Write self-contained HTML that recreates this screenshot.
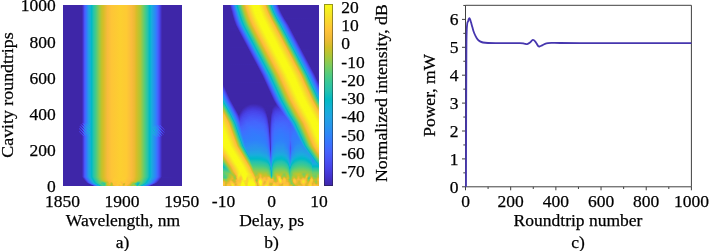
<!DOCTYPE html><html><head><meta charset="utf-8"><style>html,body{margin:0;padding:0;background:#fff}#f{position:relative;width:709px;height:251px;overflow:hidden;background:#fff}svg{position:absolute;left:0;top:0;will-change:transform}text{font-family:'Liberation Serif', serif;font-size:17.5px;fill:#000;stroke:#000;stroke-width:0.25px}</style></head><body><div id="f">
<div style="position:absolute;left:63px;top:5px;width:119px;height:118px;background:linear-gradient(90deg,#3e26a8 0.0px,#3e26a8 18.5px,#412dbc 19.5px,#463cde 20.5px,#4758f8 21.5px,#4368fe 22.5px,#347afd 23.5px,#259ce7 25.5px,#11b1d6 27.5px,#01b8c8 28.5px,#10beba 29.5px,#27c2ac 30.5px,#41ca8c 32.5px,#99c946 36.5px,#c0c32d 38.5px,#d7be28 40.5px,#f8ba3d 44.5px,#fec537 48.5px,#fccf30 57.5px,#feca33 63.5px,#fabb3d 68.5px,#ecba32 71.5px,#d6be28 73.5px,#b6c532 76.5px,#abc739 77.5px,#58cc79 81.5px,#36c899 83.5px,#2ac3a9 84.5px,#02bac5 86.5px,#08b4d1 87.5px,#18aedb 88.5px,#2e85f8 92.5px,#3777fe 93.5px,#4368fd 94.5px,#4758f8 95.5px,#4848ec 96.5px,#4538d7 97.5px,#412cb9 98.5px,#3e26a8 99.5px,#3e26a8 119.0px)"></div>
<div style="position:absolute;left:63px;top:123px;width:119px;height:1px;background:linear-gradient(90deg,#3e26a8 0.0px,#3e26a8 18.5px,#463bdc 19.5px,#484bef 20.5px,#4755f6 21.5px,#317dfc 22.5px,#307ffb 23.5px,#1ea8e1 26.5px,#01b8c8 28.5px,#10beba 29.5px,#27c2ac 30.5px,#41ca8c 32.5px,#99c946 36.5px,#c0c32d 38.5px,#d7be28 40.5px,#f8ba3d 44.5px,#fec537 48.5px,#fccf30 57.5px,#feca33 63.5px,#fabb3d 68.5px,#ecba32 71.5px,#d6be28 73.5px,#b6c532 76.5px,#abc739 77.5px,#58cc79 81.5px,#36c899 83.5px,#2ac3a9 84.5px,#02bac5 86.5px,#08b4d1 87.5px,#18aedb 88.5px,#2e85f8 92.5px,#3777fe 93.5px,#4368fd 94.5px,#4758f8 95.5px,#4848ec 96.5px,#4538d7 97.5px,#412cb9 98.5px,#3e26a8 99.5px,#3e26a8 119.0px)"></div>
<div style="position:absolute;left:63px;top:124px;width:119px;height:1px;background:linear-gradient(90deg,#3e26a8 0.0px,#3e26a8 16.5px,#4434cf 18.5px,#3f29b2 19.5px,#475af9 20.5px,#3e6fff 21.5px,#4564fd 22.5px,#2b92ef 23.5px,#2b92ee 24.5px,#1ea8e1 26.5px,#01b8c8 28.5px,#10beba 29.5px,#27c2ac 30.5px,#41ca8c 32.5px,#99c946 36.5px,#c0c32d 38.5px,#d7be28 40.5px,#f8ba3d 44.5px,#fec537 48.5px,#fccf30 57.5px,#feca33 63.5px,#fabb3d 68.5px,#ecba32 71.5px,#d6be28 73.5px,#b6c532 76.5px,#abc739 77.5px,#58cc79 81.5px,#36c899 83.5px,#2ac3a9 84.5px,#02bac5 86.5px,#08b4d1 87.5px,#18aedb 88.5px,#2e85f8 92.5px,#3777fe 93.5px,#4368fd 94.5px,#4758f8 95.5px,#4848ec 96.5px,#4538d7 97.5px,#412cb9 98.5px,#3e26a8 99.5px,#3e26a8 119.0px)"></div>
<div style="position:absolute;left:63px;top:125px;width:119px;height:1px;background:linear-gradient(90deg,#3e26a8 0.0px,#3e26a8 15.5px,#3e27ac 16.5px,#3e26a8 17.5px,#463adb 18.5px,#4747eb 19.5px,#4536d4 20.5px,#307ffb 21.5px,#2e83f9 22.5px,#3975fe 23.5px,#22a1e4 24.5px,#249de6 25.5px,#11b1d6 27.5px,#01b8c8 28.5px,#10beba 29.5px,#27c2ac 30.5px,#41ca8c 32.5px,#99c946 36.5px,#c0c32d 38.5px,#d7be28 40.5px,#f8ba3d 44.5px,#fec537 48.5px,#fccf30 57.5px,#feca33 63.5px,#fabb3d 68.5px,#ecba32 71.5px,#d6be28 73.5px,#b6c532 76.5px,#abc739 77.5px,#58cc79 81.5px,#36c899 83.5px,#2ac3a9 84.5px,#02bac5 86.5px,#08b4d1 87.5px,#18aedb 88.5px,#2b91ef 91.5px,#327cfc 93.5px,#2e83f9 94.5px,#4759f8 95.5px,#484cef 97.5px,#402bb7 98.5px,#3e26a8 99.5px,#3e26a8 119.0px)"></div>
<div style="position:absolute;left:63px;top:126px;width:119px;height:1px;background:linear-gradient(90deg,#3e26a8 0.0px,#3e26a8 15.5px,#422ebf 16.5px,#463bdd 17.5px,#3e26a8 18.5px,#484bef 19.5px,#4660fb 20.5px,#4851f3 21.5px,#2b90f0 22.5px,#2a92ee 23.5px,#2d88f6 24.5px,#1caadf 25.5px,#1ea8e1 26.5px,#01b8c8 28.5px,#10beba 29.5px,#27c2ac 30.5px,#41ca8c 32.5px,#99c946 36.5px,#c0c32d 38.5px,#d7be28 40.5px,#f8ba3d 44.5px,#fec537 48.5px,#fccf30 57.5px,#feca33 63.5px,#fabb3d 68.5px,#ecba32 71.5px,#d6be28 73.5px,#b6c532 76.5px,#abc739 77.5px,#58cc79 81.5px,#36c899 83.5px,#2ac3a9 84.5px,#02bac5 86.5px,#08b4d1 87.5px,#18aedb 88.5px,#2a92ee 91.5px,#249fe5 92.5px,#327bfc 93.5px,#3d71ff 94.5px,#2f82fa 95.5px,#4848ec 96.5px,#4743e7 98.5px,#3e26a8 99.5px,#3e26a8 119.0px)"></div>
<div style="position:absolute;left:63px;top:127px;width:119px;height:1px;background:linear-gradient(90deg,#3e26a8 0.0px,#3e26a8 16.5px,#4537d6 17.5px,#4746ea 18.5px,#3e28ad 19.5px,#4563fc 20.5px,#2f81fa 21.5px,#4660fc 22.5px,#249ee6 23.5px,#23a0e5 24.5px,#269ae8 25.5px,#11b1d6 27.5px,#01b8c8 28.5px,#10beba 29.5px,#27c2ac 30.5px,#41ca8c 32.5px,#99c946 36.5px,#c0c32d 38.5px,#d7be28 40.5px,#f8ba3d 44.5px,#fec537 48.5px,#fccf30 57.5px,#feca33 63.5px,#fabb3d 68.5px,#ecba32 71.5px,#d6be28 73.5px,#b6c532 76.5px,#abc739 77.5px,#58cc79 81.5px,#36c899 83.5px,#2ac3a9 84.5px,#02bac5 86.5px,#08b4d1 87.5px,#18aedb 88.5px,#1fa6e2 89.5px,#1da9e0 90.5px,#2d89f5 92.5px,#23a0e5 93.5px,#406dfe 94.5px,#4563fd 95.5px,#3678fe 96.5px,#4538d8 97.5px,#4535d2 98.5px,#463cdf 99.5px,#3e26a8 100.5px,#3e26a8 119.0px)"></div>
<div style="position:absolute;left:63px;top:128px;width:119px;height:1px;background:linear-gradient(90deg,#3e26a8 0.0px,#3e26a8 15.5px,#463adb 16.5px,#3e26a8 17.5px,#463de0 18.5px,#4755f6 19.5px,#4435d1 20.5px,#2f82f9 21.5px,#2c90f0 22.5px,#3c72ff 23.5px,#1ca9df 24.5px,#1ea8e1 26.5px,#01b8c8 28.5px,#10beba 29.5px,#27c2ac 30.5px,#41ca8c 32.5px,#99c946 36.5px,#c0c32d 38.5px,#d7be28 40.5px,#f8ba3d 44.5px,#fec537 48.5px,#fccf30 57.5px,#feca33 63.5px,#fabb3d 68.5px,#ecba32 71.5px,#d6be28 73.5px,#b6c532 76.5px,#abc739 77.5px,#58cc79 81.5px,#36c899 83.5px,#2ac3a9 84.5px,#02bac5 86.5px,#08b4d1 87.5px,#18aedb 88.5px,#259ce7 90.5px,#15afd9 91.5px,#2c8ef1 92.5px,#317dfc 93.5px,#259ce7 94.5px,#465efb 95.5px,#4853f5 96.5px,#4369fe 97.5px,#412cba 98.5px,#422fc2 99.5px,#4639d9 100.5px,#3e26a8 101.5px,#3e26a8 119.0px)"></div>
<div style="position:absolute;left:63px;top:129px;width:119px;height:1px;background:linear-gradient(90deg,#3e26a8 0.0px,#3e26a8 15.5px,#4330c5 16.5px,#4746ea 17.5px,#3e26a8 18.5px,#484aee 19.5px,#416bfe 20.5px,#4850f2 21.5px,#2b90f0 22.5px,#259be7 23.5px,#2e86f7 24.5px,#15afd8 25.5px,#1ea8e1 26.5px,#01b8c8 28.5px,#10beba 29.5px,#27c2ac 30.5px,#41ca8c 32.5px,#99c946 36.5px,#c0c32d 38.5px,#d7be28 40.5px,#f8ba3d 44.5px,#fec537 48.5px,#fccf30 57.5px,#feca33 63.5px,#fabb3d 68.5px,#ecba32 71.5px,#d6be28 73.5px,#b6c532 76.5px,#abc739 77.5px,#58cc79 81.5px,#36c899 83.5px,#2ac3a9 84.5px,#02bac5 86.5px,#08b4d1 87.5px,#18aedb 88.5px,#14b0d8 89.5px,#20a4e3 90.5px,#2b91ef 91.5px,#17aeda 92.5px,#2e83f9 93.5px,#3f6eff 94.5px,#2a93ee 95.5px,#484ef1 96.5px,#4743e7 97.5px,#4758f8 98.5px,#3e27aa 99.5px,#422ebe 100.5px,#4230c4 101.5px,#3e26a8 102.5px,#3e26a8 119.0px)"></div>
<div style="position:absolute;left:63px;top:130px;width:119px;height:1px;background:linear-gradient(90deg,#3e26a8 0.0px,#3e26a8 16.5px,#4434d0 17.5px,#484cf0 18.5px,#3f28af 19.5px,#465efb 20.5px,#2d88f6 21.5px,#4660fb 22.5px,#259be8 23.5px,#1fa6e2 24.5px,#2699e9 25.5px,#11b1d6 27.5px,#01b8c8 28.5px,#10beba 29.5px,#27c2ac 30.5px,#41ca8c 32.5px,#99c946 36.5px,#c0c32d 38.5px,#d7be28 40.5px,#f8ba3d 44.5px,#fec537 48.5px,#fccf30 57.5px,#feca33 63.5px,#fabb3d 68.5px,#ecba32 71.5px,#d6be28 73.5px,#b6c532 76.5px,#abc739 77.5px,#58cc79 81.5px,#36c899 83.5px,#2ac3a9 84.5px,#02bac5 86.5px,#08b4d1 87.5px,#18aedb 88.5px,#20a5e3 89.5px,#0ab4d1 90.5px,#249ee6 91.5px,#2e86f8 92.5px,#1ca9e0 93.5px,#3875fe 94.5px,#465ffb 95.5px,#2e84f9 96.5px,#463de0 97.5px,#4434ce 98.5px,#484bef 99.5px,#3e27a9 100.5px,#402ab5 101.5px,#3e26a8 102.5px,#3e26a8 119.0px)"></div>
<div style="position:absolute;left:63px;top:131px;width:119px;height:1px;background:linear-gradient(90deg,#3e26a8 0.0px,#3e26a8 15.5px,#4538d8 16.5px,#3e26a8 17.5px,#4536d5 18.5px,#4758f8 19.5px,#4536d4 20.5px,#337afd 21.5px,#2a93ed 22.5px,#3b72ff 23.5px,#20a4e3 24.5px,#1babde 25.5px,#1ea8e1 26.5px,#01b8c8 28.5px,#10beba 29.5px,#27c2ac 30.5px,#41ca8c 32.5px,#99c946 36.5px,#c0c32d 38.5px,#d7be28 40.5px,#f8ba3d 44.5px,#fec537 48.5px,#fccf30 57.5px,#feca33 63.5px,#fabb3d 68.5px,#ecba32 71.5px,#d6be28 73.5px,#b6c532 76.5px,#abc739 77.5px,#58cc79 81.5px,#36c899 83.5px,#2ac3a9 84.5px,#02bac5 86.5px,#08b4d1 87.5px,#18aedb 88.5px,#1aacdd 89.5px,#269ae9 90.5px,#0fb2d4 91.5px,#2895ec 92.5px,#3678fe 93.5px,#23a0e5 94.5px,#4465fd 95.5px,#484ef1 96.5px,#3e6fff 97.5px,#4230c4 98.5px,#412dbc 99.5px,#4741e5 100.5px,#3e27a9 101.5px,#3e26a8 119.0px)"></div>
<div style="position:absolute;left:63px;top:132px;width:119px;height:1px;background:linear-gradient(90deg,#3e26a8 0.0px,#3e26a8 15.5px,#402bb6 16.5px,#4740e4 17.5px,#3e26a8 18.5px,#4740e3 19.5px,#426afe 20.5px,#4852f4 21.5px,#2e86f7 22.5px,#259be8 23.5px,#2d88f6 24.5px,#1ea7e1 25.5px,#1ea8e1 26.5px,#01b8c8 28.5px,#10beba 29.5px,#27c2ac 30.5px,#41ca8c 32.5px,#99c946 36.5px,#c0c32d 38.5px,#d7be28 40.5px,#f8ba3d 44.5px,#fec537 48.5px,#fccf30 57.5px,#feca33 63.5px,#fabb3d 68.5px,#ecba32 71.5px,#d6be28 73.5px,#b6c532 76.5px,#abc739 77.5px,#58cc79 81.5px,#36c899 83.5px,#2ac3a9 84.5px,#02bac5 86.5px,#08b4d1 87.5px,#18aedb 88.5px,#15afd9 89.5px,#1ea8e1 90.5px,#2c8ef1 91.5px,#19addc 92.5px,#2d89f5 93.5px,#4368fe 94.5px,#2b92ee 95.5px,#4854f5 96.5px,#463de0 97.5px,#4759f8 98.5px,#3f29b2 99.5px,#402bb7 100.5px,#4330c5 101.5px,#3e26a8 102.5px,#3e26a8 119.0px)"></div>
<div style="position:absolute;left:63px;top:133px;width:119px;height:1px;background:linear-gradient(90deg,#3e26a8 0.0px,#3e26a8 16.5px,#412dbb 17.5px,#4743e7 18.5px,#402bb7 19.5px,#4851f3 20.5px,#2e83f9 21.5px,#4563fc 22.5px,#2c8ff1 23.5px,#249fe5 24.5px,#259ce7 25.5px,#11b1d6 27.5px,#01b8c8 28.5px,#10beba 29.5px,#27c2ac 30.5px,#41ca8c 32.5px,#99c946 36.5px,#c0c32d 38.5px,#d7be28 40.5px,#f8ba3d 44.5px,#fec537 48.5px,#fccf30 57.5px,#feca33 63.5px,#fabb3d 68.5px,#ecba32 71.5px,#d6be28 73.5px,#b6c532 76.5px,#abc739 77.5px,#58cc79 81.5px,#36c899 83.5px,#2ac3a9 84.5px,#02bac5 86.5px,#08b4d1 87.5px,#18aedb 88.5px,#1fa6e2 89.5px,#17aeda 90.5px,#23a0e5 91.5px,#2f82f9 92.5px,#21a3e3 93.5px,#337bfc 94.5px,#4759f8 95.5px,#317efb 96.5px,#4742e6 97.5px,#422fc2 98.5px,#4745e9 99.5px,#3f28ae 100.5px,#3e26a8 101.5px,#3e26a8 119.0px)"></div>
<div style="position:absolute;left:63px;top:134px;width:119px;height:1px;background:linear-gradient(90deg,#3e26a8 0.0px,#3e26a9 17.5px,#412dbc 18.5px,#484aee 19.5px,#463ada 20.5px,#426afe 21.5px,#2d88f6 22.5px,#3876fe 23.5px,#2a93ed 24.5px,#1ea8e1 26.5px,#01b8c8 28.5px,#10beba 29.5px,#27c2ac 30.5px,#41ca8c 32.5px,#99c946 36.5px,#c0c32d 38.5px,#d7be28 40.5px,#f8ba3d 44.5px,#fec537 48.5px,#fccf30 57.5px,#feca33 63.5px,#fabb3d 68.5px,#ecba32 71.5px,#d6be28 73.5px,#b6c532 76.5px,#abc739 77.5px,#58cc79 81.5px,#36c899 83.5px,#2ac3a9 84.5px,#02bac5 86.5px,#08b4d1 87.5px,#18aedb 88.5px,#269ae9 90.5px,#1ea8e1 91.5px,#2896ec 92.5px,#3a74fe 93.5px,#2895ec 94.5px,#4269fe 95.5px,#4848ec 96.5px,#4563fc 97.5px,#4332ca 98.5px,#3f29af 99.5px,#4332ca 100.5px,#3e26a8 101.5px,#3e26a8 119.0px)"></div>
<div style="position:absolute;left:63px;top:135px;width:119px;height:1px;background:linear-gradient(90deg,#3e26a8 0.0px,#3e26a9 18.5px,#4332ca 19.5px,#4855f6 20.5px,#4756f7 21.5px,#3b73fe 22.5px,#2e83f9 23.5px,#2d8cf3 24.5px,#1ea8e1 26.5px,#01b8c8 28.5px,#10beba 29.5px,#27c2ac 30.5px,#41ca8c 32.5px,#99c946 36.5px,#c0c32d 38.5px,#d7be28 40.5px,#f8ba3d 44.5px,#fec537 48.5px,#fccf30 57.5px,#feca33 63.5px,#fabb3d 68.5px,#ecba32 71.5px,#d6be28 73.5px,#b6c532 76.5px,#abc739 77.5px,#58cc79 81.5px,#36c899 83.5px,#2ac3a9 84.5px,#02bac5 86.5px,#08b4d1 87.5px,#18aedb 88.5px,#2c8ff1 91.5px,#259ce7 92.5px,#2d88f6 93.5px,#4465fd 94.5px,#2f80fa 95.5px,#4755f6 96.5px,#4538d8 97.5px,#4744e8 98.5px,#3f29b1 99.5px,#3e26a8 100.5px,#3e26a8 119.0px)"></div>
<div style="position:absolute;left:63px;top:136px;width:119px;height:1px;background:linear-gradient(90deg,#3e26a8 0.0px,#3e26a8 18.5px,#412dbc 19.5px,#463cde 20.5px,#4758f8 21.5px,#4368fe 22.5px,#347afd 23.5px,#259ce7 25.5px,#11b1d6 27.5px,#01b8c8 28.5px,#10beba 29.5px,#27c2ac 30.5px,#41ca8c 32.5px,#99c946 36.5px,#c0c32d 38.5px,#d7be28 40.5px,#f8ba3d 44.5px,#fec537 48.5px,#fccf30 57.5px,#feca33 63.5px,#fabb3d 68.5px,#ecba32 71.5px,#d6be28 73.5px,#b6c532 76.5px,#abc739 77.5px,#58cc79 81.5px,#36c899 83.5px,#2ac3a9 84.5px,#02bac5 86.5px,#08b4d1 87.5px,#18aedb 88.5px,#2e84f9 92.5px,#2d8af4 93.5px,#3975fe 94.5px,#4757f7 95.5px,#4661fc 96.5px,#473ee1 97.5px,#412cb9 98.5px,#3e26a8 99.5px,#3e26a8 119.0px)"></div>
<div style="position:absolute;left:63px;top:137px;width:119px;height:40px;background:linear-gradient(90deg,#3e26a8 0.0px,#3e26a8 18.5px,#412dbc 19.5px,#463cde 20.5px,#4758f8 21.5px,#4368fe 22.5px,#347afd 23.5px,#259ce7 25.5px,#11b1d6 27.5px,#01b8c8 28.5px,#10beba 29.5px,#27c2ac 30.5px,#41ca8c 32.5px,#99c946 36.5px,#c0c32d 38.5px,#d7be28 40.5px,#f8ba3d 44.5px,#fec537 48.5px,#fccf30 57.5px,#feca33 63.5px,#fabb3d 68.5px,#ecba32 71.5px,#d6be28 73.5px,#b6c532 76.5px,#abc739 77.5px,#58cc79 81.5px,#36c899 83.5px,#2ac3a9 84.5px,#02bac5 86.5px,#08b4d1 87.5px,#18aedb 88.5px,#2e85f8 92.5px,#3777fe 93.5px,#4368fd 94.5px,#4758f8 95.5px,#4848ec 96.5px,#4538d7 97.5px,#412cb9 98.5px,#3e26a8 99.5px,#3e26a8 119.0px)"></div>
<div style="position:absolute;left:63px;top:177px;width:119px;height:1px;background:linear-gradient(90deg,#3e26a8 0.0px,#3e26a8 18.5px,#3f28ad 19.5px,#4536d3 20.5px,#484ef1 21.5px,#4562fc 22.5px,#3b73fe 23.5px,#2e86f7 24.5px,#20a4e3 26.5px,#16afda 27.5px,#03b7cc 28.5px,#09bcbe 29.5px,#22c1b0 30.5px,#3dc991 32.5px,#7ecc5b 35.5px,#a9c73a 37.5px,#cbc129 39.5px,#e8bb2f 42.5px,#f8ba3d 44.5px,#fec537 48.5px,#fccf30 56.5px,#fdcc32 62.5px,#fdbd3d 67.5px,#f2ba37 70.5px,#d4bf28 73.5px,#b4c533 76.5px,#a7c73c 77.5px,#53cc7d 81.5px,#40ca8d 82.5px,#26c2ac 84.5px,#0ebebb 85.5px,#01b8c8 86.5px,#1aabdd 88.5px,#2f81fa 92.5px,#3c71ff 93.5px,#4562fc 94.5px,#4852f4 95.5px,#4741e5 96.5px,#4433cc 97.5px,#3e27ac 98.5px,#3e26a8 115.5px,#3e26a8 119.0px)"></div>
<div style="position:absolute;left:63px;top:178px;width:119px;height:1px;background:linear-gradient(90deg,#3e26a8 0.0px,#3e26a8 19.5px,#402bb7 20.5px,#463adb 21.5px,#4756f7 22.5px,#4367fd 23.5px,#3479fd 24.5px,#249de7 26.5px,#1da8e0 27.5px,#01b9c6 29.5px,#2ac3a9 31.5px,#46cb87 33.5px,#a1c840 37.5px,#c7c12a 39.5px,#dcbd29 41.5px,#f6ba3b 44.5px,#fec03b 47.5px,#fdcb32 51.5px,#fdce31 61.5px,#fdbd3d 67.5px,#f1ba36 70.5px,#ddbd29 72.5px,#c6c22a 74.5px,#b0c636 76.5px,#8bcb51 78.5px,#49cb85 81.5px,#1bc0b4 84.5px,#03bbc2 85.5px,#06b5cf 86.5px,#16aeda 87.5px,#2b91ef 90.5px,#2e85f8 91.5px,#3776fe 92.5px,#4367fd 93.5px,#4757f7 94.5px,#4745ea 95.5px,#4536d3 96.5px,#402ab3 97.5px,#3e26a8 98.5px,#3e26a8 119.0px)"></div>
<div style="position:absolute;left:63px;top:179px;width:119px;height:1px;background:linear-gradient(90deg,#3e26a8 0.0px,#3e26a8 20.5px,#422fc2 21.5px,#4742e6 22.5px,#475cfa 23.5px,#406dfe 24.5px,#2f81fa 25.5px,#22a2e4 27.5px,#19addc 28.5px,#05b6ce 29.5px,#07bcc0 30.5px,#21c1b0 31.5px,#3dc990 33.5px,#82cc58 36.5px,#aec637 38.5px,#c1c32c 39.5px,#d9be28 41.5px,#f9bb3d 45.5px,#feca33 50.5px,#fccf30 60.5px,#fcbc3d 67.5px,#efba35 70.5px,#d9be28 72.5px,#c3c22b 74.5px,#acc738 76.5px,#55cc7c 80.5px,#41ca8c 81.5px,#26c2ad 83.5px,#0dbdbb 84.5px,#01b8c9 85.5px,#1caadf 87.5px,#327cfc 91.5px,#416cfe 92.5px,#475cfa 93.5px,#484bee 94.5px,#4639da 95.5px,#412dbb 96.5px,#3e26a8 97.5px,#3e26a8 119.0px)"></div>
<div style="position:absolute;left:63px;top:180px;width:119px;height:1px;background:linear-gradient(90deg,#3e26a8 0.0px,#3e26a8 21.5px,#4332cb 22.5px,#4849ed 23.5px,#4660fc 24.5px,#3b72ff 25.5px,#2e87f7 26.5px,#2699e9 27.5px,#13b1d7 29.5px,#01b8c8 30.5px,#11beb9 31.5px,#29c3aa 32.5px,#47cb87 34.5px,#9ac945 38.5px,#c0c32d 40.5px,#cfc028 41.5px,#dfbc2a 42.5px,#f7ba3c 45.5px,#fec13a 48.5px,#fdcb33 51.5px,#feca33 54.5px,#fdce31 58.5px,#fdcd32 60.5px,#fdcd31 61.5px,#febf3b 65.5px,#f8ba3d 68.5px,#ecba32 70.5px,#d1bf27 72.5px,#c9c129 73.5px,#9ac946 76.5px,#77cc5f 78.5px,#4acb84 80.5px,#2dc4a6 82.5px,#02bac4 84.5px,#09b4d1 85.5px,#19addc 86.5px,#2f80fa 90.5px,#3e70ff 91.5px,#4660fb 92.5px,#484ef1 93.5px,#463cdf 94.5px,#422fc0 95.5px,#3e26a8 96.5px,#3e26a8 119.0px)"></div>
<div style="position:absolute;left:63px;top:181px;width:119px;height:1px;background:linear-gradient(90deg,#3e26a8 0.0px,#3e26a8 22.5px,#4435d0 23.5px,#484ef1 24.5px,#4564fd 25.5px,#3776fe 26.5px,#249de7 28.5px,#1ca9df 29.5px,#0bb3d2 30.5px,#02bac3 31.5px,#1cc0b4 32.5px,#3bc992 34.5px,#52cc7e 35.5px,#5bcc76 36.5px,#70cd65 37.5px,#7ecc5b 38.5px,#81cc58 39.5px,#97ca48 40.5px,#b4c533 41.5px,#cbc029 42.5px,#e0bc2a 44.5px,#f1ba37 45.5px,#fcbc3d 47.5px,#fec834 50.5px,#fec438 53.5px,#fdce31 56.5px,#fec537 57.5px,#fec934 59.5px,#fec537 60.5px,#fdcb33 61.5px,#fcbc3d 66.5px,#ddbd29 70.5px,#dabd28 71.5px,#cec028 72.5px,#b9c431 73.5px,#8fcb4e 74.5px,#74cc62 75.5px,#6fcd66 76.5px,#71cd64 77.5px,#69cd6a 78.5px,#40ca8d 80.5px,#23c1af 82.5px,#08bcbf 83.5px,#04b6cc 84.5px,#15afd8 85.5px,#2c90f0 88.5px,#2e83f9 89.5px,#3a73fe 90.5px,#4563fc 91.5px,#4851f3 92.5px,#473ee1 93.5px,#3e26a8 95.5px,#3e26a8 119.0px)"></div>
<div style="position:absolute;left:63px;top:182px;width:119px;height:1px;background:linear-gradient(90deg,#3e26a8 0.0px,#3e26a8 22.5px,#3f28ae 23.5px,#4538d7 24.5px,#4755f6 25.5px,#4368fe 26.5px,#327cfc 27.5px,#23a1e4 29.5px,#19addc 30.5px,#04b6cd 31.5px,#0abdbe 32.5px,#25c2ad 33.5px,#44cb8a 35.5px,#5ccc75 36.5px,#61cd72 37.5px,#5acc77 38.5px,#4acb84 39.5px,#52cc7e 40.5px,#6bcd69 41.5px,#b1c635 43.5px,#cdc028 44.5px,#e6bb2d 45.5px,#f9ba3d 46.5px,#e3bb2c 48.5px,#f8ba3d 49.5px,#fec835 50.5px,#fec537 52.5px,#fdce31 54.5px,#fec835 55.5px,#fec537 57.5px,#fcbd3d 58.5px,#fccf30 60.5px,#fec338 61.5px,#fec13a 62.5px,#fec636 63.5px,#fcbd3d 66.5px,#dbbd29 68.5px,#c5c22a 69.5px,#b3c534 70.5px,#b3c534 71.5px,#a4c83e 72.5px,#6fcd66 73.5px,#39c895 74.5px,#2ec5a4 75.5px,#38c895 76.5px,#52cc7e 77.5px,#60cd72 78.5px,#38c896 80.5px,#2bc3a8 81.5px,#01b9c7 83.5px,#1caadf 85.5px,#2e87f7 88.5px,#3777fe 89.5px,#4466fd 90.5px,#4854f6 91.5px,#4741e5 92.5px,#3e26a8 94.5px,#3e26a8 119.0px)"></div>
<div style="position:absolute;left:63px;top:183px;width:119px;height:1px;background:linear-gradient(90deg,#3e26a8 0.0px,#3e26a8 24.5px,#422fc1 25.5px,#4745e9 26.5px,#4660fb 27.5px,#3a73fe 28.5px,#249de7 30.5px,#1caadf 31.5px,#07b5d0 32.5px,#06bcc0 33.5px,#23c1af 34.5px,#44ca8a 36.5px,#5dcc75 37.5px,#39c895 38.5px,#3fca8e 39.5px,#37c898 40.5px,#35c79b 41.5px,#5acc77 42.5px,#abc739 43.5px,#d7be28 44.5px,#e0bc2a 45.5px,#edba33 46.5px,#e2bc2b 47.5px,#b4c533 48.5px,#d8be28 49.5px,#fec735 50.5px,#fec03a 51.5px,#fec438 53.5px,#fccf30 55.5px,#fccf30 57.5px,#fabb3d 59.5px,#e8bb2f 60.5px,#dfbc2a 61.5px,#fcbd3d 62.5px,#fec438 63.5px,#fdbd3d 65.5px,#f3ba38 66.5px,#e1bc2b 67.5px,#c6c22a 68.5px,#a2c83f 69.5px,#74cd62 71.5px,#49cb85 72.5px,#2ec5a4 73.5px,#12beb9 74.5px,#0cbdbc 75.5px,#2dc4a6 76.5px,#62cd71 77.5px,#4acb85 78.5px,#29c3a9 80.5px,#10beba 81.5px,#01b8ca 82.5px,#13b1d7 83.5px,#2c8ff0 86.5px,#2f81fa 87.5px,#3e6fff 88.5px,#465efb 89.5px,#484aee 90.5px,#4537d6 91.5px,#3f29b2 92.5px,#3e26a8 93.5px,#3e26a8 119.0px)"></div>
<div style="position:absolute;left:63px;top:184px;width:119px;height:1px;background:linear-gradient(90deg,#3e26a8 0.0px,#3e26a8 26.5px,#422ebe 27.5px,#4745e9 28.5px,#4561fc 29.5px,#3776fe 30.5px,#23a1e5 32.5px,#17aeda 33.5px,#01b8ca 34.5px,#14beb8 35.5px,#2dc4a6 36.5px,#3bc992 37.5px,#55cc7b 38.5px,#44cb89 39.5px,#35c79a 41.5px,#5ecd74 42.5px,#adc638 43.5px,#d3bf27 44.5px,#d9be28 45.5px,#eabb30 46.5px,#d8be28 47.5px,#afc637 48.5px,#cfc028 49.5px,#febe3c 50.5px,#fec636 51.5px,#fec03b 53.5px,#fec934 54.5px,#fec03a 56.5px,#fccf31 57.5px,#fccf30 58.5px,#f6ba3b 59.5px,#cdc028 60.5px,#d5be28 61.5px,#fec03b 62.5px,#febe3c 64.5px,#f1ba37 65.5px,#e1bc2b 66.5px,#c8c129 67.5px,#8ecb4f 69.5px,#8ecb4e 70.5px,#7dcc5c 71.5px,#49cb85 72.5px,#2dc4a5 73.5px,#0fbeba 74.5px,#10beba 75.5px,#5ccc76 76.5px,#43ca8b 77.5px,#20c1b1 79.5px,#03bbc3 80.5px,#0ab4d2 81.5px,#1babde 82.5px,#2e83f9 85.5px,#3d71ff 86.5px,#465efb 87.5px,#4849ed 88.5px,#4435d1 89.5px,#3e27aa 90.5px,#3e26a8 119.0px)"></div>
<div style="position:absolute;left:63px;top:185px;width:119px;height:1px;background:linear-gradient(90deg,#3e26a8 0.0px,#3e26a8 28.5px,#3f29b2 29.5px,#473ee2 30.5px,#465ffb 31.5px,#3876fe 32.5px,#2c8ff0 33.5px,#13b0d7 35.5px,#02bac5 36.5px,#20c1b1 37.5px,#48cb86 39.5px,#3cc992 40.5px,#42ca8b 41.5px,#67cd6d 42.5px,#9cc944 43.5px,#bec32e 44.5px,#d8be28 45.5px,#d5be28 46.5px,#bac430 47.5px,#b1c635 48.5px,#ccc028 49.5px,#e8bb2f 50.5px,#f7ba3c 51.5px,#febf3c 52.5px,#fdcd32 54.5px,#fabb3d 56.5px,#fec537 58.5px,#f5ba3b 59.5px,#e3bc2c 60.5px,#efba35 61.5px,#fec03b 62.5px,#fdbd3d 63.5px,#edba33 64.5px,#d9be28 66.5px,#bdc32f 67.5px,#9cc943 68.5px,#9cc944 69.5px,#c1c32c 70.5px,#9dc943 71.5px,#9ec942 72.5px,#41ca8d 73.5px,#1ac0b4 74.5px,#52cc7e 75.5px,#3ac994 76.5px,#2ac3a9 77.5px,#0cbdbc 78.5px,#05b6cd 79.5px,#19addc 80.5px,#2e83f9 83.5px,#3f6fff 84.5px,#475af9 85.5px,#4743e7 86.5px,#4330c5 87.5px,#3e26a8 88.5px,#3e26a8 119.0px)"></div>
<div style="position:absolute;left:223px;top:5px;width:96px;height:1px;background:linear-gradient(90deg,#3e26a8 0.0px,#3e26a8 6.5px,#422fc2 7.5px,#4744e8 8.5px,#4758f8 9.5px,#406cfe 10.5px,#2d89f5 11.5px,#22a2e4 12.5px,#0db3d4 13.5px,#08bcbf 14.5px,#2bc3a8 15.5px,#3eca8f 16.5px,#61cd71 17.5px,#b1c636 19.5px,#cbc129 20.5px,#e1bc2b 21.5px,#f4ba3a 22.5px,#fec03b 23.5px,#f5e924 27.5px,#f8f817 29.5px,#f9f916 35.5px,#f5e128 38.5px,#fec338 41.5px,#f3ba39 42.5px,#d0c028 43.5px,#a2c840 44.5px,#6ecd67 45.5px,#3eca8f 46.5px,#1cc0b4 47.5px,#0bb3d2 48.5px,#23a0e5 49.5px,#3876fe 51.5px,#465ffb 52.5px,#484aee 53.5px,#4435d1 54.5px,#3e26a8 55.5px,#3e26a8 96.0px)"></div>
<div style="position:absolute;left:223px;top:6px;width:96px;height:1px;background:linear-gradient(90deg,#3e26a8 0.0px,#3e26a8 6.5px,#402bb6 7.5px,#463ee1 8.5px,#4853f5 9.5px,#4367fd 10.5px,#2f82f9 11.5px,#259ce7 12.5px,#15afd9 13.5px,#02bac5 14.5px,#24c1ae 15.5px,#38c896 16.5px,#57cc7a 17.5px,#a8c73b 19.5px,#c3c22b 20.5px,#dbbd29 21.5px,#efba35 22.5px,#fdbd3d 23.5px,#f5ef21 28.5px,#f9fb15 30.5px,#f9fb15 35.5px,#f5e526 38.5px,#fec736 41.5px,#fcbc3d 42.5px,#ddbd29 43.5px,#b3c534 44.5px,#81cc59 45.5px,#50cc80 46.5px,#2bc3a8 47.5px,#01b9c8 48.5px,#1ea8e1 49.5px,#2a92ee 50.5px,#317efb 51.5px,#4368fd 52.5px,#4852f4 53.5px,#463cde 54.5px,#402bb6 55.5px,#3e26a8 56.5px,#3e26a8 96.0px)"></div>
<div style="position:absolute;left:223px;top:7px;width:96px;height:1px;background:linear-gradient(90deg,#3e26a8 0.0px,#3e27aa 7.5px,#4538d8 8.5px,#484ef1 9.5px,#4562fc 10.5px,#337afd 11.5px,#2896eb 12.5px,#1baade 13.5px,#01b7ca 14.5px,#4dcb82 17.5px,#9cc944 19.5px,#bcc42f 20.5px,#d5be28 21.5px,#fabb3d 23.5px,#fdce31 25.5px,#f5ec22 28.5px,#f9fb15 30.5px,#f9fb15 35.5px,#f5e825 38.5px,#fec03b 42.5px,#eabb30 43.5px,#c3c22b 44.5px,#93ca4b 45.5px,#60cd72 46.5px,#0bbdbd 48.5px,#16afd9 49.5px,#269ae8 50.5px,#2e86f7 51.5px,#3e70ff 52.5px,#475af9 53.5px,#4744e8 54.5px,#4331c7 55.5px,#3e26a8 56.5px,#3e26a8 96.0px)"></div>
<div style="position:absolute;left:223px;top:8px;width:96px;height:1px;background:linear-gradient(90deg,#3e26a8 0.0px,#3e26a8 7.5px,#4434ce 8.5px,#4849ed 9.5px,#475dfa 10.5px,#3b72ff 11.5px,#2c8ff0 12.5px,#1fa6e2 13.5px,#07b5d0 14.5px,#0fbebb 15.5px,#2ec5a3 16.5px,#43ca8a 17.5px,#91ca4c 19.5px,#b5c533 20.5px,#cec028 21.5px,#e4bb2c 22.5px,#f6ba3c 23.5px,#fec13a 24.5px,#f5ea24 28.5px,#f8f917 30.5px,#f9f916 36.5px,#f5e128 39.5px,#fec338 42.5px,#f5ba3a 43.5px,#d2bf27 44.5px,#a5c83e 45.5px,#71cd64 46.5px,#42ca8b 47.5px,#20c1b1 48.5px,#07b5d0 49.5px,#22a2e4 50.5px,#3579fd 52.5px,#4562fc 53.5px,#484df0 54.5px,#4537d6 55.5px,#3e27ab 56.5px,#3e26a8 96.0px)"></div>
<div style="position:absolute;left:223px;top:9px;width:96px;height:1px;background:linear-gradient(90deg,#3e26a8 0.0px,#3e26a8 7.5px,#422fc2 8.5px,#4744e8 9.5px,#4758f8 10.5px,#416cfe 11.5px,#2d88f6 12.5px,#23a0e5 13.5px,#10b2d5 14.5px,#05bbc1 15.5px,#29c3aa 16.5px,#3cc992 17.5px,#5dcc75 18.5px,#adc638 20.5px,#c7c12a 21.5px,#debd29 22.5px,#f1ba37 23.5px,#febe3c 24.5px,#f6ef20 29.5px,#f9fb15 31.5px,#f9fb15 36.5px,#f7db2b 40.5px,#fdbd3d 43.5px,#dfbc2a 44.5px,#b5c533 45.5px,#84cc56 46.5px,#53cc7d 47.5px,#2dc4a5 48.5px,#01bac5 49.5px,#1caadf 50.5px,#2994ed 51.5px,#2f81fa 52.5px,#426afe 53.5px,#4755f6 54.5px,#473fe2 55.5px,#412dbc 56.5px,#3e26a8 57.5px,#3e26a8 96.0px)"></div>
<div style="position:absolute;left:223px;top:10px;width:96px;height:1px;background:linear-gradient(90deg,#3e26a8 0.0px,#3e26a8 7.5px,#402ab5 8.5px,#463de0 9.5px,#4852f4 10.5px,#4466fd 11.5px,#3080fa 12.5px,#269ae8 13.5px,#18addb 14.5px,#01b9c7 15.5px,#20c1b1 16.5px,#36c799 17.5px,#52cc7e 18.5px,#a1c840 20.5px,#bfc32d 21.5px,#d7be28 22.5px,#fbbc3d 24.5px,#fdce31 26.5px,#f5ed22 29.5px,#f9fb15 31.5px,#f9fb15 36.5px,#f5e825 39.5px,#fec13a 43.5px,#ecba32 44.5px,#c6c22a 45.5px,#97ca47 46.5px,#64cd6e 47.5px,#38c896 48.5px,#12beb9 49.5px,#12b1d6 50.5px,#259de7 51.5px,#3a73fe 53.5px,#465dfb 54.5px,#4848ec 55.5px,#4434ce 56.5px,#3e26a8 57.5px,#3e26a8 96.0px)"></div>
<div style="position:absolute;left:223px;top:11px;width:96px;height:1px;background:linear-gradient(90deg,#3e26a8 0.0px,#3e26a8 8.5px,#4536d4 9.5px,#484cf0 10.5px,#465ffb 11.5px,#3876fe 12.5px,#2a92ee 13.5px,#1ea8e1 14.5px,#05b6ce 15.5px,#13beb9 16.5px,#30c5a1 17.5px,#46cb88 18.5px,#93ca4a 20.5px,#b6c532 21.5px,#cfc028 22.5px,#e5bb2d 23.5px,#f7ba3c 24.5px,#fec13a 25.5px,#f5ea24 29.5px,#f8f917 31.5px,#f9fa16 37.5px,#f5e227 40.5px,#fec537 43.5px,#f8ba3d 44.5px,#d7be28 45.5px,#acc739 46.5px,#79cc5e 47.5px,#4acb84 48.5px,#27c2ab 49.5px,#02b7cb 50.5px,#1fa6e2 51.5px,#2b91ef 52.5px,#317dfc 53.5px,#4367fd 54.5px,#4852f4 55.5px,#463cde 56.5px,#402bb6 57.5px,#3e26a8 58.5px,#3e26a8 96.0px)"></div>
<div style="position:absolute;left:223px;top:12px;width:96px;height:1px;background:linear-gradient(90deg,#3e26a8 0.0px,#3e26a8 8.5px,#4332c8 9.5px,#4747eb 10.5px,#475af9 11.5px,#3f6efe 12.5px,#2d8bf4 13.5px,#22a2e4 14.5px,#0db3d3 15.5px,#07bcbf 16.5px,#2ac3a9 17.5px,#3dc990 18.5px,#5ecd74 19.5px,#adc638 21.5px,#c7c12a 22.5px,#debd29 23.5px,#f1ba37 24.5px,#febe3c 25.5px,#f5ef21 30.5px,#f9fb15 32.5px,#f9fb15 37.5px,#f7dd2a 41.5px,#febf3b 44.5px,#e7bb2d 45.5px,#bfc32d 46.5px,#90ca4d 47.5px,#5ecc74 48.5px,#0abdbd 50.5px,#16afd9 51.5px,#269ae8 52.5px,#2e87f7 53.5px,#3d71ff 54.5px,#475bfa 55.5px,#4746ea 56.5px,#4332ca 57.5px,#3e26a8 58.5px,#3e26a8 96.0px)"></div>
<div style="position:absolute;left:223px;top:13px;width:96px;height:1px;background:linear-gradient(90deg,#3e26a8 0.0px,#3e26a8 8.5px,#412ebd 9.5px,#4741e5 10.5px,#4755f6 11.5px,#4369fe 12.5px,#2e84f9 13.5px,#249de7 14.5px,#15afd9 15.5px,#02bac5 16.5px,#23c1af 17.5px,#37c897 18.5px,#54cc7d 19.5px,#a2c83f 21.5px,#c0c32d 22.5px,#d7be28 23.5px,#fbbc3d 25.5px,#fdce31 27.5px,#f5ec22 30.5px,#f9fb15 32.5px,#f8f817 38.5px,#f6e128 41.5px,#fec338 44.5px,#f4ba3a 45.5px,#d2bf27 46.5px,#a6c83d 47.5px,#74cd62 48.5px,#45cb89 49.5px,#24c1ae 50.5px,#04b6cd 51.5px,#20a5e3 52.5px,#327cfc 54.5px,#4466fd 55.5px,#4851f3 56.5px,#463bdd 57.5px,#402ab5 58.5px,#3e26a8 59.5px,#3e26a8 96.0px)"></div>
<div style="position:absolute;left:223px;top:14px;width:96px;height:1px;background:linear-gradient(90deg,#3e26a8 0.0px,#3e26a8 8.5px,#402ab3 9.5px,#463cde 10.5px,#4851f3 11.5px,#4564fd 12.5px,#327dfc 13.5px,#2797eb 14.5px,#1babde 15.5px,#02b7cb 16.5px,#49cb85 19.5px,#97ca48 21.5px,#b8c431 22.5px,#d0bf27 23.5px,#e5bb2d 24.5px,#f7ba3c 25.5px,#fec13a 26.5px,#f5e924 30.5px,#f8f818 32.5px,#f9fb15 38.5px,#f7db2a 42.5px,#febe3c 45.5px,#e3bc2c 46.5px,#bbc430 47.5px,#5acc77 49.5px,#32c69e 50.5px,#08bcbf 51.5px,#17aedb 52.5px,#2699e9 53.5px,#2e86f7 54.5px,#3d71ff 55.5px,#475bf9 56.5px,#4746ea 57.5px,#4433cb 58.5px,#3e26a8 59.5px,#3e26a8 96.0px)"></div>
<div style="position:absolute;left:223px;top:15px;width:96px;height:1px;background:linear-gradient(90deg,#3e26a8 0.0px,#3e26a8 9.5px,#4536d4 10.5px,#484cef 11.5px,#465efb 12.5px,#3a74fe 13.5px,#2c90f0 14.5px,#1fa6e2 15.5px,#08b4d0 16.5px,#0cbdbc 17.5px,#2dc4a6 18.5px,#40ca8d 19.5px,#62cd71 20.5px,#afc637 22.5px,#c8c129 23.5px,#debc2a 24.5px,#f1ba37 25.5px,#febe3c 26.5px,#f5ee21 31.5px,#f9fb15 33.5px,#f9fb15 38.5px,#f6df29 42.5px,#fec239 45.5px,#f2ba37 46.5px,#cfc028 47.5px,#a3c83f 48.5px,#71cd64 49.5px,#43ca8b 50.5px,#22c1af 51.5px,#05b6ce 52.5px,#20a4e3 53.5px,#327cfc 55.5px,#4466fd 56.5px,#4852f4 57.5px,#463cdf 58.5px,#402bb8 59.5px,#3e26a8 60.5px,#3e26a8 96.0px)"></div>
<div style="position:absolute;left:223px;top:16px;width:96px;height:1px;background:linear-gradient(90deg,#3e26a8 0.0px,#3e26a8 9.5px,#4331c7 10.5px,#4746ea 11.5px,#4759f8 12.5px,#406cfe 13.5px,#2d88f6 14.5px,#239fe5 15.5px,#12b1d6 16.5px,#02bbc3 17.5px,#25c2ad 18.5px,#38c896 19.5px,#55cc7b 20.5px,#a3c83f 22.5px,#bfc32d 23.5px,#d7be28 24.5px,#fbbc3d 26.5px,#fdcd32 28.5px,#f5eb23 31.5px,#f9f916 33.5px,#f9fa15 39.5px,#f5e427 42.5px,#febd3c 46.5px,#e2bc2b 47.5px,#bac430 48.5px,#5acc77 50.5px,#33c69e 51.5px,#09bcbe 52.5px,#16afda 53.5px,#269be8 54.5px,#2d87f7 55.5px,#3b72ff 56.5px,#465dfa 57.5px,#4848ec 58.5px,#4434d0 59.5px,#3e26a8 60.5px,#3e26a8 96.0px)"></div>
<div style="position:absolute;left:223px;top:17px;width:96px;height:1px;background:linear-gradient(90deg,#3e26a8 0.0px,#3e26a8 9.5px,#412cba 10.5px,#473fe2 11.5px,#4853f5 12.5px,#4466fd 13.5px,#307ffb 14.5px,#2699e9 15.5px,#1aacdd 16.5px,#01b8ca 17.5px,#49cb85 20.5px,#95ca49 22.5px,#b6c532 23.5px,#cec028 24.5px,#e4bb2c 25.5px,#f5ba3b 26.5px,#fec03b 27.5px,#f6ef20 32.5px,#f9fb15 34.5px,#f9fb15 39.5px,#f6df29 43.5px,#fec239 46.5px,#f2ba37 47.5px,#cfc028 48.5px,#a4c83e 49.5px,#72cd63 50.5px,#45cb89 51.5px,#25c2ae 52.5px,#03b7cc 53.5px,#1fa6e2 54.5px,#2b92ee 55.5px,#317efb 56.5px,#4369fe 57.5px,#4854f5 58.5px,#473fe2 59.5px,#412ebe 60.5px,#3e26a8 61.5px,#3e26a8 96.0px)"></div>
<div style="position:absolute;left:223px;top:18px;width:96px;height:1px;background:linear-gradient(90deg,#3e26a8 0.0px,#3e26a8 9.5px,#3e28ac 10.5px,#4539d8 11.5px,#484df1 12.5px,#4660fb 13.5px,#3876fe 14.5px,#2b91ef 15.5px,#1fa6e2 16.5px,#08b5d0 17.5px,#0cbdbc 18.5px,#2dc4a6 19.5px,#3fca8e 20.5px,#87cb54 22.5px,#adc638 23.5px,#c6c22a 24.5px,#dcbd29 25.5px,#fdbd3d 27.5px,#f8da2b 30.5px,#f7f31c 33.5px,#f9fb15 34.5px,#f9fa16 40.5px,#f5e327 43.5px,#fdbd3d 47.5px,#e2bc2b 48.5px,#bbc430 49.5px,#5ccc76 51.5px,#0bbdbc 53.5px,#14b0d8 54.5px,#259ce7 55.5px,#3975fe 57.5px,#465ffb 58.5px,#484bef 59.5px,#4537d5 60.5px,#3e27ab 61.5px,#3e26a8 96.0px)"></div>
<div style="position:absolute;left:223px;top:19px;width:96px;height:1px;background:linear-gradient(90deg,#3e26a8 0.0px,#3e26a8 10.5px,#4433cd 11.5px,#4848ec 12.5px,#475af9 13.5px,#3f6dfe 14.5px,#2d89f5 15.5px,#23a0e5 16.5px,#12b1d6 17.5px,#02bbc3 18.5px,#25c2ae 19.5px,#37c897 20.5px,#54cc7d 21.5px,#a0c841 23.5px,#bdc32e 24.5px,#d4bf28 25.5px,#e8bb2f 26.5px,#f9bb3d 27.5px,#fec239 28.5px,#f5e924 32.5px,#f9fb15 35.5px,#f9fb15 40.5px,#f6df29 44.5px,#fec239 47.5px,#f1ba37 48.5px,#d0c028 49.5px,#a4c83e 50.5px,#74cc62 51.5px,#47cb87 52.5px,#27c2ac 53.5px,#01b8ca 54.5px,#1ea7e1 55.5px,#2a93ed 56.5px,#2f80fa 57.5px,#416bfe 58.5px,#4757f7 59.5px,#4742e6 60.5px,#4230c4 61.5px,#3e26a8 62.5px,#3e26a8 96.0px)"></div>
<div style="position:absolute;left:223px;top:20px;width:96px;height:1px;background:linear-gradient(90deg,#3e26a8 0.0px,#3e26a8 10.5px,#412ebe 11.5px,#4740e4 12.5px,#4854f5 13.5px,#4367fd 14.5px,#3080fb 15.5px,#2699e9 16.5px,#1aacdd 17.5px,#01b7ca 18.5px,#47cb87 21.5px,#91ca4d 23.5px,#b3c534 24.5px,#cbc129 25.5px,#e0bc2b 26.5px,#f2ba38 27.5px,#febe3c 28.5px,#f5ed21 33.5px,#f9fb15 35.5px,#f9f916 41.5px,#f5e327 44.5px,#febe3c 48.5px,#e3bc2c 49.5px,#bdc32f 50.5px,#5fcd73 52.5px,#11beba 54.5px,#11b1d6 55.5px,#249fe6 56.5px,#3678fe 58.5px,#4562fc 59.5px,#484ef1 60.5px,#463adb 61.5px,#402ab3 62.5px,#3e26a8 63.5px,#3e26a8 96.0px)"></div>
<div style="position:absolute;left:223px;top:21px;width:96px;height:1px;background:linear-gradient(90deg,#3e26a8 0.0px,#3e26a8 10.5px,#3f28ae 11.5px,#4539d9 12.5px,#484df1 13.5px,#4660fb 14.5px,#3975fe 15.5px,#2c90f0 16.5px,#20a5e2 17.5px,#0ab4d2 18.5px,#09bcbe 19.5px,#2ac3a9 20.5px,#3cc992 21.5px,#5acc77 22.5px,#a6c83c 24.5px,#c1c32c 25.5px,#d7be28 26.5px,#fabb3d 28.5px,#fdcc32 30.5px,#f5ea24 33.5px,#f9fb15 36.5px,#f9fb15 41.5px,#f6df29 45.5px,#fec338 48.5px,#f4ba3a 49.5px,#d4bf28 50.5px,#aac73a 51.5px,#4ecc82 53.5px,#2cc4a7 54.5px,#01bac5 55.5px,#1babde 56.5px,#2e84f8 58.5px,#3e6fff 59.5px,#475bf9 60.5px,#4747eb 61.5px,#4434ce 62.5px,#3e26a8 63.5px,#3e26a8 96.0px)"></div>
<div style="position:absolute;left:223px;top:22px;width:96px;height:1px;background:linear-gradient(90deg,#3e26a8 0.0px,#3e26a8 11.5px,#4332ca 12.5px,#4746ea 13.5px,#4759f8 14.5px,#416bfe 15.5px,#2e86f7 16.5px,#249ee6 17.5px,#16afd9 18.5px,#01b9c6 19.5px,#1fc0b2 20.5px,#4ccb83 22.5px,#96ca48 24.5px,#b6c532 25.5px,#cec028 26.5px,#e2bc2c 27.5px,#f4ba39 28.5px,#febf3b 29.5px,#f5ed21 34.5px,#f9fb15 36.5px,#f9fa16 42.5px,#f7db2b 46.5px,#febf3c 49.5px,#e8bb2e 50.5px,#c3c22b 51.5px,#97ca48 52.5px,#67cd6c 53.5px,#3cc992 54.5px,#1cc0b4 55.5px,#08b5d0 56.5px,#21a3e3 57.5px,#317dfc 59.5px,#4368fd 60.5px,#4854f5 61.5px,#473fe3 62.5px,#422ebf 63.5px,#3e26a8 64.5px,#3e26a8 96.0px)"></div>
<div style="position:absolute;left:223px;top:23px;width:96px;height:1px;background:linear-gradient(90deg,#3e26a8 0.0px,#3e26a8 11.5px,#412cba 12.5px,#473ee1 13.5px,#4852f4 14.5px,#4464fd 15.5px,#327cfc 16.5px,#2895ec 17.5px,#1da9e0 18.5px,#05b6ce 19.5px,#0fbeba 20.5px,#2dc4a5 21.5px,#3fca8e 22.5px,#86cb55 24.5px,#abc739 25.5px,#c4c22b 26.5px,#dabd28 27.5px,#fbbc3d 29.5px,#fdcd32 31.5px,#f5ea24 34.5px,#f9fb15 37.5px,#f9fb15 42.5px,#f6e028 46.5px,#fec438 49.5px,#f8ba3d 50.5px,#d9bd28 51.5px,#b1c635 52.5px,#55cc7b 54.5px,#31c5a1 55.5px,#07bcc0 56.5px,#16aeda 57.5px,#259be8 58.5px,#3975fe 60.5px,#4660fb 61.5px,#484cf0 62.5px,#4538d8 63.5px,#3f29b0 64.5px,#3e26a8 65.5px,#3e26a8 96.0px)"></div>
<div style="position:absolute;left:223px;top:24px;width:96px;height:1px;background:linear-gradient(90deg,#3e26a8 0.0px,#3e27aa 12.5px,#4537d5 13.5px,#484bef 14.5px,#465dfa 15.5px,#3d70ff 16.5px,#22a2e4 18.5px,#10b2d5 19.5px,#03bbc3 20.5px,#25c2ae 21.5px,#37c898 22.5px,#51cc7e 23.5px,#9bc944 25.5px,#b9c430 26.5px,#d1bf27 27.5px,#e5bb2c 28.5px,#f6ba3b 29.5px,#fec03b 30.5px,#f5ee21 35.5px,#f9fb15 37.5px,#f9fa15 43.5px,#f7dc2a 47.5px,#fec03b 50.5px,#ecba32 51.5px,#c9c129 52.5px,#9ec942 53.5px,#6fcd66 54.5px,#43ca8a 55.5px,#25c2ae 56.5px,#02b7cb 57.5px,#1ea7e1 58.5px,#2994ed 59.5px,#2f82fa 60.5px,#406dfe 61.5px,#4759f8 62.5px,#4745e9 63.5px,#4332cb 64.5px,#3e26a8 65.5px,#3e26a8 96.0px)"></div>
<div style="position:absolute;left:223px;top:25px;width:96px;height:1px;background:linear-gradient(90deg,#3e26a8 0.0px,#3e26a8 12.5px,#4230c3 13.5px,#4742e6 14.5px,#4755f6 15.5px,#4367fd 16.5px,#2f80fa 17.5px,#2699e9 18.5px,#1babde 19.5px,#02b7cb 20.5px,#15bfb7 21.5px,#30c5a2 22.5px,#43ca8b 23.5px,#8acb52 25.5px,#aec637 26.5px,#c6c22a 27.5px,#dbbd29 28.5px,#fcbc3d 30.5px,#fdcd31 32.5px,#f5ea24 35.5px,#f9fb15 38.5px,#f9fb15 43.5px,#f6e128 47.5px,#fec537 50.5px,#fabb3d 51.5px,#ddbd29 52.5px,#b7c532 53.5px,#5bcc77 55.5px,#0ebdbb 57.5px,#12b1d6 58.5px,#249fe6 59.5px,#3579fd 61.5px,#4564fd 62.5px,#4850f3 63.5px,#463cdf 64.5px,#412cba 65.5px,#3e26a8 66.5px,#3e26a8 96.0px)"></div>
<div style="position:absolute;left:223px;top:26px;width:96px;height:1px;background:linear-gradient(90deg,#3e26a8 0.0px,#3e26a8 12.5px,#3e28ac 13.5px,#4538d7 14.5px,#484cf0 15.5px,#465efb 16.5px,#3c72ff 17.5px,#22a2e4 19.5px,#0fb2d5 20.5px,#04bbc2 21.5px,#25c2ad 22.5px,#37c897 23.5px,#52cc7e 24.5px,#9cc944 26.5px,#bac430 27.5px,#d1bf27 28.5px,#e5bb2d 29.5px,#f6ba3b 30.5px,#fec03b 31.5px,#f5ee21 36.5px,#f9fb15 38.5px,#f9fa15 44.5px,#f7dc2a 48.5px,#fec03a 51.5px,#edba34 52.5px,#cbc029 53.5px,#a1c840 54.5px,#71cd64 55.5px,#46cb88 56.5px,#27c2ac 57.5px,#01b8c9 58.5px,#1da9e0 59.5px,#2e83f9 61.5px,#3f6eff 62.5px,#475af9 63.5px,#4746eb 64.5px,#4434ce 65.5px,#3e26a8 66.5px,#3e26a8 96.0px)"></div>
<div style="position:absolute;left:223px;top:27px;width:96px;height:1px;background:linear-gradient(90deg,#3e26a8 0.0px,#3e26a8 13.5px,#422fc2 14.5px,#4742e6 15.5px,#4755f6 16.5px,#4367fd 17.5px,#3080fb 18.5px,#2698ea 19.5px,#1babde 20.5px,#03b7cc 21.5px,#14beb8 22.5px,#2fc5a2 23.5px,#42ca8b 24.5px,#89cb52 26.5px,#adc638 27.5px,#c6c22a 28.5px,#dbbd29 29.5px,#fcbc3d 31.5px,#fdcd31 33.5px,#f5ea24 36.5px,#f9fb15 39.5px,#f9fb15 44.5px,#f6e128 48.5px,#fec537 51.5px,#fbbc3d 52.5px,#debd29 53.5px,#b7c531 54.5px,#5ccc76 56.5px,#0fbeba 58.5px,#11b1d6 59.5px,#249fe5 60.5px,#3579fd 62.5px,#4464fd 63.5px,#4851f3 64.5px,#463cdf 65.5px,#412cba 66.5px,#3e26a8 67.5px,#3e26a8 96.0px)"></div>
<div style="position:absolute;left:223px;top:28px;width:96px;height:1px;background:linear-gradient(90deg,#3e26a8 0.0px,#3e27ab 14.5px,#4537d7 15.5px,#484cef 16.5px,#465efb 17.5px,#3c71ff 18.5px,#22a2e4 20.5px,#10b2d5 21.5px,#03bbc2 22.5px,#25c2ae 23.5px,#37c897 24.5px,#52cc7e 25.5px,#9bc944 27.5px,#b9c430 28.5px,#d0bf27 29.5px,#e4bb2c 30.5px,#f5ba3b 31.5px,#fec03b 32.5px,#f5ed21 37.5px,#f9fb15 39.5px,#f9fa15 45.5px,#f7dc2a 49.5px,#fec13a 52.5px,#eeba34 53.5px,#ccc028 54.5px,#a2c840 55.5px,#72cd63 56.5px,#47cb87 57.5px,#28c2ab 58.5px,#01b8c8 59.5px,#1ca9e0 60.5px,#2e83f9 62.5px,#3f6fff 63.5px,#475bf9 64.5px,#4747eb 65.5px,#4434cf 66.5px,#3e26a8 67.5px,#3e26a8 96.0px)"></div>
<div style="position:absolute;left:223px;top:29px;width:96px;height:1px;background:linear-gradient(90deg,#3e26a8 0.0px,#3e26a8 14.5px,#422fc1 15.5px,#4742e6 16.5px,#4855f6 17.5px,#4367fd 18.5px,#307ffb 19.5px,#2798ea 20.5px,#1baade 21.5px,#03b7cc 22.5px,#13beb8 23.5px,#2fc5a3 24.5px,#42ca8c 25.5px,#88cb53 27.5px,#adc638 28.5px,#c5c22a 29.5px,#dbbd28 30.5px,#fbbc3d 32.5px,#fdcd32 34.5px,#f5ea24 37.5px,#f9fb15 40.5px,#f9fb15 45.5px,#f6e128 49.5px,#fec537 52.5px,#fbbc3d 53.5px,#dfbc2a 54.5px,#b8c431 55.5px,#5dcc75 57.5px,#10beba 59.5px,#10b2d5 60.5px,#23a0e5 61.5px,#347afd 63.5px,#4465fd 64.5px,#4851f3 65.5px,#463de0 66.5px,#412dbb 67.5px,#3e26a8 68.5px,#3e26a8 96.0px)"></div>
<div style="position:absolute;left:223px;top:30px;width:96px;height:1px;background:linear-gradient(90deg,#3e26a8 0.0px,#3e27aa 15.5px,#4537d6 16.5px,#484bef 17.5px,#465dfa 18.5px,#3d70ff 19.5px,#22a1e4 21.5px,#11b2d5 22.5px,#02bbc3 23.5px,#24c1ae 24.5px,#36c898 25.5px,#51cc7f 26.5px,#9ac945 28.5px,#b9c431 29.5px,#d0c027 30.5px,#e4bb2c 31.5px,#f5ba3a 32.5px,#febf3b 33.5px,#f5ed21 38.5px,#f9fb15 40.5px,#f9fb15 46.5px,#f7dd2a 50.5px,#fec13a 53.5px,#efba35 54.5px,#cdc028 55.5px,#a3c83f 56.5px,#48cb86 58.5px,#29c3aa 59.5px,#01b9c8 60.5px,#1caadf 61.5px,#2e84f9 63.5px,#3e6fff 64.5px,#475bf9 65.5px,#4747eb 66.5px,#4434d0 67.5px,#3e26a8 68.5px,#3e26a8 96.0px)"></div>
<div style="position:absolute;left:223px;top:31px;width:96px;height:1px;background:linear-gradient(90deg,#3e26a8 0.0px,#3e26a8 15.5px,#422ebf 16.5px,#4740e4 17.5px,#4854f5 18.5px,#4466fd 19.5px,#317efb 20.5px,#2797eb 21.5px,#1caadf 22.5px,#04b6cd 23.5px,#11beb9 24.5px,#2ec5a4 25.5px,#40ca8d 26.5px,#86cb54 28.5px,#acc739 29.5px,#c4c22b 30.5px,#dabd28 31.5px,#fbbc3d 33.5px,#fdcc32 35.5px,#f5e924 38.5px,#f9fb15 41.5px,#f9fb15 46.5px,#f5e128 50.5px,#fec636 53.5px,#fcbc3d 54.5px,#e0bc2a 55.5px,#bac430 56.5px,#5fcd73 58.5px,#13beb8 60.5px,#0eb2d4 61.5px,#23a0e5 62.5px,#337bfd 64.5px,#4466fd 65.5px,#4852f4 66.5px,#463ee1 67.5px,#412dbd 68.5px,#3e26a8 69.5px,#3e26a8 96.0px)"></div>
<div style="position:absolute;left:223px;top:32px;width:96px;height:1px;background:linear-gradient(90deg,#3e26a8 0.0px,#3e26a8 16.5px,#4536d3 17.5px,#484aee 18.5px,#475cfa 19.5px,#3f6fff 20.5px,#2d8af4 21.5px,#23a0e5 22.5px,#12b1d6 23.5px,#02bac4 24.5px,#22c1af 25.5px,#4fcc81 27.5px,#98c947 29.5px,#b7c532 30.5px,#cec028 31.5px,#e3bc2c 32.5px,#f4ba39 33.5px,#febf3c 34.5px,#f5ed22 39.5px,#f9fb15 41.5px,#f9fb15 47.5px,#f7dd2a 51.5px,#fec13a 54.5px,#f1ba36 55.5px,#cfc028 56.5px,#a6c83d 57.5px,#4bcb84 59.5px,#2bc3a8 60.5px,#01b9c6 61.5px,#1babde 62.5px,#2e85f8 64.5px,#3d70ff 65.5px,#475cfa 66.5px,#4849ed 67.5px,#4535d2 68.5px,#3e27a9 69.5px,#3e26a8 96.0px)"></div>
<div style="position:absolute;left:223px;top:33px;width:96px;height:1px;background:linear-gradient(90deg,#3e26a8 0.0px,#3e26a8 16.5px,#412dbd 17.5px,#473fe3 18.5px,#4853f4 19.5px,#4465fd 20.5px,#327cfc 21.5px,#2896ec 22.5px,#1da9e0 23.5px,#05b6ce 24.5px,#0fbeba 25.5px,#2dc4a5 26.5px,#3fca8e 27.5px,#84cc56 29.5px,#a9c73a 30.5px,#c3c22b 31.5px,#d8be28 32.5px,#fabc3d 34.5px,#fdcc32 36.5px,#f5e924 39.5px,#f9fb15 42.5px,#f8f818 48.5px,#f5e228 51.5px,#fdbd3d 55.5px,#e2bc2b 56.5px,#bdc32f 57.5px,#61cd71 59.5px,#38c896 60.5px,#16bfb7 61.5px,#0cb3d3 62.5px,#22a2e4 63.5px,#327cfc 65.5px,#4367fd 66.5px,#4853f5 67.5px,#473fe2 68.5px,#422ebf 69.5px,#3e26a8 70.5px,#3e26a8 96.0px)"></div>
<div style="position:absolute;left:223px;top:34px;width:96px;height:1px;background:linear-gradient(90deg,#3e26a8 0.0px,#3e26a8 17.5px,#4435d1 18.5px,#4849ed 19.5px,#475bf9 20.5px,#3f6efe 21.5px,#2d89f6 22.5px,#249fe5 23.5px,#14b0d8 24.5px,#01bac5 25.5px,#20c1b1 26.5px,#4dcb82 28.5px,#96ca48 30.5px,#b6c532 31.5px,#cdc028 32.5px,#e2bc2b 33.5px,#f3ba39 34.5px,#febe3c 35.5px,#f5ec22 40.5px,#f9fa15 42.5px,#f9fb15 48.5px,#f6de29 52.5px,#fec239 55.5px,#f2ba38 56.5px,#d2bf27 57.5px,#a8c73b 58.5px,#4dcc82 60.5px,#2cc4a6 61.5px,#02bac4 62.5px,#1aacdd 63.5px,#2e86f7 65.5px,#3c72ff 66.5px,#465dfb 67.5px,#484aee 68.5px,#4536d4 69.5px,#3e27ac 70.5px,#3e26a8 77.5px,#3e26a8 96.0px)"></div>
<div style="position:absolute;left:223px;top:35px;width:96px;height:1px;background:linear-gradient(90deg,#3e26a8 0.0px,#3e26a8 17.5px,#412cba 18.5px,#463ee1 19.5px,#4852f4 20.5px,#4564fd 21.5px,#337bfd 22.5px,#2994ed 23.5px,#1ea8e1 24.5px,#07b5cf 25.5px,#0dbdbc 26.5px,#2cc4a6 27.5px,#3eca90 28.5px,#5dcc75 29.5px,#a7c73c 31.5px,#c1c32c 32.5px,#d7be28 33.5px,#fabb3d 35.5px,#fdcb32 37.5px,#f5e924 40.5px,#f9fb15 43.5px,#f8f818 49.5px,#f5e227 52.5px,#febe3c 56.5px,#e4bb2c 57.5px,#bfc32d 58.5px,#93ca4b 59.5px,#63cd6f 60.5px,#3ac994 61.5px,#1abfb5 62.5px,#09b4d1 63.5px,#21a3e3 64.5px,#317dfc 66.5px,#4368fe 67.5px,#4854f6 68.5px,#4740e4 69.5px,#422fc2 70.5px,#3e26a8 71.5px,#3e26a8 96.0px)"></div>
<div style="position:absolute;left:223px;top:36px;width:96px;height:1px;background:linear-gradient(90deg,#3e26a8 0.0px,#3e26a8 18.5px,#4434ce 19.5px,#4848ec 20.5px,#475af9 21.5px,#406dfe 22.5px,#2e87f7 23.5px,#249ee6 24.5px,#15afd9 25.5px,#01b9c6 26.5px,#1ec0b2 27.5px,#4bcb84 29.5px,#94ca4a 31.5px,#b4c533 32.5px,#ccc028 33.5px,#e1bc2b 34.5px,#f2ba38 35.5px,#febe3c 36.5px,#f5ec22 41.5px,#f9fa16 43.5px,#f9fb15 49.5px,#f6de29 53.5px,#fec239 56.5px,#f4ba39 57.5px,#d4bf28 58.5px,#abc739 59.5px,#50cc80 61.5px,#2ec4a5 62.5px,#03bbc3 63.5px,#19addc 64.5px,#2e87f7 66.5px,#3b73fe 67.5px,#465ffb 68.5px,#484bef 69.5px,#4537d6 70.5px,#3f28ae 71.5px,#3e26a8 73.5px,#3e26a8 96.0px)"></div>
<div style="position:absolute;left:223px;top:37px;width:96px;height:1px;background:linear-gradient(90deg,#3e26a8 0.0px,#3e26a8 18.5px,#402bb8 19.5px,#463ddf 20.5px,#4851f3 21.5px,#4563fc 22.5px,#3579fd 23.5px,#2a93ee 24.5px,#1ea7e1 25.5px,#08b5d0 26.5px,#0bbdbd 27.5px,#2bc3a8 28.5px,#3cc991 29.5px,#5bcc77 30.5px,#a5c83d 32.5px,#c0c32d 33.5px,#d6be28 34.5px,#f9bb3d 36.5px,#fdcb33 38.5px,#f5e825 41.5px,#f9fb15 44.5px,#f8f917 50.5px,#f5e327 53.5px,#febe3c 57.5px,#e6bb2d 58.5px,#c1c32c 59.5px,#95ca49 60.5px,#66cd6d 61.5px,#3cc992 62.5px,#1cc0b3 63.5px,#07b5d0 64.5px,#20a4e3 65.5px,#317efb 67.5px,#4269fe 68.5px,#4756f6 69.5px,#4741e5 70.5px,#4230c4 71.5px,#3e26a8 72.5px,#3e26a8 96.0px)"></div>
<div style="position:absolute;left:223px;top:38px;width:96px;height:1px;background:linear-gradient(90deg,#3e26a8 0.0px,#3e26a8 19.5px,#4433cc 20.5px,#4747eb 21.5px,#4759f8 22.5px,#416bfe 23.5px,#2e86f8 24.5px,#249de6 25.5px,#17aeda 26.5px,#01b9c7 27.5px,#33c69d 29.5px,#49cb85 30.5px,#92ca4c 32.5px,#b3c534 33.5px,#cbc129 34.5px,#dfbc2a 35.5px,#f1ba37 36.5px,#febd3c 37.5px,#f5ec23 42.5px,#f9fa16 44.5px,#f9fb15 50.5px,#f6df29 54.5px,#fec338 57.5px,#f5ba3b 58.5px,#d6be28 59.5px,#adc637 60.5px,#52cc7e 62.5px,#2fc5a3 63.5px,#05bbc1 64.5px,#18aedb 65.5px,#269be8 66.5px,#3974fe 68.5px,#4660fb 69.5px,#484cf0 70.5px,#4538d8 71.5px,#3f29b1 72.5px,#3e26a8 73.5px,#3e26a8 96.0px)"></div>
<div style="position:absolute;left:223px;top:39px;width:96px;height:1px;background:linear-gradient(90deg,#3e26a8 0.0px,#3e26a8 19.5px,#402ab5 20.5px,#463cde 21.5px,#4850f2 22.5px,#4561fc 23.5px,#3677fe 24.5px,#1fa6e2 26.5px,#09b4d1 27.5px,#09bcbe 28.5px,#2ac3a9 29.5px,#3bc992 30.5px,#59cc78 31.5px,#a3c83f 33.5px,#bec32e 34.5px,#d5be28 35.5px,#e8bb2f 36.5px,#f9ba3d 37.5px,#fec13a 38.5px,#f6ef20 43.5px,#f9fb15 45.5px,#f8f917 51.5px,#f5e327 54.5px,#febf3c 58.5px,#e8bb2e 59.5px,#c4c22b 60.5px,#98c947 61.5px,#69cd6b 62.5px,#3eca90 63.5px,#05b6ce 65.5px,#20a5e2 66.5px,#2b92ee 67.5px,#307ffb 68.5px,#426afe 69.5px,#4757f7 70.5px,#4742e6 71.5px,#4331c6 72.5px,#3e26a8 73.5px,#3e26a8 96.0px)"></div>
<div style="position:absolute;left:223px;top:40px;width:96px;height:1px;background:linear-gradient(90deg,#3e26a8 0.0px,#3e26a8 20.5px,#4332ca 21.5px,#4746ea 22.5px,#4758f8 23.5px,#426afe 24.5px,#2e84f8 25.5px,#259ce7 26.5px,#18addb 27.5px,#01b8c8 28.5px,#47cb87 31.5px,#8fca4d 33.5px,#b2c635 34.5px,#c9c129 35.5px,#debc2a 36.5px,#f0ba36 37.5px,#fdbd3d 38.5px,#f8d92b 41.5px,#f6f21e 44.5px,#f9fb15 46.5px,#f9fb15 51.5px,#f6df29 55.5px,#fec338 58.5px,#f7ba3c 59.5px,#d8be28 60.5px,#b0c636 61.5px,#55cc7c 63.5px,#30c5a1 64.5px,#07bcbf 65.5px,#16afda 66.5px,#259ce7 67.5px,#3875fe 69.5px,#4561fc 70.5px,#484df1 71.5px,#4639da 72.5px,#402ab3 73.5px,#3e26a8 74.5px,#3e26a8 96.0px)"></div>
<div style="position:absolute;left:223px;top:41px;width:96px;height:1px;background:linear-gradient(90deg,#3e26a8 0.0px,#3e26a8 20.5px,#402ab3 21.5px,#463adc 22.5px,#484ff1 23.5px,#4660fc 24.5px,#3876fe 25.5px,#20a5e3 27.5px,#0bb3d2 28.5px,#07bcbf 29.5px,#28c3aa 30.5px,#3ac994 31.5px,#57cc7a 32.5px,#a1c840 34.5px,#bdc32e 35.5px,#d4bf27 36.5px,#e7bb2e 37.5px,#f8ba3d 38.5px,#fec13a 39.5px,#f5ef21 44.5px,#f9fb15 46.5px,#f9f916 52.5px,#f7db2b 56.5px,#febf3b 59.5px,#e9bb30 60.5px,#c6c22a 61.5px,#9bc945 62.5px,#6bcd69 63.5px,#40ca8d 64.5px,#04b6cd 66.5px,#1fa6e2 67.5px,#2a93ee 68.5px,#2f80fa 69.5px,#416cfe 70.5px,#4758f8 71.5px,#4744e8 72.5px,#4332c9 73.5px,#3e26a8 74.5px,#3e26a8 96.0px)"></div>
<div style="position:absolute;left:223px;top:42px;width:96px;height:1px;background:linear-gradient(90deg,#3e26a8 0.0px,#3e26a8 21.5px,#4331c7 22.5px,#4744e9 23.5px,#4757f7 24.5px,#4269fe 25.5px,#2e83f9 26.5px,#259be8 27.5px,#19addc 28.5px,#01b8ca 29.5px,#46cb88 32.5px,#8dcb4f 34.5px,#b0c636 35.5px,#c8c129 36.5px,#ddbd29 37.5px,#fdbd3d 39.5px,#f8d82c 42.5px,#f6f21e 45.5px,#f9fb15 47.5px,#f9fb15 52.5px,#f6e028 56.5px,#fec438 59.5px,#f8ba3d 60.5px,#dabd28 61.5px,#b2c534 62.5px,#57cc7a 64.5px,#09bdbe 66.5px,#14b0d8 67.5px,#259de7 68.5px,#3777fe 70.5px,#4562fc 71.5px,#484ef1 72.5px,#463adc 73.5px,#402bb6 74.5px,#3e26a8 75.5px,#3e26a8 96.0px)"></div>
<div style="position:absolute;left:223px;top:43px;width:96px;height:1px;background:linear-gradient(90deg,#3e26a8 0.0px,#3e26a8 21.5px,#3f29b0 22.5px,#4639da 23.5px,#484df1 24.5px,#465ffb 25.5px,#3a74fe 26.5px,#21a4e3 28.5px,#0db3d3 29.5px,#06bcc0 30.5px,#27c2ac 31.5px,#39c895 32.5px,#55cc7c 33.5px,#9fc942 35.5px,#bcc42f 36.5px,#d2bf27 37.5px,#e6bb2d 38.5px,#f7ba3c 39.5px,#fec03a 40.5px,#f5ee21 45.5px,#f9fb15 47.5px,#f9fa16 53.5px,#f7db2a 57.5px,#fec03b 60.5px,#ebba32 61.5px,#c8c129 62.5px,#9dc943 63.5px,#6ecd67 64.5px,#43ca8b 65.5px,#24c2ae 66.5px,#02b7cb 67.5px,#1ea7e1 68.5px,#2994ed 69.5px,#2f82fa 70.5px,#406dfe 71.5px,#4759f8 72.5px,#4745e9 73.5px,#4433cb 74.5px,#3e26a8 75.5px,#3e26a8 96.0px)"></div>
<div style="position:absolute;left:223px;top:44px;width:96px;height:1px;background:linear-gradient(90deg,#3e26a8 0.0px,#3e26a8 22.5px,#4330c5 23.5px,#4743e7 24.5px,#4756f7 25.5px,#4368fe 26.5px,#2f81fa 27.5px,#269ae9 28.5px,#1aacdd 29.5px,#02b7cb 30.5px,#44cb8a 33.5px,#8bcb51 35.5px,#afc637 36.5px,#c7c12a 37.5px,#dcbd29 38.5px,#fcbd3d 40.5px,#fdce31 42.5px,#f5ea23 45.5px,#f9fb15 48.5px,#f9fb15 53.5px,#f6e028 57.5px,#fec537 60.5px,#f9bb3d 61.5px,#dcbd29 62.5px,#b5c533 63.5px,#59cc78 65.5px,#0cbdbc 67.5px,#13b0d7 68.5px,#249ee6 69.5px,#3678fd 71.5px,#4563fd 72.5px,#4850f2 73.5px,#463bdd 74.5px,#402bb8 75.5px,#3e26a8 76.5px,#3e26a8 96.0px)"></div>
<div style="position:absolute;left:223px;top:45px;width:96px;height:1px;background:linear-gradient(90deg,#3e26a8 0.0px,#3e26a8 22.5px,#3f28ad 23.5px,#4538d8 24.5px,#484cf0 25.5px,#465efb 26.5px,#3b72ff 27.5px,#21a3e4 29.5px,#0fb2d4 30.5px,#04bbc2 31.5px,#26c2ad 32.5px,#38c897 33.5px,#53cc7d 34.5px,#9dc943 36.5px,#bac430 37.5px,#d1bf27 38.5px,#e5bb2d 39.5px,#f6ba3b 40.5px,#fec03b 41.5px,#f5ee21 46.5px,#f9fb15 48.5px,#f9fa15 54.5px,#f7dc2a 58.5px,#fec03a 61.5px,#edba33 62.5px,#cbc129 63.5px,#a0c841 64.5px,#71cd65 65.5px,#45cb88 66.5px,#26c2ac 67.5px,#01b8c9 68.5px,#1da8e0 69.5px,#2e83f9 71.5px,#3f6eff 72.5px,#475af9 73.5px,#4746ea 74.5px,#4433cd 75.5px,#3e26a8 76.5px,#3e26a8 96.0px)"></div>
<div style="position:absolute;left:223px;top:46px;width:96px;height:1px;background:linear-gradient(90deg,#3e26a8 0.0px,#3e26a8 23.5px,#422fc2 24.5px,#4742e6 25.5px,#4755f6 26.5px,#4367fd 27.5px,#3080fb 28.5px,#2698ea 29.5px,#1babde 30.5px,#03b7cc 31.5px,#14beb8 32.5px,#2fc5a2 33.5px,#42ca8b 34.5px,#89cb53 36.5px,#adc638 37.5px,#c5c22a 38.5px,#dbbd29 39.5px,#fcbc3d 41.5px,#fdcd31 43.5px,#f5ea24 46.5px,#f9fb15 49.5px,#f9fb15 54.5px,#f6e128 58.5px,#fec537 61.5px,#fbbc3d 62.5px,#debd29 63.5px,#b8c531 64.5px,#5ccc76 66.5px,#0fbeba 68.5px,#11b1d6 69.5px,#249fe5 70.5px,#3479fd 72.5px,#4464fd 73.5px,#4851f3 74.5px,#463cdf 75.5px,#412cba 76.5px,#3e26a8 77.5px,#3e26a8 96.0px)"></div>
<div style="position:absolute;left:223px;top:47px;width:96px;height:1px;background:linear-gradient(90deg,#3e26a8 0.0px,#3e27aa 24.5px,#4537d6 25.5px,#484bef 26.5px,#465dfb 27.5px,#3d70ff 28.5px,#22a2e4 30.5px,#10b2d5 31.5px,#03bbc3 32.5px,#24c2ae 33.5px,#37c898 34.5px,#51cc7f 35.5px,#9bc945 37.5px,#b9c431 38.5px,#d0bf27 39.5px,#e4bb2c 40.5px,#f5ba3a 41.5px,#febf3b 42.5px,#f5ed21 47.5px,#f9fb15 49.5px,#f9fb15 55.5px,#f7dd2a 59.5px,#fec13a 62.5px,#efba35 63.5px,#cdc028 64.5px,#a3c83f 65.5px,#48cb86 67.5px,#28c3aa 68.5px,#01b9c8 69.5px,#1ca9df 70.5px,#2e84f9 72.5px,#3e6fff 73.5px,#475bf9 74.5px,#4747eb 75.5px,#4434cf 76.5px,#3e26a8 77.5px,#3e26a8 96.0px)"></div>
<div style="position:absolute;left:223px;top:48px;width:96px;height:1px;background:linear-gradient(90deg,#3e26a8 0.0px,#3e26a8 24.5px,#422ec0 25.5px,#4741e5 26.5px,#4854f5 27.5px,#4466fd 28.5px,#317efb 29.5px,#2797eb 30.5px,#1caadf 31.5px,#04b6cd 32.5px,#12beb9 33.5px,#2ec5a4 34.5px,#41ca8d 35.5px,#87cb54 37.5px,#acc739 38.5px,#c4c22b 39.5px,#dabd28 40.5px,#fbbc3d 42.5px,#fdcd32 44.5px,#f5ea24 47.5px,#f9fb15 50.5px,#f9fb15 55.5px,#f5e128 59.5px,#fec636 62.5px,#fcbc3d 63.5px,#e0bc2a 64.5px,#bac430 65.5px,#5ecd74 67.5px,#13beb9 69.5px,#0eb2d4 70.5px,#23a0e5 71.5px,#337afd 73.5px,#4465fd 74.5px,#4852f4 75.5px,#463ee1 76.5px,#412dbd 77.5px,#3e26a8 78.5px,#3e26a8 96.0px)"></div>
<div style="position:absolute;left:223px;top:49px;width:96px;height:1px;background:linear-gradient(90deg,#3e26a8 0.0px,#3e26a8 25.5px,#4536d4 26.5px,#484aee 27.5px,#475cfa 28.5px,#3e6fff 29.5px,#2d8af4 30.5px,#23a1e5 31.5px,#12b1d6 32.5px,#02bac4 33.5px,#23c1af 34.5px,#36c799 35.5px,#4fcc80 36.5px,#98c946 38.5px,#b8c531 39.5px,#cfc028 40.5px,#e3bc2c 41.5px,#f4ba3a 42.5px,#febf3b 43.5px,#f5ed22 48.5px,#f9fb15 50.5px,#f9fb15 56.5px,#f7dd2a 60.5px,#fec13a 63.5px,#f0ba36 64.5px,#cfc028 65.5px,#a5c83d 66.5px,#4bcb84 68.5px,#2ac3a9 69.5px,#01b9c6 70.5px,#1baade 71.5px,#2e85f8 73.5px,#3d70ff 74.5px,#475cfa 75.5px,#4848ec 76.5px,#4435d2 77.5px,#3e27a9 78.5px,#3e26a8 96.0px)"></div>
<div style="position:absolute;left:223px;top:50px;width:96px;height:1px;background:linear-gradient(90deg,#3e26a8 0.0px,#3e26a8 25.5px,#412dbd 26.5px,#473fe3 27.5px,#4853f5 28.5px,#4465fd 29.5px,#327cfc 30.5px,#2896ec 31.5px,#1da9e0 32.5px,#05b6ce 33.5px,#0fbeba 34.5px,#2dc4a5 35.5px,#3fca8e 36.5px,#84cb56 38.5px,#aac73a 39.5px,#c3c22b 40.5px,#d9be28 41.5px,#fbbc3d 43.5px,#fdcc32 45.5px,#f5e924 48.5px,#f9fb15 51.5px,#f8f818 57.5px,#f5e228 60.5px,#fec636 63.5px,#fdbd3d 64.5px,#e2bc2b 65.5px,#bcc42f 66.5px,#61cd72 68.5px,#38c897 69.5px,#16bfb7 70.5px,#0cb3d3 71.5px,#22a1e4 72.5px,#327cfc 74.5px,#4367fd 75.5px,#4853f5 76.5px,#473fe2 77.5px,#422ebf 78.5px,#3e26a8 79.5px,#3e26a8 96.0px)"></div>
<div style="position:absolute;left:223px;top:51px;width:96px;height:1px;background:linear-gradient(90deg,#3e26a8 0.0px,#3e26a8 26.5px,#4435d1 27.5px,#4849ed 28.5px,#475bf9 29.5px,#3f6efe 30.5px,#2d89f5 31.5px,#239fe5 32.5px,#13b0d7 33.5px,#02bac5 34.5px,#21c1b0 35.5px,#4dcc82 37.5px,#96ca48 39.5px,#b6c532 40.5px,#cdc028 41.5px,#e2bc2b 42.5px,#f3ba39 43.5px,#febe3c 44.5px,#f5ec22 49.5px,#f9fa15 51.5px,#f9fb15 57.5px,#f6de29 61.5px,#fec239 64.5px,#f2ba38 65.5px,#d1bf27 66.5px,#a8c73b 67.5px,#4dcc82 69.5px,#2cc4a7 70.5px,#02bac5 71.5px,#1aabdd 72.5px,#2e86f7 74.5px,#3c72ff 75.5px,#465dfb 76.5px,#484aed 77.5px,#4536d4 78.5px,#3e27ab 79.5px,#3e26a8 96.0px)"></div>
<div style="position:absolute;left:223px;top:52px;width:96px;height:1px;background:linear-gradient(90deg,#3e26a8 0.0px,#3e26a8 26.5px,#412cbb 27.5px,#473ee1 28.5px,#4852f4 29.5px,#4564fd 30.5px,#337bfc 31.5px,#2994ed 32.5px,#1da8e0 33.5px,#06b5cf 34.5px,#0dbdbc 35.5px,#2cc4a6 36.5px,#3eca8f 37.5px,#5dcc75 38.5px,#a8c73b 40.5px,#c1c32c 41.5px,#d7be28 42.5px,#fabb3d 44.5px,#fdcb32 46.5px,#f5e924 49.5px,#f9fb15 52.5px,#f8f818 58.5px,#f5e227 61.5px,#febe3c 65.5px,#e4bb2c 66.5px,#bfc32d 67.5px,#92ca4b 68.5px,#63cd70 69.5px,#39c994 70.5px,#19bfb5 71.5px,#0ab4d1 72.5px,#21a3e4 73.5px,#317dfc 75.5px,#4368fe 76.5px,#4854f5 77.5px,#4740e4 78.5px,#422fc1 79.5px,#3e26a8 80.5px,#3e26a8 96.0px)"></div>
<div style="position:absolute;left:223px;top:53px;width:96px;height:1px;background:linear-gradient(90deg,#3e26a8 0.0px,#3e26a8 27.5px,#4434cf 28.5px,#4848ec 29.5px,#475af9 30.5px,#406dfe 31.5px,#2d87f6 32.5px,#249ee6 33.5px,#15afd9 34.5px,#01b9c6 35.5px,#1fc0b2 36.5px,#4bcb83 38.5px,#94ca4a 40.5px,#b5c533 41.5px,#ccc028 42.5px,#e1bc2b 43.5px,#f2ba38 44.5px,#febe3c 45.5px,#f5ec22 50.5px,#f9fa16 52.5px,#f9fb15 58.5px,#f6de29 62.5px,#fec239 65.5px,#f3ba39 66.5px,#d3bf27 67.5px,#abc739 68.5px,#4fcc80 70.5px,#2dc4a5 71.5px,#02bbc3 72.5px,#19addc 73.5px,#2e87f7 75.5px,#3b73fe 76.5px,#465efb 77.5px,#484bee 78.5px,#4537d6 79.5px,#3f28ae 80.5px,#3e26a8 82.5px,#3e26a8 96.0px)"></div>
<div style="position:absolute;left:223px;top:54px;width:96px;height:1px;background:linear-gradient(90deg,#3e26a8 0.0px,#3e26a8 27.5px,#402bb8 28.5px,#463de0 29.5px,#4851f3 30.5px,#4563fc 31.5px,#3479fd 32.5px,#2a93ee 33.5px,#1ea7e1 34.5px,#07b5d0 35.5px,#0bbdbd 36.5px,#2bc3a8 37.5px,#3dc991 38.5px,#5bcc77 39.5px,#a6c83d 41.5px,#c0c32d 42.5px,#d6be28 43.5px,#f9bb3d 45.5px,#fdcb33 47.5px,#f5e825 50.5px,#f9fb15 53.5px,#f8f917 59.5px,#f5e327 62.5px,#febe3c 66.5px,#e6bb2d 67.5px,#c1c32c 68.5px,#95ca49 69.5px,#66cd6d 70.5px,#3bc992 71.5px,#1cc0b3 72.5px,#07b5d0 73.5px,#21a4e3 74.5px,#317efb 76.5px,#4269fe 77.5px,#4755f6 78.5px,#4741e5 79.5px,#4230c4 80.5px,#3e26a8 81.5px,#3e26a8 96.0px)"></div>
<div style="position:absolute;left:223px;top:55px;width:96px;height:1px;background:linear-gradient(90deg,#3e26a8 0.0px,#3e26a8 28.5px,#4433cc 29.5px,#4747eb 30.5px,#4759f8 31.5px,#416cfe 32.5px,#2e86f7 33.5px,#249de6 34.5px,#16aeda 35.5px,#01b9c7 36.5px,#33c69d 38.5px,#49cb85 39.5px,#92ca4c 41.5px,#b3c534 42.5px,#cbc129 43.5px,#e0bc2a 44.5px,#f1ba37 45.5px,#febd3c 46.5px,#f5ec22 51.5px,#f9fa16 53.5px,#f9fb15 59.5px,#f6df29 63.5px,#fec338 66.5px,#f5ba3a 67.5px,#d5be28 68.5px,#adc638 69.5px,#52cc7e 71.5px,#2fc5a3 72.5px,#04bbc1 73.5px,#18aedb 74.5px,#2d88f6 76.5px,#3a74fe 77.5px,#4660fb 78.5px,#484cef 79.5px,#4538d8 80.5px,#3f29b0 81.5px,#3e26a8 82.5px,#3e26a8 96.0px)"></div>
<div style="position:absolute;left:223px;top:56px;width:96px;height:1px;background:linear-gradient(90deg,#3e26a8 0.0px,#3e26a8 28.5px,#402bb6 29.5px,#463cde 30.5px,#4850f2 31.5px,#4562fc 32.5px,#3677fe 33.5px,#2b92ee 34.5px,#1fa6e2 35.5px,#09b4d1 36.5px,#09bcbe 37.5px,#2ac3a9 38.5px,#3bc992 39.5px,#59cc78 40.5px,#a3c83e 42.5px,#bfc32e 43.5px,#d5be28 44.5px,#e8bb2f 45.5px,#f9ba3d 46.5px,#fec139 47.5px,#f6ef20 52.5px,#f9fb15 54.5px,#f8f917 60.5px,#f5e327 63.5px,#febf3c 67.5px,#e7bb2e 68.5px,#c3c22b 69.5px,#98ca47 70.5px,#68cd6b 71.5px,#3dca90 72.5px,#06b5ce 74.5px,#20a5e2 75.5px,#2b92ef 76.5px,#307ffb 77.5px,#426afe 78.5px,#4756f7 79.5px,#4742e6 80.5px,#4331c6 81.5px,#3e26a8 82.5px,#3e26a8 96.0px)"></div>
<div style="position:absolute;left:223px;top:57px;width:96px;height:1px;background:linear-gradient(90deg,#3e26a8 0.0px,#3e26a8 29.5px,#4332ca 30.5px,#4746ea 31.5px,#4758f8 32.5px,#416afe 33.5px,#2e84f8 34.5px,#259ce7 35.5px,#18aedb 36.5px,#01b8c8 37.5px,#48cb86 40.5px,#90ca4d 42.5px,#b2c635 43.5px,#cac129 44.5px,#dfbc2a 45.5px,#f0ba36 46.5px,#fdbd3d 47.5px,#f8d92b 50.5px,#f6f21d 53.5px,#f9fb15 55.5px,#f9fb15 60.5px,#f6df29 64.5px,#fec338 67.5px,#f7ba3c 68.5px,#d8be28 69.5px,#b0c636 70.5px,#54cc7c 72.5px,#30c5a1 73.5px,#07bcc0 74.5px,#16aeda 75.5px,#259ce7 76.5px,#3875fe 78.5px,#4661fc 79.5px,#484df0 80.5px,#4639da 81.5px,#402ab3 82.5px,#3e26a8 83.5px,#3e26a8 96.0px)"></div>
<div style="position:absolute;left:223px;top:58px;width:96px;height:1px;background:linear-gradient(90deg,#3e26a8 0.0px,#3e26a8 29.5px,#402ab3 30.5px,#463bdc 31.5px,#484ff2 32.5px,#4661fc 33.5px,#3876fe 34.5px,#20a5e2 36.5px,#0bb3d2 37.5px,#08bcbf 38.5px,#29c3aa 39.5px,#3ac994 40.5px,#57cc7a 41.5px,#a1c840 43.5px,#bdc32e 44.5px,#d4bf28 45.5px,#e7bb2e 46.5px,#f8ba3d 47.5px,#fec13a 48.5px,#f5ef21 53.5px,#f9fb15 55.5px,#f9f916 61.5px,#f7db2b 65.5px,#febf3b 68.5px,#e9bb30 69.5px,#c6c22a 70.5px,#9ac945 71.5px,#6bcd69 72.5px,#3fca8e 73.5px,#04b6cd 75.5px,#1fa6e2 76.5px,#2a93ee 77.5px,#2f80fa 78.5px,#416bfe 79.5px,#4758f8 80.5px,#4743e8 81.5px,#4332c8 82.5px,#3e26a8 83.5px,#3e26a8 96.0px)"></div>
<div style="position:absolute;left:223px;top:59px;width:96px;height:1px;background:linear-gradient(90deg,#3e26a8 0.0px,#3e26a8 30.5px,#4331c8 31.5px,#4745e9 32.5px,#4757f7 33.5px,#4269fe 34.5px,#2e83f9 35.5px,#259be8 36.5px,#19addc 37.5px,#01b8c9 38.5px,#46cb88 41.5px,#8ecb4f 43.5px,#b0c636 44.5px,#c8c129 45.5px,#ddbd29 46.5px,#fdbd3d 48.5px,#f8d92c 51.5px,#f6f21e 54.5px,#f9fb15 56.5px,#f9fb15 61.5px,#f6e028 65.5px,#fec438 68.5px,#f8ba3d 69.5px,#dabd28 70.5px,#b2c535 71.5px,#57cc7a 73.5px,#09bcbe 75.5px,#15afd8 76.5px,#259de7 77.5px,#3776fe 79.5px,#4562fc 80.5px,#484ef1 81.5px,#463adb 82.5px,#402ab5 83.5px,#3e26a8 84.5px,#3e26a8 96.0px)"></div>
<div style="position:absolute;left:223px;top:60px;width:96px;height:1px;background:linear-gradient(90deg,#3e26a8 0.0px,#3e26a8 30.5px,#3f29b0 31.5px,#4639da 32.5px,#484ef1 33.5px,#4660fb 34.5px,#3974fe 35.5px,#20a4e3 37.5px,#0db3d3 38.5px,#06bcc0 39.5px,#27c2ab 40.5px,#39c895 41.5px,#55cc7b 42.5px,#9fc941 44.5px,#bcc42f 45.5px,#d3bf27 46.5px,#e6bb2d 47.5px,#f7ba3c 48.5px,#fec03a 49.5px,#f5ee21 54.5px,#f9fb15 56.5px,#f9fa16 62.5px,#f7db2a 66.5px,#fec03b 69.5px,#ebba31 70.5px,#c8c129 71.5px,#9dc943 72.5px,#6ecd67 73.5px,#42ca8b 74.5px,#02b7cb 76.5px,#1ea7e1 77.5px,#2994ed 78.5px,#2f81fa 79.5px,#406dfe 80.5px,#4759f8 81.5px,#4745e9 82.5px,#4332cb 83.5px,#3e26a8 84.5px,#3e26a8 96.0px)"></div>
<div style="position:absolute;left:223px;top:61px;width:96px;height:1px;background:linear-gradient(90deg,#3e26a8 0.0px,#3e26a8 31.5px,#4330c5 32.5px,#4743e7 33.5px,#4756f7 34.5px,#4368fe 35.5px,#2f81fa 36.5px,#269ae9 37.5px,#1aacdd 38.5px,#02b7cb 39.5px,#44cb89 42.5px,#8bcb51 44.5px,#afc637 45.5px,#c7c12a 46.5px,#dcbd29 47.5px,#fcbd3d 49.5px,#fdce31 51.5px,#f5ea23 54.5px,#f9fb15 57.5px,#f9fb15 62.5px,#f6e028 66.5px,#fec437 69.5px,#f9bb3d 70.5px,#dcbd29 71.5px,#b5c533 72.5px,#59cc78 74.5px,#0bbdbc 76.5px,#13b0d7 77.5px,#249ee6 78.5px,#3678fe 80.5px,#4563fd 81.5px,#484ff2 82.5px,#463bdd 83.5px,#402bb8 84.5px,#3e26a8 85.5px,#3e26a8 96.0px)"></div>
<div style="position:absolute;left:223px;top:62px;width:96px;height:1px;background:linear-gradient(90deg,#3e26a8 0.0px,#3e26a8 31.5px,#3f28ae 32.5px,#4538d8 33.5px,#484df0 34.5px,#465efb 35.5px,#3b72fe 36.5px,#21a3e3 38.5px,#0eb2d4 39.5px,#04bbc1 40.5px,#26c2ad 41.5px,#38c896 42.5px,#53cc7d 43.5px,#9dc943 45.5px,#bbc430 46.5px,#d1bf27 47.5px,#e5bb2d 48.5px,#f6ba3b 49.5px,#fec03b 50.5px,#f5ee21 55.5px,#f9fb15 57.5px,#f9fa15 63.5px,#f7dc2a 67.5px,#fec03a 70.5px,#edba33 71.5px,#cac129 72.5px,#a0c941 73.5px,#70cd65 74.5px,#45cb89 75.5px,#26c2ac 76.5px,#01b8ca 77.5px,#1da8e0 78.5px,#2f82f9 80.5px,#3f6efe 81.5px,#475af9 82.5px,#4746ea 83.5px,#4433cd 84.5px,#3e26a8 85.5px,#3e26a8 96.0px)"></div>
<div style="position:absolute;left:223px;top:63px;width:96px;height:1px;background:linear-gradient(90deg,#3e26a8 0.0px,#3e26a8 32.5px,#422fc3 33.5px,#4742e6 34.5px,#4755f6 35.5px,#4367fd 36.5px,#3080fa 37.5px,#2699e9 38.5px,#1babde 39.5px,#03b7cc 40.5px,#14bfb8 41.5px,#2fc5a2 42.5px,#43ca8b 43.5px,#89cb52 45.5px,#adc638 46.5px,#c6c22a 47.5px,#dbbd29 48.5px,#fcbc3d 50.5px,#fdcd31 52.5px,#f5ea24 55.5px,#f9fb15 58.5px,#f9fb15 63.5px,#f6e128 67.5px,#fec537 70.5px,#fabc3d 71.5px,#debd29 72.5px,#b7c532 73.5px,#5ccc76 75.5px,#0fbebb 77.5px,#11b1d6 78.5px,#249fe5 79.5px,#3579fd 81.5px,#4464fd 82.5px,#4851f3 83.5px,#463cdf 84.5px,#412cba 85.5px,#3e26a8 86.5px,#3e26a8 96.0px)"></div>
<div style="position:absolute;left:223px;top:64px;width:96px;height:1px;background:linear-gradient(90deg,#3e26a8 0.0px,#3e27ab 33.5px,#4537d6 34.5px,#484cef 35.5px,#465dfb 36.5px,#3d71ff 37.5px,#22a2e4 39.5px,#10b2d5 40.5px,#03bbc3 41.5px,#25c2ae 42.5px,#37c898 43.5px,#51cc7f 44.5px,#9bc945 46.5px,#b9c430 47.5px,#d0bf27 48.5px,#e4bb2c 49.5px,#f5ba3b 50.5px,#febf3b 51.5px,#f5ed21 56.5px,#f9fb15 58.5px,#f9fb15 64.5px,#f7dc2a 68.5px,#fec13a 71.5px,#eeba34 72.5px,#cdc028 73.5px,#a2c83f 74.5px,#48cb86 76.5px,#28c3ab 77.5px,#01b8c8 78.5px,#1ca9df 79.5px,#2e84f9 81.5px,#3e6fff 82.5px,#475bf9 83.5px,#4747eb 84.5px,#4434cf 85.5px,#3e26a8 86.5px,#3e26a8 96.0px)"></div>
<div style="position:absolute;left:223px;top:65px;width:96px;height:1px;background:linear-gradient(90deg,#3e26a8 0.0px,#3e26a8 33.5px,#422fc0 34.5px,#4741e5 35.5px,#4854f5 36.5px,#4466fd 37.5px,#317efb 38.5px,#2797ea 39.5px,#1caadf 40.5px,#04b6cd 41.5px,#12beb9 42.5px,#2ec5a3 43.5px,#41ca8c 44.5px,#87cb54 46.5px,#acc738 47.5px,#c4c22b 48.5px,#dabd28 49.5px,#fbbc3d 51.5px,#fdcd32 53.5px,#f5ea24 56.5px,#f9fb15 59.5px,#f9fb15 64.5px,#f5e128 68.5px,#fec636 71.5px,#fcbc3d 72.5px,#e0bc2a 73.5px,#bac430 74.5px,#5ecc74 76.5px,#12beb9 78.5px,#0fb2d4 79.5px,#23a0e5 80.5px,#337afd 82.5px,#4465fd 83.5px,#4852f4 84.5px,#463de0 85.5px,#412dbc 86.5px,#3e26a8 87.5px,#3e26a8 96.0px)"></div>
<div style="position:absolute;left:223px;top:66px;width:96px;height:1px;background:linear-gradient(90deg,#3e26a8 0.0px,#3e26a8 34.5px,#4536d4 35.5px,#484aee 36.5px,#475cfa 37.5px,#3e6fff 38.5px,#2d8bf4 39.5px,#23a1e4 40.5px,#12b1d6 41.5px,#02bac4 42.5px,#23c1af 43.5px,#36c899 44.5px,#4fcc80 45.5px,#99c946 47.5px,#b8c431 48.5px,#cfc028 49.5px,#e3bc2c 50.5px,#f4ba3a 51.5px,#febf3b 52.5px,#f5ed22 57.5px,#f9fb15 59.5px,#f9fb15 65.5px,#f7dd2a 69.5px,#fec13a 72.5px,#f0ba36 73.5px,#cfc028 74.5px,#a5c83d 75.5px,#4acb84 77.5px,#2ac3a9 78.5px,#01b9c6 79.5px,#1baade 80.5px,#2e85f8 82.5px,#3d70ff 83.5px,#475cfa 84.5px,#4848ec 85.5px,#4435d1 86.5px,#3e26a9 87.5px,#3e26a8 96.0px)"></div>
<div style="position:absolute;left:223px;top:67px;width:96px;height:1px;background:linear-gradient(90deg,#3e26a8 0.0px,#3e26a8 34.5px,#412ebd 35.5px,#4740e3 36.5px,#4853f5 37.5px,#4465fd 38.5px,#317dfc 39.5px,#2896eb 40.5px,#1da9e0 41.5px,#05b6ce 42.5px,#10beba 43.5px,#2ec4a5 44.5px,#3fca8e 45.5px,#85cb56 47.5px,#aac73a 48.5px,#c3c22b 49.5px,#d9be28 50.5px,#fbbc3d 52.5px,#fdcc32 54.5px,#f5e924 57.5px,#f9fb15 60.5px,#f8f818 66.5px,#f5e228 69.5px,#fec636 72.5px,#fdbd3d 73.5px,#e2bc2b 74.5px,#bcc42f 75.5px,#60cd72 77.5px,#37c897 78.5px,#15bfb7 79.5px,#0cb3d3 80.5px,#22a1e4 81.5px,#327bfc 83.5px,#4366fd 84.5px,#4853f5 85.5px,#473fe2 86.5px,#422ebf 87.5px,#3e26a8 88.5px,#3e26a8 96.0px)"></div>
<div style="position:absolute;left:223px;top:68px;width:96px;height:1px;background:linear-gradient(90deg,#3e26a8 0.0px,#3e26a8 35.5px,#4435d2 36.5px,#4849ed 37.5px,#475bfa 38.5px,#3f6eff 39.5px,#2d89f5 40.5px,#23a0e5 41.5px,#13b0d7 42.5px,#02bac5 43.5px,#21c1b0 44.5px,#4dcc82 46.5px,#97ca48 48.5px,#b6c532 49.5px,#cec028 50.5px,#e2bc2b 51.5px,#f3ba39 52.5px,#febe3c 53.5px,#f5ed22 58.5px,#f9fa15 60.5px,#f9fb15 66.5px,#f6dd29 70.5px,#fec239 73.5px,#f2ba37 74.5px,#d1bf27 75.5px,#a8c73b 76.5px,#4dcb82 78.5px,#2cc4a7 79.5px,#02bac5 80.5px,#1aabdd 81.5px,#2e86f8 83.5px,#3c71ff 84.5px,#465dfa 85.5px,#4849ed 86.5px,#4536d3 87.5px,#3e27ab 88.5px,#3e26a8 96.0px)"></div>
<div style="position:absolute;left:223px;top:69px;width:96px;height:1px;background:linear-gradient(90deg,#3e26a8 0.0px,#3e26a8 35.5px,#412dbb 36.5px,#473ee2 37.5px,#4852f4 38.5px,#4564fd 39.5px,#337bfc 40.5px,#2995ec 41.5px,#1da8e0 42.5px,#06b5cf 43.5px,#0dbdbb 44.5px,#2dc4a6 45.5px,#3eca8f 46.5px,#82cc57 48.5px,#a8c73b 49.5px,#c2c32c 50.5px,#d8be28 51.5px,#fabb3d 53.5px,#fdcc32 55.5px,#f5e924 58.5px,#f9fb15 61.5px,#f8f818 67.5px,#f5e227 70.5px,#febd3c 74.5px,#e3bb2c 75.5px,#bec32e 76.5px,#92ca4c 77.5px,#63cd70 78.5px,#39c895 79.5px,#19bfb5 80.5px,#0ab4d2 81.5px,#21a2e4 82.5px,#317dfc 84.5px,#4368fd 85.5px,#4854f5 86.5px,#4740e3 87.5px,#422fc1 88.5px,#3e26a8 89.5px,#3e26a8 96.0px)"></div>
<div style="position:absolute;left:223px;top:70px;width:96px;height:1px;background:linear-gradient(90deg,#3e26a8 0.0px,#3e26a8 36.5px,#4434cf 37.5px,#4848ec 38.5px,#475af9 39.5px,#406dfe 40.5px,#2d88f6 41.5px,#249fe6 42.5px,#15afd8 43.5px,#01b9c6 44.5px,#1fc0b2 45.5px,#4bcb83 47.5px,#94ca4a 49.5px,#b5c533 50.5px,#ccc028 51.5px,#e1bc2b 52.5px,#f2ba38 53.5px,#febe3c 54.5px,#f5ec22 59.5px,#f9fa15 61.5px,#f9fb15 67.5px,#f6de29 71.5px,#fec239 74.5px,#f3ba39 75.5px,#d3bf27 76.5px,#aac73a 77.5px,#4fcc80 79.5px,#2dc4a5 80.5px,#02bac3 81.5px,#19acdc 82.5px,#2e87f7 84.5px,#3b73fe 85.5px,#465efb 86.5px,#484bee 87.5px,#4537d6 88.5px,#3f28ae 89.5px,#3e26a8 91.5px,#3e26a8 96.0px)"></div>
<div style="position:absolute;left:223px;top:71px;width:96px;height:1px;background:linear-gradient(90deg,#3e26a8 0.0px,#3e26a8 36.5px,#412cb8 37.5px,#463de0 38.5px,#4851f3 39.5px,#4563fc 40.5px,#3479fd 41.5px,#2a93ed 42.5px,#1ea7e1 43.5px,#07b5d0 44.5px,#0bbdbd 45.5px,#2cc4a7 46.5px,#3dc991 47.5px,#5bcc76 48.5px,#a6c83d 50.5px,#c0c32d 51.5px,#d6be28 52.5px,#f9bb3d 54.5px,#fdcb33 56.5px,#f5e825 59.5px,#f9fb15 62.5px,#f8f817 68.5px,#f5e327 71.5px,#febe3c 75.5px,#e5bb2d 76.5px,#c1c32c 77.5px,#95ca49 78.5px,#65cd6e 79.5px,#3bc992 80.5px,#1cc0b4 81.5px,#08b5d0 82.5px,#21a4e3 83.5px,#317efb 85.5px,#4369fe 86.5px,#4755f6 87.5px,#4741e5 88.5px,#4230c3 89.5px,#3e26a8 90.5px,#3e26a8 96.0px)"></div>
<div style="position:absolute;left:223px;top:72px;width:96px;height:1px;background:linear-gradient(90deg,#3e26a8 0.0px,#3e26a8 37.5px,#4433cd 38.5px,#4747eb 39.5px,#4759f9 40.5px,#416cfe 41.5px,#2e86f7 42.5px,#249ee6 43.5px,#16afda 44.5px,#01b9c7 45.5px,#33c79d 47.5px,#4acb85 48.5px,#92ca4b 50.5px,#b3c534 51.5px,#cbc129 52.5px,#e0bc2a 53.5px,#f1ba37 54.5px,#febe3c 55.5px,#f5ec22 60.5px,#f9fa16 62.5px,#f9fb15 68.5px,#f6df29 72.5px,#fec338 75.5px,#f5ba3a 76.5px,#d5be28 77.5px,#adc638 78.5px,#51cc7e 80.5px,#2fc5a3 81.5px,#04bbc2 82.5px,#18addb 83.5px,#2d88f6 85.5px,#3a74fe 86.5px,#465ffb 87.5px,#484cef 88.5px,#4538d7 89.5px,#3f29b0 90.5px,#3e26a8 91.5px,#3e26a8 96.0px)"></div>
<div style="position:absolute;left:223px;top:73px;width:96px;height:1px;background:linear-gradient(90deg,#3e26a8 0.0px,#3e26a8 37.5px,#402bb6 38.5px,#463cde 39.5px,#4850f2 40.5px,#4562fc 41.5px,#3678fe 42.5px,#2b92ee 43.5px,#1fa6e2 44.5px,#09b4d1 45.5px,#09bdbe 46.5px,#2ac3a9 47.5px,#3cc992 48.5px,#59cc78 49.5px,#a4c83e 51.5px,#bfc32d 52.5px,#d5be28 53.5px,#e9bb2f 54.5px,#f9ba3d 55.5px,#fec239 56.5px,#f6ef20 61.5px,#f9fb15 63.5px,#f8f917 69.5px,#f5e327 72.5px,#febf3c 76.5px,#e7bb2e 77.5px,#c3c22b 78.5px,#97ca47 79.5px,#68cd6c 80.5px,#3dc990 81.5px,#1ec0b2 82.5px,#06b5cf 83.5px,#20a5e3 84.5px,#2b91ef 85.5px,#307ffb 86.5px,#426afe 87.5px,#4756f7 88.5px,#4742e6 89.5px,#4331c6 90.5px,#3e26a8 91.5px,#3e26a8 96.0px)"></div>
<div style="position:absolute;left:223px;top:74px;width:96px;height:1px;background:linear-gradient(90deg,#3e26a8 0.0px,#3e26a8 38.5px,#4332ca 39.5px,#4746ea 40.5px,#4758f8 41.5px,#416bfe 42.5px,#2e85f8 43.5px,#259ce7 44.5px,#18aedb 45.5px,#01b8c8 46.5px,#48cb86 49.5px,#90ca4d 51.5px,#b2c635 52.5px,#cac129 53.5px,#dfbc2a 54.5px,#f1ba36 55.5px,#fdbd3d 56.5px,#f8d92b 59.5px,#f6f21d 62.5px,#f9fb15 64.5px,#f9fb15 69.5px,#f6df29 73.5px,#fec338 76.5px,#f6ba3c 77.5px,#d7be28 78.5px,#afc636 79.5px,#54cc7c 81.5px,#30c5a1 82.5px,#06bcc0 83.5px,#17aeda 84.5px,#259be8 85.5px,#3975fe 87.5px,#4661fc 88.5px,#484df0 89.5px,#4639d9 90.5px,#402ab3 91.5px,#3e26a8 92.5px,#3e26a8 96.0px)"></div>
<div style="position:absolute;left:223px;top:75px;width:96px;height:1px;background:linear-gradient(90deg,#3e26a8 0.0px,#3e26a8 38.5px,#402ab5 39.5px,#463bde 40.5px,#484ff2 41.5px,#4561fc 42.5px,#3777fe 43.5px,#1fa6e2 45.5px,#0ab4d1 46.5px,#09bcbe 47.5px,#2ac3a9 48.5px,#3bc992 49.5px,#59cc79 50.5px,#a3c83f 52.5px,#bec32e 53.5px,#d5be28 54.5px,#e8bb2f 55.5px,#f8ba3d 56.5px,#fec13a 57.5px,#f5ef20 62.5px,#f9fb15 64.5px,#f8f917 70.5px,#f8db2b 74.5px,#febf3c 77.5px,#e8bb2f 78.5px,#c4c22b 79.5px,#98c947 80.5px,#69cd6b 81.5px,#3eca8f 82.5px,#05b6ce 84.5px,#1fa5e2 85.5px,#2b92ee 86.5px,#307ffb 87.5px,#416afe 88.5px,#4757f7 89.5px,#4743e7 90.5px,#4331c7 91.5px,#3e26a8 92.5px,#3e26a8 96.0px)"></div>
<div style="position:absolute;left:223px;top:76px;width:96px;height:1px;background:linear-gradient(90deg,#3e26a8 0.0px,#3e26a8 39.5px,#4433cc 40.5px,#4747eb 41.5px,#4759f8 42.5px,#416cfe 43.5px,#2e86f7 44.5px,#249de6 45.5px,#16aeda 46.5px,#01b9c7 47.5px,#33c69d 49.5px,#49cb85 50.5px,#92ca4c 52.5px,#b3c534 53.5px,#cbc129 54.5px,#e0bc2a 55.5px,#f1ba37 56.5px,#febd3c 57.5px,#f5ec22 62.5px,#f9fa16 64.5px,#f9fb15 70.5px,#f6df29 74.5px,#fec338 77.5px,#f5ba3b 78.5px,#d6be28 79.5px,#adc638 80.5px,#52cc7e 82.5px,#2fc5a3 83.5px,#05bbc1 84.5px,#18aedb 85.5px,#2d88f6 87.5px,#3974fe 88.5px,#4660fb 89.5px,#484cef 90.5px,#4538d8 91.5px,#3f29b1 92.5px,#3e26a8 93.5px,#3e26a8 96.0px)"></div>
<div style="position:absolute;left:223px;top:77px;width:96px;height:1px;background:linear-gradient(90deg,#3e26a8 0.0px,#3e26a8 39.5px,#412cb8 40.5px,#463de0 41.5px,#4851f3 42.5px,#4563fc 43.5px,#3479fd 44.5px,#2a93ed 45.5px,#1ea7e1 46.5px,#07b5d0 47.5px,#0bbdbd 48.5px,#2bc4a7 49.5px,#3dc991 50.5px,#5bcc76 51.5px,#a6c83d 53.5px,#c0c32d 54.5px,#d6be28 55.5px,#f9bb3d 57.5px,#fdcb33 59.5px,#f5e825 62.5px,#f9fb15 65.5px,#f8f817 71.5px,#f5e327 74.5px,#febe3c 78.5px,#e5bb2d 79.5px,#c1c32c 80.5px,#95ca49 81.5px,#65cd6e 82.5px,#3bc992 83.5px,#1cc0b4 84.5px,#07b5d0 85.5px,#21a4e3 86.5px,#317efb 88.5px,#4269fe 89.5px,#4755f6 90.5px,#4741e5 91.5px,#4230c3 92.5px,#3e26a8 93.5px,#3e26a8 96.0px)"></div>
<div style="position:absolute;left:223px;top:78px;width:96px;height:1px;background:linear-gradient(90deg,#3e26a8 0.0px,#3e26a8 40.5px,#4434d0 41.5px,#4849ed 42.5px,#475bf9 43.5px,#406dfe 44.5px,#2d88f6 45.5px,#249fe6 46.5px,#14b0d8 47.5px,#01b9c6 48.5px,#1fc1b1 49.5px,#4ccb83 51.5px,#95ca49 53.5px,#b5c533 54.5px,#cdc028 55.5px,#e1bc2b 56.5px,#f3ba38 57.5px,#febe3c 58.5px,#f5ec22 63.5px,#f9fa15 65.5px,#f9fb15 71.5px,#f6de29 75.5px,#fec239 78.5px,#f3ba39 79.5px,#d3bf27 80.5px,#aac73a 81.5px,#4fcc81 83.5px,#2dc4a5 84.5px,#02bac4 85.5px,#19acdc 86.5px,#2e87f7 88.5px,#3b72fe 89.5px,#465efb 90.5px,#484aee 91.5px,#4537d5 92.5px,#3f28ad 93.5px,#3e26a8 96.0px)"></div>
<div style="position:absolute;left:223px;top:79px;width:96px;height:1px;background:linear-gradient(90deg,#3e26a8 0.0px,#3e26a8 40.5px,#412dbc 41.5px,#473fe2 42.5px,#4852f4 43.5px,#4464fd 44.5px,#327cfc 45.5px,#2895ec 46.5px,#1da8e0 47.5px,#06b5ce 48.5px,#0ebebb 49.5px,#2dc4a6 50.5px,#3eca8f 51.5px,#83cc57 53.5px,#a9c73b 54.5px,#c2c22c 55.5px,#d8be28 56.5px,#fabb3d 58.5px,#fdcc32 60.5px,#f5e924 63.5px,#f9fb15 66.5px,#f8f818 72.5px,#f5e227 75.5px,#fdbd3d 79.5px,#e3bc2c 80.5px,#bdc32e 81.5px,#91ca4c 82.5px,#62cd71 83.5px,#38c895 84.5px,#18bfb6 85.5px,#0bb3d2 86.5px,#22a2e4 87.5px,#327cfc 89.5px,#4367fd 90.5px,#4854f5 91.5px,#473fe3 92.5px,#422fc0 93.5px,#3e26a8 94.5px,#3e26a8 96.0px)"></div>
<div style="position:absolute;left:223px;top:80px;width:96px;height:1px;background:linear-gradient(90deg,#3e26a8 0.0px,#3e26a8 41.5px,#4536d3 42.5px,#484aee 43.5px,#475cfa 44.5px,#3f6fff 45.5px,#2d8af5 46.5px,#23a0e5 47.5px,#12b1d7 48.5px,#02bac4 49.5px,#22c1b0 50.5px,#4ecc81 52.5px,#98ca47 54.5px,#b7c532 55.5px,#cec028 56.5px,#e3bc2c 57.5px,#f4ba39 58.5px,#febf3c 59.5px,#f5ed22 64.5px,#f9fb15 66.5px,#f9fb15 72.5px,#f6dd2a 76.5px,#fec139 79.5px,#f1ba37 80.5px,#d0c027 81.5px,#a6c83d 82.5px,#4bcb83 84.5px,#2bc3a8 85.5px,#01b9c6 86.5px,#1babde 87.5px,#2e85f8 89.5px,#3d71ff 90.5px,#475cfa 91.5px,#4849ed 92.5px,#4535d2 93.5px,#3e27aa 94.5px,#3e26a8 96.0px)"></div>
<div style="position:absolute;left:223px;top:81px;width:96px;height:1px;background:linear-gradient(90deg,#3e26a8 0.0px,#3e26a8 41.5px,#422ebf 42.5px,#4741e4 43.5px,#4854f5 44.5px,#4466fd 45.5px,#317efb 46.5px,#2797eb 47.5px,#1caadf 48.5px,#04b6cd 49.5px,#11beb9 50.5px,#2ec5a4 51.5px,#40ca8d 52.5px,#86cb54 54.5px,#acc739 55.5px,#c4c22b 56.5px,#dabd28 57.5px,#fbbc3d 59.5px,#fdcc32 61.5px,#f5ea24 64.5px,#f9fb15 67.5px,#f9fb15 72.5px,#f5e128 76.5px,#fec636 79.5px,#fcbc3d 80.5px,#e0bc2a 81.5px,#bac430 82.5px,#5fcd73 84.5px,#13beb8 86.5px,#0eb2d4 87.5px,#23a0e5 88.5px,#337afd 90.5px,#4466fd 91.5px,#4852f4 92.5px,#463ee1 93.5px,#412dbd 94.5px,#3e26a8 96.0px)"></div>
<div style="position:absolute;left:223px;top:82px;width:96px;height:1px;background:linear-gradient(90deg,#3e26a8 0.0px,#3e27ab 42.5px,#4537d6 43.5px,#484bef 44.5px,#465dfb 45.5px,#3d71ff 46.5px,#22a2e4 48.5px,#10b2d5 49.5px,#03bbc3 50.5px,#24c2ae 51.5px,#37c898 52.5px,#51cc7f 53.5px,#9bc945 55.5px,#b9c430 56.5px,#d0bf27 57.5px,#e4bb2c 58.5px,#f5ba3a 59.5px,#febf3b 60.5px,#f5ed21 65.5px,#f9fb15 67.5px,#f9fb15 73.5px,#f7dc2a 77.5px,#fec13a 80.5px,#eeba35 81.5px,#cdc028 82.5px,#a2c83f 83.5px,#48cb86 85.5px,#28c3ab 86.5px,#01b8c8 87.5px,#1ca9df 88.5px,#2e84f9 90.5px,#3e6fff 91.5px,#475bf9 92.5px,#4747eb 93.5px,#4434cf 94.5px,#3e26a8 96.0px)"></div>
<div style="position:absolute;left:223px;top:83px;width:96px;height:1px;background:linear-gradient(90deg,#3e26a8 0.0px,#3e26a8 42.5px,#4230c3 43.5px,#4742e6 44.5px,#4755f6 45.5px,#4367fd 46.5px,#3080fa 47.5px,#2699e9 48.5px,#1babde 49.5px,#03b7cb 50.5px,#15bfb8 51.5px,#30c5a2 52.5px,#43ca8b 53.5px,#89cb52 55.5px,#aec637 56.5px,#c6c22a 57.5px,#dbbd29 58.5px,#fcbc3d 60.5px,#fdcd31 62.5px,#f5ea24 65.5px,#f9fb15 68.5px,#f9fb15 73.5px,#f6e128 77.5px,#fec537 80.5px,#fabb3d 81.5px,#ddbd29 82.5px,#b7c532 83.5px,#5bcc76 85.5px,#0ebebb 87.5px,#12b1d6 88.5px,#249fe6 89.5px,#3579fd 91.5px,#4564fd 92.5px,#4850f3 93.5px,#463cdf 94.5px,#412cba 96.0px)"></div>
<div style="position:absolute;left:223px;top:84px;width:96px;height:1px;background:linear-gradient(90deg,#3e26a8 0.0px,#3e26a8 42.5px,#3f28ae 43.5px,#4539d9 44.5px,#484df0 45.5px,#465ffb 46.5px,#3b73fe 47.5px,#21a3e3 49.5px,#0eb2d4 50.5px,#05bbc1 51.5px,#26c2ac 52.5px,#38c896 53.5px,#54cc7d 54.5px,#9ec942 56.5px,#bbc42f 57.5px,#d2bf27 58.5px,#e6bb2d 59.5px,#f6ba3c 60.5px,#fec03b 61.5px,#f5ee21 66.5px,#f9fb15 68.5px,#f9fa16 74.5px,#f7dc2a 78.5px,#fec03b 81.5px,#ecba32 82.5px,#cac129 83.5px,#9fc942 84.5px,#6fcd66 85.5px,#44cb8a 86.5px,#25c2ad 87.5px,#01b8ca 88.5px,#1da8e0 89.5px,#2f82f9 91.5px,#3f6dfe 92.5px,#4759f9 93.5px,#4745ea 94.5px,#4433cc 96.0px)"></div>
<div style="position:absolute;left:223px;top:85px;width:96px;height:1px;background:linear-gradient(90deg,#402bb7 0.0px,#3e26a8 1.5px,#3e26a8 43.5px,#4331c6 44.5px,#4744e8 45.5px,#4757f7 46.5px,#4269fe 47.5px,#2f82f9 48.5px,#269be8 49.5px,#19acdc 50.5px,#01b8ca 51.5px,#45cb89 54.5px,#8dcb50 56.5px,#b0c636 57.5px,#c8c129 58.5px,#ddbd29 59.5px,#fcbd3d 61.5px,#f8d82c 64.5px,#f6f21e 67.5px,#f9fb15 69.5px,#f9fb15 74.5px,#f6e028 78.5px,#fec437 81.5px,#f9bb3d 82.5px,#dbbd28 83.5px,#b3c534 84.5px,#58cc79 86.5px,#0abdbd 88.5px,#14b0d8 89.5px,#249de6 90.5px,#3777fe 92.5px,#4562fc 93.5px,#484ff2 94.5px,#463bdc 96.0px)"></div>
<div style="position:absolute;left:223px;top:86px;width:96px;height:1px;background:linear-gradient(90deg,#4332c9 0.0px,#3e26a8 1.5px,#3e26a8 43.5px,#3f29b2 44.5px,#463adc 45.5px,#484ef1 46.5px,#4660fc 47.5px,#3875fe 48.5px,#20a5e3 50.5px,#0bb3d2 51.5px,#07bcbf 52.5px,#28c3aa 53.5px,#3ac994 54.5px,#57cc7a 55.5px,#a1c840 57.5px,#bdc32e 58.5px,#d3bf27 59.5px,#e7bb2e 60.5px,#f8ba3d 61.5px,#fec13a 62.5px,#f5ee21 67.5px,#f9fb15 69.5px,#f9f916 75.5px,#f7db2b 79.5px,#febf3b 82.5px,#eabb30 83.5px,#c6c12a 84.5px,#9bc944 85.5px,#6ccd68 86.5px,#40ca8d 87.5px,#04b6cc 89.5px,#1fa6e1 90.5px,#2a93ee 91.5px,#2f81fa 92.5px,#416cfe 93.5px,#4758f8 94.5px,#4744e8 96.0px)"></div>
<div style="position:absolute;left:223px;top:87px;width:96px;height:1px;background:linear-gradient(90deg,#4639da 0.0px,#402ab3 1.5px,#3e26a8 2.5px,#3e26a8 44.5px,#4332ca 45.5px,#4746ea 46.5px,#4758f8 47.5px,#426afe 48.5px,#2e84f8 49.5px,#259ce7 50.5px,#18addb 51.5px,#01b8c8 52.5px,#47cb87 55.5px,#90ca4d 57.5px,#b2c635 58.5px,#c9c129 59.5px,#debc2a 60.5px,#f0ba36 61.5px,#fdbd3d 62.5px,#f8d92b 65.5px,#f6f21d 68.5px,#f9fb15 70.5px,#f9fb15 75.5px,#f6df29 79.5px,#fec338 82.5px,#f7ba3c 83.5px,#d8be28 84.5px,#b0c636 85.5px,#54cc7c 87.5px,#30c5a1 88.5px,#07bcc0 89.5px,#16afda 90.5px,#259ce7 91.5px,#3875fe 93.5px,#4561fc 94.5px,#484df0 96.0px)"></div>
<div style="position:absolute;left:223px;top:88px;width:96px;height:1px;background:linear-gradient(90deg,#4742e6 0.0px,#4331c6 1.5px,#3e26a8 2.5px,#3e26a8 44.5px,#402bb6 45.5px,#463cde 46.5px,#4850f2 47.5px,#4562fc 48.5px,#3678fe 49.5px,#2b92ee 50.5px,#1fa6e2 51.5px,#09b4d1 52.5px,#09bdbe 53.5px,#2ac3a9 54.5px,#3bc992 55.5px,#59cc78 56.5px,#a4c83e 58.5px,#bfc32d 59.5px,#d5be28 60.5px,#e9bb2f 61.5px,#f9ba3d 62.5px,#fec139 63.5px,#f6ef20 68.5px,#f9fb15 70.5px,#f8f917 76.5px,#f5e327 79.5px,#febf3c 83.5px,#e7bb2e 84.5px,#c3c22b 85.5px,#97ca47 86.5px,#68cd6b 87.5px,#3dc990 88.5px,#1ec0b2 89.5px,#06b5ce 90.5px,#20a5e2 91.5px,#2b91ef 92.5px,#307ffb 93.5px,#426afe 94.5px,#4756f7 96.0px)"></div>
<div style="position:absolute;left:223px;top:89px;width:96px;height:1px;background:linear-gradient(90deg,#484cef 0.0px,#4538d7 1.5px,#3f29b0 2.5px,#3e26a8 3.5px,#3e26a8 45.5px,#4433cd 46.5px,#4847ec 47.5px,#4759f9 48.5px,#406cfe 49.5px,#2e86f7 50.5px,#249ee6 51.5px,#16afd9 52.5px,#01b9c7 53.5px,#1dc0b3 54.5px,#4acb85 56.5px,#93ca4b 58.5px,#b4c534 59.5px,#cbc029 60.5px,#e0bc2a 61.5px,#f2ba37 62.5px,#febe3c 63.5px,#f5ec22 68.5px,#f9fa16 70.5px,#f9fb15 76.5px,#f6de29 80.5px,#fec339 83.5px,#f5ba3a 84.5px,#d5be28 85.5px,#acc738 86.5px,#51cc7f 88.5px,#2ec5a3 89.5px,#04bbc2 90.5px,#18addb 91.5px,#2d88f6 93.5px,#3a74fe 94.5px,#465ffb 96.0px)"></div>
<div style="position:absolute;left:223px;top:90px;width:96px;height:1px;background:linear-gradient(90deg,#4755f6 0.0px,#4741e4 1.5px,#422fc3 2.5px,#3e26a8 3.5px,#3e26a8 45.5px,#412cb9 46.5px,#463ee0 47.5px,#4851f3 48.5px,#4563fd 49.5px,#347afd 50.5px,#2994ed 51.5px,#1ea7e1 52.5px,#07b5d0 53.5px,#0cbdbc 54.5px,#2cc4a7 55.5px,#3dc990 56.5px,#5ccc76 57.5px,#a7c73c 59.5px,#c1c32c 60.5px,#d7be28 61.5px,#fabb3d 63.5px,#fdcb33 65.5px,#f5e924 68.5px,#f9fb15 71.5px,#f8f817 77.5px,#f5e327 80.5px,#febe3c 84.5px,#e5bb2c 85.5px,#c0c32d 86.5px,#94ca4a 87.5px,#64cd6e 88.5px,#3ac993 89.5px,#1bc0b4 90.5px,#08b4d1 91.5px,#21a3e3 92.5px,#317dfc 94.5px,#4368fe 96.0px)"></div>
<div style="position:absolute;left:223px;top:91px;width:96px;height:1px;background:linear-gradient(90deg,#465efb 0.0px,#484aee 1.5px,#4536d4 2.5px,#3e28ac 3.5px,#3e26a8 7.5px,#3e26a8 46.5px,#4435d0 47.5px,#4849ed 48.5px,#475bf9 49.5px,#3f6dfe 50.5px,#2d88f6 51.5px,#249fe5 52.5px,#14b0d8 53.5px,#01bac5 54.5px,#20c1b1 55.5px,#4ccb82 57.5px,#96ca49 59.5px,#b6c533 60.5px,#cdc028 61.5px,#e1bc2b 62.5px,#f3ba39 63.5px,#febe3c 64.5px,#f5ec22 69.5px,#f9fa15 71.5px,#f9fb15 77.5px,#f6de29 81.5px,#fec239 84.5px,#f2ba38 85.5px,#d2bf27 86.5px,#a9c73b 87.5px,#4ecc81 89.5px,#2dc4a6 90.5px,#02bac4 91.5px,#1aacdd 92.5px,#2e86f7 94.5px,#3c72ff 96.0px)"></div>
<div style="position:absolute;left:223px;top:92px;width:96px;height:1px;background:linear-gradient(90deg,#4367fd 0.0px,#4853f5 1.5px,#473fe2 2.5px,#422ebf 3.5px,#3e26a8 4.5px,#3e26a8 46.5px,#412dbd 47.5px,#473fe3 48.5px,#4853f5 49.5px,#4465fd 50.5px,#327cfc 51.5px,#2896ec 52.5px,#1da9e0 53.5px,#05b6ce 54.5px,#0fbeba 55.5px,#2dc4a5 56.5px,#3fca8e 57.5px,#84cc56 59.5px,#aac73a 60.5px,#c3c22b 61.5px,#d8be28 62.5px,#fabc3d 64.5px,#fdcc32 66.5px,#f5e924 69.5px,#f9fb15 72.5px,#f8f818 78.5px,#f5e228 81.5px,#fdbd3d 85.5px,#e2bc2b 86.5px,#bdc32f 87.5px,#61cd71 89.5px,#38c896 90.5px,#16bfb7 91.5px,#0cb3d3 92.5px,#22a2e4 93.5px,#327cfc 96.0px)"></div>
<div style="position:absolute;left:223px;top:93px;width:96px;height:1px;background:linear-gradient(90deg,#3d70ff 0.0px,#475cfa 1.5px,#4848ec 2.5px,#4435d1 3.5px,#3e26a9 4.5px,#3e26a8 47.5px,#4536d4 48.5px,#484aee 49.5px,#475cfa 50.5px,#3e6fff 51.5px,#2d8af4 52.5px,#23a1e5 53.5px,#12b1d6 54.5px,#02bac4 55.5px,#23c1af 56.5px,#36c799 57.5px,#4fcc80 58.5px,#99c946 60.5px,#b8c431 61.5px,#cfc028 62.5px,#e3bc2c 63.5px,#f4ba3a 64.5px,#febf3b 65.5px,#f5ed22 70.5px,#f9fb15 72.5px,#f9fb15 78.5px,#f7dd2a 82.5px,#fec13a 85.5px,#f0ba36 86.5px,#cfc028 87.5px,#a5c83d 88.5px,#4bcb84 90.5px,#2ac3a9 91.5px,#01b9c6 92.5px,#1baade 93.5px,#2e85f8 96.0px)"></div>
<div style="position:absolute;left:223px;top:94px;width:96px;height:1px;background:linear-gradient(90deg,#347afd 0.0px,#4465fd 1.5px,#4852f4 2.5px,#463de0 3.5px,#412dbc 4.5px,#3e26a8 5.5px,#3e26a8 47.5px,#422fc0 48.5px,#4741e5 49.5px,#4854f5 50.5px,#4466fd 51.5px,#307efb 52.5px,#2797ea 53.5px,#1caadf 54.5px,#04b6cd 55.5px,#12beb9 56.5px,#2fc5a3 57.5px,#41ca8c 58.5px,#87cb54 60.5px,#acc738 61.5px,#c4c22a 62.5px,#dabd28 63.5px,#fbbc3d 65.5px,#fdcd32 67.5px,#f5ea24 70.5px,#f9fb15 73.5px,#f9fb15 78.5px,#f5e128 82.5px,#fec636 85.5px,#fbbc3d 86.5px,#dfbc2a 87.5px,#b9c430 88.5px,#5ecc74 90.5px,#12beb9 92.5px,#0fb2d5 93.5px,#23a0e5 94.5px,#2d8df2 96.0px)"></div>
<div style="position:absolute;left:223px;top:95px;width:96px;height:1px;background:linear-gradient(90deg,#2e83f9 0.0px,#3f6fff 1.5px,#475bf9 2.5px,#4747eb 3.5px,#4434ce 4.5px,#3e26a8 5.5px,#3e26a8 47.5px,#3e27ac 48.5px,#4538d7 49.5px,#484cef 50.5px,#465efb 51.5px,#3c71ff 52.5px,#22a2e4 54.5px,#0fb2d5 55.5px,#03bbc2 56.5px,#25c2ad 57.5px,#37c897 58.5px,#52cc7e 59.5px,#9cc944 61.5px,#bac430 62.5px,#d1bf27 63.5px,#e5bb2c 64.5px,#f5ba3b 65.5px,#fec03b 66.5px,#f5ed21 71.5px,#f9fb15 73.5px,#f9fa15 79.5px,#f7dc2a 83.5px,#fec13a 86.5px,#eeba34 87.5px,#ccc028 88.5px,#a2c840 89.5px,#72cd63 90.5px,#47cb87 91.5px,#27c2ab 92.5px,#01b8c9 93.5px,#1da9e0 94.5px,#2895ec 96.0px)"></div>
<div style="position:absolute;left:223px;top:96px;width:96px;height:1px;background:linear-gradient(90deg,#2d8cf3 0.0px,#3578fd 1.5px,#4564fd 2.5px,#4850f3 3.5px,#463cde 4.5px,#412cb9 5.5px,#3e26a8 6.5px,#3e26a8 48.5px,#4230c4 49.5px,#4743e7 50.5px,#4756f6 51.5px,#4368fd 52.5px,#2f81fa 53.5px,#2699e9 54.5px,#1aabdd 55.5px,#02b7cb 56.5px,#15bfb7 57.5px,#30c5a1 58.5px,#43ca8a 59.5px,#8acb51 61.5px,#aec637 62.5px,#c6c22a 63.5px,#dcbd29 64.5px,#fcbc3d 66.5px,#fdcd31 68.5px,#f5ea23 71.5px,#f9fb15 74.5px,#f9fb15 79.5px,#f6e028 83.5px,#fec537 86.5px,#fabb3d 87.5px,#ddbd29 88.5px,#b6c532 89.5px,#5acc77 91.5px,#0dbdbb 93.5px,#12b1d7 94.5px,#249ee6 96.0px)"></div>
<div style="position:absolute;left:223px;top:97px;width:96px;height:1px;background:linear-gradient(90deg,#2994ed 0.0px,#2f82fa 1.5px,#406dfe 2.5px,#4759f8 3.5px,#4745e9 4.5px,#3e26a8 6.5px,#3e26a8 48.5px,#3f29af 49.5px,#4639d9 50.5px,#484df1 51.5px,#465ffb 52.5px,#3a74fe 53.5px,#21a3e3 55.5px,#0db3d3 56.5px,#06bbc1 57.5px,#27c2ac 58.5px,#39c895 59.5px,#55cc7c 60.5px,#9fc942 62.5px,#bbc42f 63.5px,#d2bf27 64.5px,#e6bb2d 65.5px,#f7ba3c 66.5px,#fec03a 67.5px,#f5ee21 72.5px,#f9fb15 74.5px,#f9fa16 80.5px,#f7dc2a 84.5px,#fec03b 87.5px,#ebba32 88.5px,#c9c129 89.5px,#9ec942 90.5px,#6ecd66 91.5px,#43ca8a 92.5px,#25c2ae 93.5px,#02b7cb 94.5px,#1ea7e1 96.0px)"></div>
<div style="position:absolute;left:223px;top:98px;width:96px;height:1px;background:linear-gradient(90deg,#259de7 0.0px,#3777fe 2.5px,#4562fc 3.5px,#484ef1 4.5px,#463adc 5.5px,#402bb6 6.5px,#3e26a8 7.5px,#3e26a8 49.5px,#4331c7 50.5px,#4745e9 51.5px,#4757f7 52.5px,#4269fe 53.5px,#2e83f9 54.5px,#259be8 55.5px,#19addc 56.5px,#01b8ca 57.5px,#46cb88 60.5px,#8dcb4f 62.5px,#b0c636 63.5px,#c8c129 64.5px,#ddbd29 65.5px,#fdbd3d 67.5px,#f8d82c 70.5px,#f6f21e 73.5px,#f9fb15 75.5px,#f9fb15 80.5px,#f6e028 84.5px,#fec438 87.5px,#f8ba3d 88.5px,#dabd28 89.5px,#b2c534 90.5px,#57cc7a 92.5px,#09bdbe 94.5px,#14b0d8 96.0px)"></div>
<div style="position:absolute;left:223px;top:99px;width:96px;height:1px;background:linear-gradient(90deg,#1fa6e2 0.0px,#2a92ee 1.5px,#2f80fa 2.5px,#416bfe 3.5px,#4757f8 4.5px,#4743e7 5.5px,#4332c8 6.5px,#3e26a8 7.5px,#3e26a8 49.5px,#402ab3 50.5px,#463bdc 51.5px,#484ff2 52.5px,#4661fc 53.5px,#3876fe 54.5px,#20a5e2 56.5px,#0bb4d2 57.5px,#08bcbf 58.5px,#29c3aa 59.5px,#3ac993 60.5px,#57cc7a 61.5px,#a1c840 63.5px,#bdc32e 64.5px,#d4bf28 65.5px,#e7bb2e 66.5px,#f8ba3d 67.5px,#fec13a 68.5px,#f5ef21 73.5px,#f9fb15 75.5px,#f9f916 81.5px,#f7db2b 85.5px,#febf3b 88.5px,#e9bb30 89.5px,#c6c22a 90.5px,#9ac945 91.5px,#6bcd69 92.5px,#3fca8e 93.5px,#04b6cd 96.0px)"></div>
<div style="position:absolute;left:223px;top:100px;width:96px;height:1px;background:linear-gradient(90deg,#15afd9 0.0px,#259ce7 1.5px,#3876fe 3.5px,#4561fc 4.5px,#484ef1 5.5px,#463adb 6.5px,#402ab4 7.5px,#3e26a8 8.5px,#3e26a8 50.5px,#4332c9 51.5px,#4745e9 52.5px,#4758f8 53.5px,#426afe 54.5px,#2e84f9 55.5px,#259ce7 56.5px,#19addc 57.5px,#01b8c9 58.5px,#47cb87 61.5px,#8fcb4e 63.5px,#b1c635 64.5px,#c9c129 65.5px,#debd29 66.5px,#fdbd3d 68.5px,#f8d92c 71.5px,#f6f21e 74.5px,#f9fb15 76.5px,#f9fb15 81.5px,#f6df29 85.5px,#fec438 88.5px,#f8ba3d 89.5px,#d9be28 90.5px,#b1c635 91.5px,#56cc7b 93.5px,#31c6a0 94.5px,#08bcbf 96.0px)"></div>
<div style="position:absolute;left:223px;top:101px;width:96px;height:1px;background:linear-gradient(90deg,#02b7cb 0.0px,#1ea7e1 1.5px,#2994ed 2.5px,#2f81fa 3.5px,#406cfe 4.5px,#4759f8 5.5px,#4745e9 6.5px,#4332cb 7.5px,#3e26a8 8.5px,#3e26a8 50.5px,#3f29b0 51.5px,#463ada 52.5px,#484ef1 53.5px,#4660fb 54.5px,#3974fe 55.5px,#20a4e3 57.5px,#0cb3d3 58.5px,#06bcc0 59.5px,#27c2ab 60.5px,#39c895 61.5px,#55cc7b 62.5px,#9fc941 64.5px,#bcc42f 65.5px,#d3bf27 66.5px,#e6bb2d 67.5px,#f7ba3c 68.5px,#fec03a 69.5px,#f5ee21 74.5px,#f9fb15 76.5px,#f9fa16 82.5px,#f7db2a 86.5px,#fec03b 89.5px,#ebba31 90.5px,#c8c129 91.5px,#9dc943 92.5px,#6dcd67 93.5px,#42ca8b 94.5px,#24c1ae 96.0px)"></div>
<div style="position:absolute;left:223px;top:102px;width:96px;height:1px;background:linear-gradient(90deg,#0dbdbc 0.0px,#12b1d7 1.5px,#249ee6 2.5px,#3578fd 4.5px,#4563fd 5.5px,#4850f2 6.5px,#463cde 7.5px,#412cb9 8.5px,#3e26a8 9.5px,#3e26a8 51.5px,#4230c4 52.5px,#4743e7 53.5px,#4756f6 54.5px,#4368fe 55.5px,#2f81fa 56.5px,#2699e9 57.5px,#1aabdd 58.5px,#02b7cb 59.5px,#16bfb7 60.5px,#30c5a1 61.5px,#44ca8a 62.5px,#8bcb51 64.5px,#aec637 65.5px,#c6c12a 66.5px,#dcbd29 67.5px,#fcbc3d 69.5px,#fdce31 71.5px,#f5ea23 74.5px,#f9fb15 77.5px,#f9fb15 82.5px,#f6e028 86.5px,#fec537 89.5px,#fabb3d 90.5px,#dcbd29 91.5px,#b6c533 92.5px,#5acc77 94.5px,#34c79c 96.0px)"></div>
<div style="position:absolute;left:223px;top:103px;width:96px;height:1px;background:linear-gradient(90deg,#28c2ab 0.0px,#01b8c8 1.5px,#1da9e0 2.5px,#2e83f9 4.5px,#3f6fff 5.5px,#475bf9 6.5px,#4747eb 7.5px,#4434cf 8.5px,#3e26a8 9.5px,#3e26a8 51.5px,#3e27ac 52.5px,#4537d7 53.5px,#484cef 54.5px,#465efb 55.5px,#3c71ff 56.5px,#22a2e4 58.5px,#10b2d5 59.5px,#03bbc2 60.5px,#25c2ae 61.5px,#37c897 62.5px,#52cc7e 63.5px,#9bc944 65.5px,#b9c430 66.5px,#d0bf27 67.5px,#e4bb2c 68.5px,#f5ba3b 69.5px,#fec03b 70.5px,#f5ed21 75.5px,#f9fb15 77.5px,#f9fa15 83.5px,#f7dc2a 87.5px,#fec13a 90.5px,#eeba34 91.5px,#ccc028 92.5px,#a2c840 93.5px,#72cd63 94.5px,#47cb87 96.0px)"></div>
<div style="position:absolute;left:223px;top:104px;width:96px;height:1px;background:linear-gradient(90deg,#36c899 0.0px,#13beb9 1.5px,#0eb2d4 2.5px,#23a0e5 3.5px,#337afd 5.5px,#4465fd 6.5px,#4852f4 7.5px,#463ee1 8.5px,#412dbd 9.5px,#3e26a8 10.5px,#3e26a9 25.5px,#3f29b2 30.5px,#3e26a8 38.5px,#3e26a8 52.5px,#422ec0 53.5px,#4741e5 54.5px,#4854f5 55.5px,#4466fd 56.5px,#317efb 57.5px,#2797eb 58.5px,#1caadf 59.5px,#04b6cd 60.5px,#12beb9 61.5px,#2ec5a4 62.5px,#41ca8d 63.5px,#87cb54 65.5px,#acc739 66.5px,#c4c22b 67.5px,#dabd28 68.5px,#fbbc3d 70.5px,#fdcd32 72.5px,#f5ea24 75.5px,#f9fb15 78.5px,#f9fb15 83.5px,#f5e128 87.5px,#fec636 90.5px,#fcbc3d 91.5px,#e0bc2a 92.5px,#bac430 93.5px,#5ecd74 96.0px)"></div>
<div style="position:absolute;left:223px;top:105px;width:96px;height:1px;background:linear-gradient(90deg,#4ccb83 0.0px,#2bc3a8 1.5px,#01bac6 2.5px,#1babde 3.5px,#2e85f8 5.5px,#3d71ff 6.5px,#475dfa 7.5px,#4849ed 8.5px,#4536d2 9.5px,#3e27aa 10.5px,#3e26a9 23.5px,#412cb9 27.5px,#412cb9 33.5px,#3e26a8 39.5px,#3e27ab 51.5px,#402bb6 53.5px,#4536d3 54.5px,#484aee 55.5px,#475cfa 56.5px,#3f6eff 57.5px,#2d8af5 58.5px,#23a0e5 59.5px,#13b1d7 60.5px,#02bac4 61.5px,#22c1b0 62.5px,#4ecc81 64.5px,#98ca47 66.5px,#b7c532 67.5px,#cec028 68.5px,#e2bc2c 69.5px,#f4ba39 70.5px,#febf3c 71.5px,#f5ed22 76.5px,#f9fb15 78.5px,#f9fb15 84.5px,#f6dd29 88.5px,#fec239 91.5px,#f1ba37 92.5px,#d0bf27 93.5px,#a6c73c 94.5px,#77cc60 96.0px)"></div>
<div style="position:absolute;left:223px;top:106px;width:96px;height:1px;background:linear-gradient(90deg,#63cd70 0.0px,#39c895 1.5px,#19bfb6 2.5px,#0ab4d2 3.5px,#21a2e4 4.5px,#327dfc 6.5px,#4368fd 7.5px,#4854f5 8.5px,#4740e3 9.5px,#422fc1 10.5px,#3e26a8 11.5px,#3e26a8 21.5px,#4230c3 27.5px,#4230c3 33.5px,#402ab3 38.5px,#3e26a8 40.5px,#3e27ab 50.5px,#422ec0 53.5px,#4230c3 54.5px,#473ee2 55.5px,#4852f4 56.5px,#4564fd 57.5px,#327bfc 58.5px,#2995ec 59.5px,#1da8e0 60.5px,#06b5cf 61.5px,#0dbdbb 62.5px,#2dc4a6 63.5px,#3eca8f 64.5px,#83cc57 66.5px,#a8c73b 67.5px,#c2c22c 68.5px,#d8be28 69.5px,#fabb3d 71.5px,#fdcc32 73.5px,#f5e924 76.5px,#f9fb15 79.5px,#f8f818 85.5px,#f5e227 88.5px,#febd3c 92.5px,#e3bb2c 93.5px,#bec32e 94.5px,#92ca4c 96.0px)"></div>
<div style="position:absolute;left:223px;top:107px;width:96px;height:1px;background:linear-gradient(90deg,#7ccc5c 0.0px,#50cc80 1.5px,#2ec4a4 2.5px,#03bbc3 3.5px,#19addc 4.5px,#2e87f7 6.5px,#3a73fe 7.5px,#465ffb 8.5px,#484bef 9.5px,#4537d6 10.5px,#3f28af 11.5px,#3e26a8 12.5px,#3e26a8 20.5px,#4331c7 25.5px,#4434cf 30.5px,#4330c5 36.5px,#3e26a8 41.5px,#3e26a8 49.5px,#4230c4 52.5px,#4434ce 55.5px,#4848ec 56.5px,#475af9 57.5px,#406cfe 58.5px,#2e87f7 59.5px,#249ee6 60.5px,#15afd9 61.5px,#01b9c6 62.5px,#1ec0b2 63.5px,#4bcb84 65.5px,#94ca4a 67.5px,#b4c533 68.5px,#ccc028 69.5px,#e0bc2b 70.5px,#f2ba38 71.5px,#febe3c 72.5px,#f5ec22 77.5px,#f9fa16 79.5px,#f9fb15 85.5px,#f6de29 89.5px,#fec239 92.5px,#f4ba39 93.5px,#d4bf28 94.5px,#abc739 96.0px)"></div>
<div style="position:absolute;left:223px;top:108px;width:96px;height:1px;background:linear-gradient(90deg,#97ca48 0.0px,#67cd6c 1.5px,#3dc991 2.5px,#1ec0b2 3.5px,#06b5cf 4.5px,#20a4e3 5.5px,#307ffb 7.5px,#426afe 8.5px,#4756f7 9.5px,#4742e6 10.5px,#4330c5 11.5px,#3e26a8 12.5px,#3e26a8 19.5px,#4433cc 24.5px,#4538d8 29.5px,#4435d2 35.5px,#422ec0 39.5px,#3f28ad 41.5px,#3e26a8 43.5px,#3e26a8 48.5px,#3e28ad 49.5px,#4331c6 51.5px,#4537d5 54.5px,#463cdf 56.5px,#4850f3 57.5px,#4562fc 58.5px,#3678fd 59.5px,#2a92ee 60.5px,#1fa6e1 61.5px,#08b4d1 62.5px,#0abdbd 63.5px,#2ac3a8 64.5px,#3cc992 65.5px,#5acc78 66.5px,#a4c83e 68.5px,#bfc32d 69.5px,#d5be28 70.5px,#f9bb3d 72.5px,#fdcb33 74.5px,#f5e825 77.5px,#f9fb15 80.5px,#f8f917 86.5px,#f5e327 89.5px,#febe3c 93.5px,#e7bb2e 94.5px,#c3c22b 96.0px)"></div>
<div style="position:absolute;left:223px;top:109px;width:96px;height:1px;background:linear-gradient(90deg,#b0c636 0.0px,#54cc7c 2.5px,#30c5a1 3.5px,#07bcc0 4.5px,#16aeda 5.5px,#259ce7 6.5px,#3875fe 8.5px,#4661fc 9.5px,#484df0 10.5px,#4639da 11.5px,#402ab3 12.5px,#3e26a8 13.5px,#3e26a8 18.5px,#412cb9 20.5px,#4537d5 24.5px,#463ddf 29.5px,#4538d7 36.5px,#4332c9 39.5px,#3e26a8 42.5px,#3e26a8 48.5px,#4434cf 51.5px,#463bdd 54.5px,#463ddf 56.5px,#4746ea 57.5px,#4758f8 58.5px,#416afe 59.5px,#2e84f8 60.5px,#259ce7 61.5px,#18aedb 62.5px,#01b8c8 63.5px,#48cb86 66.5px,#90ca4d 68.5px,#b2c635 69.5px,#c9c129 70.5px,#debc2a 71.5px,#f0ba36 72.5px,#fdbd3d 73.5px,#f8d92b 76.5px,#f6f21d 79.5px,#f9fb15 81.5px,#f9fb15 86.5px,#f6df29 90.5px,#fec338 93.5px,#f7ba3c 94.5px,#d8be28 96.0px)"></div>
<div style="position:absolute;left:223px;top:110px;width:96px;height:1px;background:linear-gradient(90deg,#c7c12a 0.0px,#9bc944 1.5px,#6ccd68 2.5px,#41ca8d 3.5px,#03b7cc 5.5px,#1ea6e1 6.5px,#2a93ee 7.5px,#2f81fa 8.5px,#406cfe 9.5px,#4758f8 10.5px,#4744e8 11.5px,#4332c9 12.5px,#3e26a8 13.5px,#3e27ab 18.5px,#4433cc 21.5px,#463de0 25.5px,#4741e5 32.5px,#4538d8 38.5px,#4332ca 40.5px,#3f28ad 42.5px,#3e26a8 45.5px,#3e26a8 48.5px,#4433cc 50.5px,#463bdd 52.5px,#4741e5 57.5px,#4660fc 59.5px,#3975fe 60.5px,#20a4e3 62.5px,#0cb3d3 63.5px,#07bcc0 64.5px,#28c3ab 65.5px,#3ac994 66.5px,#56cc7b 67.5px,#a0c840 69.5px,#bdc32f 70.5px,#d3bf27 71.5px,#e7bb2e 72.5px,#f8ba3d 73.5px,#fec13a 74.5px,#f5ee21 79.5px,#f9fb15 81.5px,#f9f916 87.5px,#f7db2a 91.5px,#febf3b 94.5px,#eabb30 96.0px)"></div>
<div style="position:absolute;left:223px;top:111px;width:96px;height:1px;background:linear-gradient(90deg,#dbbd29 0.0px,#b4c533 1.5px,#59cc79 3.5px,#0bbdbd 5.5px,#13b0d7 6.5px,#249ee6 7.5px,#3678fe 9.5px,#4563fc 10.5px,#484ff2 11.5px,#463bdd 12.5px,#402bb7 13.5px,#3e26a8 14.5px,#3e26a8 17.5px,#4433cd 20.5px,#463de0 23.5px,#4745ea 28.5px,#4741e5 36.5px,#4639da 39.5px,#4331c7 41.5px,#3e26a8 43.5px,#3e26a8 48.5px,#4536d3 50.5px,#473fe3 52.5px,#4746ea 57.5px,#4746ea 58.5px,#4756f7 59.5px,#4368fe 60.5px,#2f82fa 61.5px,#269ae8 62.5px,#1aacdd 63.5px,#01b7ca 64.5px,#45cb89 67.5px,#8ccb50 69.5px,#afc637 70.5px,#c7c12a 71.5px,#dcbd29 72.5px,#fcbd3d 74.5px,#fdce31 76.5px,#f5eb23 79.5px,#f8f817 81.5px,#f9fb15 87.5px,#f6e028 91.5px,#fec437 94.5px,#f9bb3d 96.0px)"></div>
<div style="position:absolute;left:223px;top:112px;width:96px;height:1px;background:linear-gradient(90deg,#edba33 0.0px,#cbc129 1.5px,#a0c841 2.5px,#71cd64 3.5px,#45cb88 4.5px,#27c2ac 5.5px,#01b8c9 6.5px,#1da8e0 7.5px,#2e83f9 9.5px,#3f6eff 10.5px,#475af9 11.5px,#4746ea 12.5px,#4434cd 13.5px,#3e26a8 14.5px,#3e26a8 16.5px,#3f28af 17.5px,#4537d6 20.5px,#4745e9 24.5px,#4848ec 33.5px,#4741e5 38.5px,#463ada 40.5px,#4434d0 41.5px,#3e26a8 43.5px,#3e26a8 48.5px,#4331c8 49.5px,#4639da 50.5px,#4743e7 52.5px,#484cf0 59.5px,#465efb 60.5px,#3b72ff 61.5px,#21a3e4 63.5px,#0fb2d4 64.5px,#04bbc2 65.5px,#26c2ad 66.5px,#37c897 67.5px,#53cc7d 68.5px,#9dc943 70.5px,#bac430 71.5px,#d1bf27 72.5px,#e5bb2d 73.5px,#f6ba3b 74.5px,#fec03b 75.5px,#f5ee21 80.5px,#f9fb15 82.5px,#f9fa15 88.5px,#f7dc2a 92.5px,#fec03a 96.0px)"></div>
<div style="position:absolute;left:223px;top:113px;width:96px;height:1px;background:linear-gradient(90deg,#fbbc3d 0.0px,#dfbc2a 1.5px,#b9c431 2.5px,#5dcc75 4.5px,#11beba 6.5px,#10b2d5 7.5px,#23a0e5 8.5px,#347afd 10.5px,#4465fd 11.5px,#4851f4 12.5px,#463de0 13.5px,#412dbb 14.5px,#3e26a8 15.5px,#3e26a8 16.5px,#4536d5 19.5px,#4744e8 22.5px,#484df0 30.5px,#4743e7 39.5px,#4539d9 41.5px,#4332c9 42.5px,#3f28ae 43.5px,#3e26a8 45.5px,#3e26a8 47.5px,#3f29b1 48.5px,#4435d0 49.5px,#463de0 50.5px,#4849ed 53.5px,#484cf0 59.5px,#4854f6 60.5px,#4367fd 61.5px,#307ffb 62.5px,#2798ea 63.5px,#1baade 64.5px,#03b6cc 65.5px,#13beb8 66.5px,#2fc5a3 67.5px,#41ca8c 68.5px,#88cb53 70.5px,#acc738 71.5px,#c5c22a 72.5px,#dabd28 73.5px,#fbbc3d 75.5px,#fdcd32 77.5px,#f5ea24 80.5px,#f9fb15 83.5px,#f9fb15 88.5px,#f5e128 92.5px,#fec537 96.0px)"></div>
<div style="position:absolute;left:223px;top:114px;width:96px;height:1px;background:linear-gradient(90deg,#fec13a 0.0px,#f0ba36 1.5px,#cfc028 2.5px,#a5c83d 3.5px,#4acb84 5.5px,#2ac3a9 6.5px,#01b9c6 7.5px,#1baade 8.5px,#2e85f8 10.5px,#3d70ff 11.5px,#475cfa 12.5px,#4848ec 13.5px,#4435d1 14.5px,#3e26a9 15.5px,#3f29b0 16.5px,#4535d2 18.5px,#4740e4 20.5px,#484df0 25.5px,#484df1 35.5px,#4743e7 40.5px,#463de0 41.5px,#4536d3 42.5px,#412cb9 43.5px,#3e26a8 44.5px,#3e26a8 47.5px,#412cba 48.5px,#4538d8 49.5px,#4740e4 50.5px,#484df0 53.5px,#484ff2 60.5px,#475cfa 61.5px,#3e6fff 62.5px,#2d8af4 63.5px,#23a1e5 64.5px,#12b1d6 65.5px,#02bac4 66.5px,#23c1af 67.5px,#36c899 68.5px,#4fcc80 69.5px,#99c946 71.5px,#b8c431 72.5px,#cfc028 73.5px,#e3bc2c 74.5px,#f4ba3a 75.5px,#febf3b 76.5px,#f5ed22 81.5px,#f9fb15 83.5px,#f9fb15 89.5px,#f7dd2a 93.5px,#fdcb33 96.0px)"></div>
<div style="position:absolute;left:223px;top:115px;width:96px;height:1px;background:linear-gradient(90deg,#fec636 0.0px,#fdbd3d 1.5px,#e2bc2b 2.5px,#bcc42f 3.5px,#60cd72 5.5px,#37c897 6.5px,#15bfb7 7.5px,#0db3d3 8.5px,#22a1e4 9.5px,#327bfc 11.5px,#4466fd 12.5px,#4853f4 13.5px,#473ee1 14.5px,#412ebe 15.5px,#412cba 16.5px,#4639da 18.5px,#4848ec 21.5px,#4853f5 29.5px,#484cf0 38.5px,#4741e5 41.5px,#463adb 42.5px,#3e26a8 44.5px,#3e26a8 47.5px,#463bdc 49.5px,#4849ed 51.5px,#4853f5 56.5px,#4852f4 61.5px,#4564fd 62.5px,#337bfd 63.5px,#2994ed 64.5px,#1da8e0 65.5px,#06b5cf 66.5px,#0dbdbb 67.5px,#2dc4a6 68.5px,#3eca8f 69.5px,#83cc57 71.5px,#a8c73b 72.5px,#c2c22c 73.5px,#d8be28 74.5px,#fabb3d 76.5px,#fdcc32 78.5px,#f5e924 81.5px,#f9fb15 84.5px,#f8f818 90.5px,#f5e228 93.5px,#fcd030 96.0px)"></div>
<div style="position:absolute;left:223px;top:116px;width:96px;height:1px;background:linear-gradient(90deg,#fdcb33 0.0px,#fec239 1.5px,#f1ba37 2.5px,#d0bf27 3.5px,#a7c73c 4.5px,#4bcb83 6.5px,#2bc3a8 7.5px,#01b9c6 8.5px,#1baade 9.5px,#2e85f8 11.5px,#3d70ff 12.5px,#475cfa 13.5px,#4848ec 14.5px,#4435d0 15.5px,#4230c4 16.5px,#4537d6 17.5px,#4744e8 19.5px,#4755f6 26.5px,#4852f4 37.5px,#4745e9 41.5px,#463ee1 42.5px,#4434cf 43.5px,#3e26a8 44.5px,#3e26a8 47.5px,#4332c8 48.5px,#463ee1 49.5px,#484df0 51.5px,#4756f7 56.5px,#4758f8 62.5px,#416afe 63.5px,#2e85f8 64.5px,#259de7 65.5px,#17aedb 66.5px,#01b9c8 67.5px,#49cb85 70.5px,#92ca4c 72.5px,#b3c534 73.5px,#cbc129 74.5px,#e0bc2a 75.5px,#f2ba37 76.5px,#febe3c 77.5px,#f5ec22 82.5px,#f9fa16 84.5px,#f9fb15 90.5px,#f6de29 94.5px,#fad52e 96.0px)"></div>
<div style="position:absolute;left:223px;top:117px;width:96px;height:1px;background:linear-gradient(90deg,#fcd030 0.0px,#fdbd3d 2.5px,#e2bc2b 3.5px,#bdc32f 4.5px,#60cd72 6.5px,#37c897 7.5px,#14bfb8 8.5px,#0eb3d4 9.5px,#23a1e5 10.5px,#337afd 12.5px,#4465fd 13.5px,#4851f4 14.5px,#463de0 15.5px,#4433cd 16.5px,#463bdd 17.5px,#4848ec 19.5px,#4758f8 26.5px,#4755f6 37.5px,#4849ed 41.5px,#4742e6 42.5px,#4537d6 43.5px,#402ab5 44.5px,#3e26a8 45.5px,#3e26a8 47.5px,#4434ce 48.5px,#4741e5 49.5px,#4850f3 51.5px,#4759f8 56.5px,#4758f8 62.5px,#465efb 63.5px,#3b73fe 64.5px,#21a3e3 66.5px,#0db3d3 67.5px,#06bcc0 68.5px,#27c2ab 69.5px,#39c895 70.5px,#56cc7b 71.5px,#a0c840 73.5px,#bdc32e 74.5px,#d4bf27 75.5px,#e7bb2e 76.5px,#f8ba3d 77.5px,#fec13a 78.5px,#f6ef20 83.5px,#f9fb15 85.5px,#f8f817 91.5px,#f5e227 94.5px,#f8d92b 96.0px)"></div>
<div style="position:absolute;left:223px;top:118px;width:96px;height:1px;background:linear-gradient(90deg,#fad52d 0.0px,#fec239 2.5px,#f2ba38 3.5px,#d1bf27 4.5px,#a7c73c 5.5px,#4bcb83 7.5px,#2ac3a9 8.5px,#01b9c7 9.5px,#1caadf 10.5px,#2e84f9 12.5px,#3e6fff 13.5px,#475bf9 14.5px,#4537d6 16.5px,#4740e4 17.5px,#484ff2 20.5px,#475cfa 28.5px,#4756f7 38.5px,#484cf0 41.5px,#4746ea 42.5px,#463bdd 43.5px,#412ebe 44.5px,#3e26a8 45.5px,#3e26a8 47.5px,#4536d3 48.5px,#4744e8 49.5px,#4853f5 51.5px,#475cfa 57.5px,#475af9 63.5px,#4465fd 64.5px,#317dfc 65.5px,#2797eb 66.5px,#1caadf 67.5px,#04b6cd 68.5px,#13beb9 69.5px,#2fc5a3 70.5px,#42ca8b 71.5px,#89cb52 73.5px,#aec637 74.5px,#c6c22a 75.5px,#dcbd29 76.5px,#fcbd3d 78.5px,#fdce31 80.5px,#f5eb23 83.5px,#f9f917 85.5px,#f9fb15 91.5px,#f6de29 96.0px)"></div>
<div style="position:absolute;left:223px;top:119px;width:96px;height:1px;background:linear-gradient(90deg,#f8da2b 0.0px,#febe3c 3.5px,#e3bc2c 4.5px,#bdc32e 5.5px,#90ca4d 6.5px,#60cd72 7.5px,#37c898 8.5px,#13beb8 9.5px,#0fb2d4 10.5px,#23a0e5 11.5px,#3479fd 13.5px,#4464fd 14.5px,#4850f3 15.5px,#463cde 16.5px,#484aee 18.5px,#475bf9 24.5px,#465efb 34.5px,#4854f6 40.5px,#4849ed 42.5px,#473fe2 43.5px,#3e26a8 45.5px,#3e26a8 47.5px,#4538d8 48.5px,#4747eb 49.5px,#4759f9 52.5px,#465efb 60.5px,#475cfa 64.5px,#406cfe 65.5px,#2e87f7 66.5px,#249ee6 67.5px,#14b0d8 68.5px,#01bac5 69.5px,#20c1b1 70.5px,#4ecc81 72.5px,#98c946 74.5px,#b8c431 75.5px,#cfc028 76.5px,#e4bb2c 77.5px,#f5ba3b 78.5px,#fec03b 79.5px,#f5ee21 84.5px,#f9fb15 86.5px,#f8f917 92.5px,#f5e327 96.0px)"></div>
<div style="position:absolute;left:223px;top:120px;width:96px;height:1px;background:linear-gradient(90deg,#f6df29 0.0px,#fec239 3.5px,#f3ba38 4.5px,#d2bf27 5.5px,#a7c73c 6.5px,#4bcb84 8.5px,#2ac3a9 9.5px,#01b9c7 10.5px,#1caadf 11.5px,#2e83f9 13.5px,#3f6eff 14.5px,#475af9 15.5px,#4745e9 16.5px,#475af9 22.5px,#4562fc 31.5px,#4757f7 40.5px,#484df0 42.5px,#4743e7 43.5px,#4434cf 44.5px,#3e26a8 45.5px,#3e27ab 47.5px,#463bdd 48.5px,#484aee 49.5px,#475cfa 52.5px,#4561fc 59.5px,#4660fb 65.5px,#3875fe 66.5px,#2b90f0 67.5px,#1fa5e2 68.5px,#0ab4d1 69.5px,#09bdbe 70.5px,#2ac3a8 71.5px,#3cc991 72.5px,#5bcc76 73.5px,#a7c73c 75.5px,#c2c32c 76.5px,#d8be28 77.5px,#fbbc3d 79.5px,#fdcc32 81.5px,#f5ea24 84.5px,#f9fb15 87.5px,#f9fb15 92.5px,#f5e725 96.0px)"></div>
<div style="position:absolute;left:223px;top:121px;width:96px;height:1px;background:linear-gradient(90deg,#f5e327 0.0px,#febe3c 4.5px,#e4bb2c 5.5px,#bec32e 6.5px,#90ca4d 7.5px,#60cd72 8.5px,#12beb9 10.5px,#10b2d5 11.5px,#249fe5 12.5px,#3578fd 14.5px,#4563fd 15.5px,#484ff2 16.5px,#484bef 17.5px,#465dfa 22.5px,#4465fd 31.5px,#475af9 40.5px,#4850f3 42.5px,#4747eb 43.5px,#4538d7 44.5px,#3e26a8 45.5px,#3e26a8 46.5px,#3f29b0 47.5px,#463de0 48.5px,#484df0 49.5px,#465ffb 52.5px,#4464fd 59.5px,#4661fc 65.5px,#4367fd 66.5px,#3080fb 67.5px,#2699e9 68.5px,#1aabdd 69.5px,#01b7ca 70.5px,#47cb87 73.5px,#90ca4d 75.5px,#b3c534 76.5px,#cbc129 77.5px,#e0bc2a 78.5px,#f2ba38 79.5px,#febe3c 80.5px,#f5ed22 85.5px,#f9fb15 87.5px,#f9f916 93.5px,#f5eb23 96.0px)"></div>
<div style="position:absolute;left:223px;top:122px;width:96px;height:1px;background:linear-gradient(90deg,#f5e825 0.0px,#fec339 4.5px,#f3ba39 5.5px,#d2bf27 6.5px,#a8c73b 7.5px,#4bcb84 9.5px,#29c3a9 10.5px,#01b9c8 11.5px,#1da9e0 12.5px,#2f82f9 14.5px,#406dfe 15.5px,#4758f8 16.5px,#484ff2 17.5px,#4562fc 23.5px,#4367fd 33.5px,#465dfb 40.5px,#484bee 43.5px,#463cde 44.5px,#3e27ab 45.5px,#3e26a8 46.5px,#402ab5 47.5px,#4740e3 48.5px,#484ff2 49.5px,#4562fc 52.5px,#4367fd 60.5px,#4562fc 66.5px,#3f6efe 67.5px,#2d89f5 68.5px,#23a0e5 69.5px,#11b1d6 70.5px,#02bbc3 71.5px,#25c2ae 72.5px,#37c897 73.5px,#53cc7d 74.5px,#9fc941 76.5px,#bdc42f 77.5px,#d4bf28 78.5px,#e8bb2f 79.5px,#f9ba3d 80.5px,#fec239 81.5px,#f5e924 85.5px,#f9fb15 88.5px,#f9fb15 93.5px,#f6ef20 96.0px)"></div>
<div style="position:absolute;left:223px;top:123px;width:96px;height:1px;background:linear-gradient(90deg,#f5eb23 0.0px,#fdbd3d 5.5px,#e2bc2b 6.5px,#bbc42f 7.5px,#5dcc75 9.5px,#0dbdbc 11.5px,#13b0d7 12.5px,#249de7 13.5px,#3876fe 15.5px,#4660fc 16.5px,#4852f4 17.5px,#4466fd 24.5px,#4466fd 37.5px,#475dfa 41.5px,#484ef1 43.5px,#473fe3 44.5px,#402bb6 45.5px,#3e26a8 46.5px,#412cb9 47.5px,#4742e6 48.5px,#4852f4 49.5px,#4561fc 51.5px,#4269fe 57.5px,#4563fc 67.5px,#347afd 68.5px,#2994ed 69.5px,#1da8e0 70.5px,#05b6ce 71.5px,#11beb9 72.5px,#2fc5a3 73.5px,#42ca8b 74.5px,#8bcb51 76.5px,#afc636 77.5px,#c8c129 78.5px,#debd29 79.5px,#f0ba36 80.5px,#fdbd3d 81.5px,#f5ed22 86.5px,#f9fb15 88.5px,#f9fa16 94.5px,#f6f21d 96.0px)"></div>
<div style="position:absolute;left:223px;top:124px;width:96px;height:1px;background:linear-gradient(90deg,#f5ee21 0.0px,#fec13a 5.5px,#edba34 6.5px,#cac129 7.5px,#9ec942 8.5px,#6dcd68 9.5px,#3fca8e 10.5px,#06b5cf 12.5px,#20a4e3 13.5px,#317dfc 15.5px,#4367fd 16.5px,#4755f6 17.5px,#4367fd 23.5px,#4269fe 36.5px,#4660fb 41.5px,#4852f4 43.5px,#4743e7 44.5px,#422ebf 45.5px,#3e26a8 46.5px,#412dbc 47.5px,#4744e9 48.5px,#4854f6 49.5px,#4563fd 51.5px,#416bfe 57.5px,#4465fd 66.5px,#4561fc 67.5px,#406dfe 68.5px,#2d88f6 69.5px,#23a0e5 70.5px,#12b1d7 71.5px,#02bac3 72.5px,#24c2ae 73.5px,#37c897 74.5px,#53cc7d 75.5px,#a0c841 77.5px,#bdc32e 78.5px,#d4be28 79.5px,#e9bb2f 80.5px,#f9bb3d 81.5px,#fdcb32 83.5px,#f5ea24 86.5px,#f9fb15 89.5px,#f9fb15 94.5px,#f7f51b 96.0px)"></div>
<div style="position:absolute;left:223px;top:125px;width:96px;height:1px;background:linear-gradient(90deg,#f6f11f 0.0px,#f9d82c 3.5px,#fec437 5.5px,#f8ba3d 6.5px,#d8be28 7.5px,#aec637 8.5px,#7ecc5b 9.5px,#50cc80 10.5px,#2dc4a6 11.5px,#01bac5 12.5px,#1baade 13.5px,#2e83f9 15.5px,#3f6efe 16.5px,#4759f8 17.5px,#4269fe 23.5px,#416bfe 36.5px,#4563fc 41.5px,#4755f6 43.5px,#4747eb 44.5px,#4331c7 45.5px,#3e26a8 46.5px,#422ec0 47.5px,#4747eb 48.5px,#4757f7 49.5px,#4368fe 52.5px,#416cfe 61.5px,#4562fc 67.5px,#4367fd 68.5px,#337bfd 69.5px,#2895ec 70.5px,#1ca9df 71.5px,#04b6cd 72.5px,#13beb8 73.5px,#30c5a2 74.5px,#44cb89 75.5px,#8ecb4e 77.5px,#b2c635 78.5px,#cac129 79.5px,#e0bc2a 80.5px,#f2ba38 81.5px,#febe3c 82.5px,#f5ee21 87.5px,#f9fb15 89.5px,#f8f818 96.0px)"></div>
<div style="position:absolute;left:223px;top:126px;width:96px;height:1px;background:linear-gradient(90deg,#f7f31c 0.0px,#f7db2a 3.5px,#febe3c 6.5px,#e5bb2c 7.5px,#bec32e 8.5px,#90ca4d 9.5px,#5fcd73 10.5px,#0ebebb 12.5px,#13b0d7 13.5px,#249de6 14.5px,#3875fe 16.5px,#4660fb 17.5px,#3f6eff 27.5px,#426afe 39.5px,#4660fc 42.5px,#4758f8 43.5px,#484bee 44.5px,#4434cf 45.5px,#3e26a8 46.5px,#4230c3 47.5px,#4849ed 48.5px,#4759f8 49.5px,#426afe 52.5px,#3f6dfe 61.5px,#4564fd 67.5px,#406dfe 69.5px,#2d89f5 70.5px,#23a1e5 71.5px,#11b1d6 72.5px,#03bbc2 73.5px,#26c2ac 74.5px,#39c895 75.5px,#56cc7b 76.5px,#a4c83e 78.5px,#c0c32d 79.5px,#d7be28 80.5px,#fbbc3d 82.5px,#fdcd32 84.5px,#f5eb23 87.5px,#f9f916 89.5px,#f9fb15 96.0px)"></div>
<div style="position:absolute;left:223px;top:127px;width:96px;height:1px;background:linear-gradient(90deg,#f8f61a 0.0px,#f6df29 3.5px,#fec239 6.5px,#f0ba36 7.5px,#cdc028 8.5px,#a1c840 9.5px,#6fcd65 10.5px,#42ca8b 11.5px,#22c1b0 12.5px,#05b6ce 13.5px,#20a4e3 14.5px,#317dfc 16.5px,#4367fd 17.5px,#4562fc 18.5px,#3e6fff 26.5px,#416bfe 39.5px,#4562fc 42.5px,#484ef1 44.5px,#4538d7 45.5px,#3e26a8 46.5px,#4331c6 47.5px,#484bef 48.5px,#475af9 49.5px,#416cfe 52.5px,#3e6fff 61.5px,#4465fd 67.5px,#416bfe 69.5px,#327cfc 70.5px,#2797eb 71.5px,#1baade 72.5px,#03b7cb 73.5px,#17bfb7 74.5px,#47cb87 76.5px,#92ca4b 78.5px,#b5c533 79.5px,#cdc028 80.5px,#e3bc2c 81.5px,#f5ba3a 82.5px,#febf3b 83.5px,#f6ef20 88.5px,#f9fb15 90.5px,#f9fb15 96.0px)"></div>
<div style="position:absolute;left:223px;top:128px;width:96px;height:1px;background:linear-gradient(90deg,#f9f916 0.0px,#f5e227 3.5px,#fec537 6.5px,#fabb3d 7.5px,#dbbd29 8.5px,#b2c635 9.5px,#82cc58 10.5px,#52cc7e 11.5px,#2ec4a4 12.5px,#02bac4 13.5px,#1babde 14.5px,#2e84f9 16.5px,#3f6eff 17.5px,#4465fd 18.5px,#3b72ff 28.5px,#416cfe 40.5px,#465dfb 43.5px,#4852f4 44.5px,#463cde 45.5px,#3e26a8 46.5px,#4332c9 47.5px,#484df0 48.5px,#475cfa 49.5px,#426afe 51.5px,#3b72fe 57.5px,#426afe 66.5px,#4466fd 67.5px,#3f6eff 70.5px,#2d8bf4 71.5px,#22a2e4 72.5px,#0eb2d4 73.5px,#06bcc0 74.5px,#28c3ab 75.5px,#3bc993 76.5px,#5acc78 77.5px,#a8c73b 79.5px,#c3c22b 80.5px,#dabd28 81.5px,#fcbc3d 83.5px,#fdce31 85.5px,#f5ec22 88.5px,#f9fb15 90.5px,#f9fb15 96.0px)"></div>
<div style="position:absolute;left:223px;top:129px;width:96px;height:1px;background:linear-gradient(90deg,#f9fb15 0.0px,#f7dc2a 4.5px,#febf3b 7.5px,#e8bb2f 8.5px,#c2c22c 9.5px,#93ca4a 10.5px,#62cd71 11.5px,#11beb9 13.5px,#12b1d6 14.5px,#249ee6 15.5px,#3875fe 17.5px,#4367fd 18.5px,#3974fe 28.5px,#3f6efe 40.5px,#4660fb 43.5px,#4854f6 44.5px,#4740e3 45.5px,#3e26a8 46.5px,#4433cc 47.5px,#484ef1 48.5px,#465dfb 49.5px,#406cfe 51.5px,#3974fe 57.5px,#416bfe 66.5px,#4367fd 67.5px,#3e6fff 70.5px,#317efb 71.5px,#2798ea 72.5px,#1aabdd 73.5px,#01b8ca 74.5px,#4acb84 77.5px,#97ca48 79.5px,#b8c431 80.5px,#d0bf27 81.5px,#e5bb2d 82.5px,#f7ba3c 83.5px,#fec13a 84.5px,#f5e924 88.5px,#f9fb15 91.5px,#f9fb15 96.0px)"></div>
<div style="position:absolute;left:223px;top:130px;width:96px;height:1px;background:linear-gradient(90deg,#f9fb15 0.0px,#f5e924 3.5px,#fec338 7.5px,#f3ba39 8.5px,#d1bf27 9.5px,#a5c83d 10.5px,#73cd63 11.5px,#45cb89 12.5px,#24c2ae 13.5px,#04b6cd 14.5px,#20a5e2 15.5px,#317dfc 17.5px,#4269fe 18.5px,#3876fe 28.5px,#3e70ff 40.5px,#4562fc 43.5px,#4757f7 44.5px,#4743e7 45.5px,#3e26a8 46.5px,#4433cd 47.5px,#484ff2 48.5px,#465ffb 49.5px,#3f6eff 51.5px,#3876fe 57.5px,#3e6fff 65.5px,#4367fd 67.5px,#3b72fe 71.5px,#21a3e3 73.5px,#0cb3d3 74.5px,#08bcbf 75.5px,#2ac3a8 76.5px,#3dc990 77.5px,#5dcc74 78.5px,#acc738 80.5px,#c6c22a 81.5px,#dcbd29 82.5px,#efba35 83.5px,#fdbd3d 84.5px,#f5ed21 89.5px,#f9fb15 91.5px,#f9fb15 96.0px)"></div>
<div style="position:absolute;left:223px;top:131px;width:96px;height:1px;background:linear-gradient(90deg,#f9fb15 0.0px,#f9fa15 1.5px,#f5e427 4.5px,#fec636 7.5px,#fcbd3d 8.5px,#dfbc2a 9.5px,#b6c532 10.5px,#55cc7b 12.5px,#2fc5a2 13.5px,#03bbc2 14.5px,#1aacdd 15.5px,#2797eb 16.5px,#2e84f8 17.5px,#3f6eff 18.5px,#3677fe 30.5px,#3c72ff 40.5px,#4464fd 43.5px,#4759f9 44.5px,#4746ea 45.5px,#3e27ab 46.5px,#4434ce 47.5px,#4850f3 48.5px,#4661fc 49.5px,#3e70ff 51.5px,#3677fe 57.5px,#3d70ff 65.5px,#4368fe 67.5px,#3a74fe 71.5px,#3080fb 72.5px,#269ae9 73.5px,#19addc 74.5px,#01b8c8 75.5px,#4dcc82 78.5px,#9bc944 80.5px,#bbc430 81.5px,#d3bf27 82.5px,#e8bb2e 83.5px,#f9bb3d 84.5px,#fec239 85.5px,#f5ea24 89.5px,#f8f917 91.5px,#f9fb15 96.0px)"></div>
<div style="position:absolute;left:223px;top:132px;width:96px;height:1px;background:linear-gradient(90deg,#f9fb15 0.0px,#f7f61a 2.5px,#f6de29 5.5px,#fec03a 8.5px,#ebba31 9.5px,#c6c22a 10.5px,#97ca47 11.5px,#65cd6e 12.5px,#39c895 13.5px,#15bfb8 14.5px,#10b2d5 15.5px,#249ee6 16.5px,#3876fe 18.5px,#3e6fff 19.5px,#3578fd 29.5px,#3a74fe 40.5px,#4367fd 43.5px,#475cfa 44.5px,#4849ed 45.5px,#402ab4 46.5px,#4434cf 47.5px,#4852f4 48.5px,#4562fc 49.5px,#3c71ff 51.5px,#3578fd 58.5px,#3c72ff 65.5px,#4369fe 67.5px,#3876fe 71.5px,#3776fe 72.5px,#20a4e3 74.5px,#0ab4d1 75.5px,#0abdbd 76.5px,#2cc4a6 77.5px,#3fca8e 78.5px,#61cd71 79.5px,#afc637 81.5px,#c8c129 82.5px,#dfbc2a 83.5px,#f2ba37 84.5px,#febe3c 85.5px,#f5ef21 90.5px,#f9fb15 92.5px,#f9fb15 96.0px)"></div>
<div style="position:absolute;left:223px;top:133px;width:96px;height:1px;background:linear-gradient(90deg,#f9fb15 0.0px,#f8f917 2.5px,#f5e128 5.5px,#fec438 8.5px,#f6ba3b 9.5px,#d5be28 10.5px,#a9c73a 11.5px,#77cc60 12.5px,#48cb86 13.5px,#26c2ac 14.5px,#02b7cb 15.5px,#1fa6e2 16.5px,#2b91ef 17.5px,#317dfc 18.5px,#3c71ff 19.5px,#347afd 30.5px,#3a73fe 41.5px,#4269fe 43.5px,#465ffb 44.5px,#484cef 45.5px,#412dbc 46.5px,#4434cf 47.5px,#4853f5 48.5px,#4564fd 49.5px,#3b73fe 51.5px,#347afd 58.5px,#3b73fe 65.5px,#4269fe 67.5px,#3875fe 70.5px,#3678fe 72.5px,#2f81fa 73.5px,#259be7 74.5px,#17aedb 75.5px,#01b9c7 76.5px,#20c1b1 77.5px,#51cc7f 79.5px,#9fc941 81.5px,#bec32e 82.5px,#d5be28 83.5px,#fabb3d 85.5px,#fdcd31 87.5px,#f5eb23 90.5px,#f9fa15 92.5px,#f9fb15 96.0px)"></div>
<div style="position:absolute;left:223px;top:134px;width:96px;height:1px;background:linear-gradient(90deg,#f9fb15 0.0px,#f9fb15 2.5px,#f7db2a 6.5px,#febe3c 9.5px,#e2bc2b 10.5px,#bac430 11.5px,#58cc79 13.5px,#31c6a0 14.5px,#05bbc1 15.5px,#19addc 16.5px,#2798ea 17.5px,#2e84f8 18.5px,#3a73fe 19.5px,#337bfc 32.5px,#3975fe 41.5px,#416cfe 43.5px,#4561fc 44.5px,#484ff2 45.5px,#4230c3 46.5px,#4435d0 47.5px,#4854f5 48.5px,#4465fd 49.5px,#3a74fe 51.5px,#337bfd 58.5px,#3974fe 65.5px,#426afe 67.5px,#3776fe 70.5px,#3479fd 73.5px,#1fa6e2 75.5px,#07b5d0 76.5px,#0ebdbb 77.5px,#2ec4a4 78.5px,#42ca8b 79.5px,#65cd6e 80.5px,#b2c635 82.5px,#cbc029 83.5px,#e1bc2b 84.5px,#f4ba39 85.5px,#febf3b 86.5px,#f6f020 91.5px,#f9fb15 93.5px,#f9fb15 96.0px)"></div>
<div style="position:absolute;left:223px;top:135px;width:96px;height:1px;background:linear-gradient(90deg,#f9fb15 0.0px,#f8f719 3.5px,#f6df29 6.5px,#fec13a 9.5px,#eeba34 10.5px,#cac129 11.5px,#9bc944 12.5px,#69cd6b 13.5px,#3bc992 14.5px,#18bfb6 15.5px,#0eb2d4 16.5px,#249fe5 17.5px,#3876fe 19.5px,#327cfc 34.5px,#3b73fe 42.5px,#4564fd 44.5px,#4852f4 45.5px,#4332ca 46.5px,#4435d0 47.5px,#4755f6 48.5px,#4466fd 49.5px,#3875fe 51.5px,#327cfc 57.5px,#3876fe 65.5px,#416bfe 67.5px,#3876fe 69.5px,#337bfd 73.5px,#2e83f9 74.5px,#259de7 75.5px,#15afd9 76.5px,#02bac5 77.5px,#23c1af 78.5px,#37c897 79.5px,#54cc7c 80.5px,#a4c83e 82.5px,#c1c32d 83.5px,#d8be28 84.5px,#fcbc3d 86.5px,#fccf31 88.5px,#f5ed22 91.5px,#f9fb15 93.5px,#f9fb15 96.0px)"></div>
<div style="position:absolute;left:223px;top:136px;width:96px;height:1px;background:linear-gradient(90deg,#f9fb15 0.0px,#f9fa15 3.5px,#f5e327 6.5px,#fec537 9.5px,#f9bb3d 10.5px,#d8be28 11.5px,#adc638 12.5px,#7bcc5d 13.5px,#4bcb83 14.5px,#28c3aa 15.5px,#01b8ca 16.5px,#1ea6e1 17.5px,#2b92ee 18.5px,#317efb 19.5px,#3678fd 20.5px,#317dfc 35.5px,#3974fe 42.5px,#4466fd 44.5px,#4755f6 45.5px,#4435d1 46.5px,#4435d1 47.5px,#4756f6 48.5px,#4367fd 49.5px,#3776fe 51.5px,#317dfc 57.5px,#3776fe 65.5px,#416bfe 67.5px,#3776fe 69.5px,#327cfc 74.5px,#2b91ef 75.5px,#1ea7e1 76.5px,#06b5ce 77.5px,#11beb9 78.5px,#2fc5a2 79.5px,#45cb89 80.5px,#92ca4b 82.5px,#b5c533 83.5px,#cec028 84.5px,#e4bb2c 85.5px,#f6ba3b 86.5px,#fec13a 87.5px,#f5e924 91.5px,#f8f917 93.5px,#f9fb15 96.0px)"></div>
<div style="position:absolute;left:223px;top:137px;width:96px;height:1px;background:linear-gradient(90deg,#f9fb15 0.0px,#f9fb15 3.5px,#f7dd2a 7.5px,#febf3c 10.5px,#e6bb2d 11.5px,#bec32e 12.5px,#8dcb4f 13.5px,#5bcc76 14.5px,#32c69e 15.5px,#07bcbf 16.5px,#18addb 17.5px,#2698ea 18.5px,#2e85f8 19.5px,#3579fd 20.5px,#317efb 35.5px,#3876fe 42.5px,#4368fd 44.5px,#4758f8 45.5px,#4538d8 46.5px,#4435d1 47.5px,#4756f7 48.5px,#4368fe 49.5px,#3678fe 51.5px,#317efb 58.5px,#3677fe 65.5px,#406cfe 67.5px,#3677fe 69.5px,#317dfc 74.5px,#2e85f8 75.5px,#249ee6 76.5px,#13b0d7 77.5px,#02bac3 78.5px,#25c2ad 79.5px,#39c895 80.5px,#58cc79 81.5px,#a8c73b 83.5px,#c4c22b 84.5px,#dbbd29 85.5px,#efba35 86.5px,#fdbd3d 87.5px,#f7db2a 90.5px,#f9fb15 94.5px,#f9fb15 96.0px)"></div>
<div style="position:absolute;left:223px;top:138px;width:96px;height:1px;background:linear-gradient(90deg,#f9fb15 0.0px,#f8f817 4.5px,#f6e028 7.5px,#fec239 10.5px,#f1ba37 11.5px,#cdc028 12.5px,#9fc941 13.5px,#6ccd68 14.5px,#3dca90 15.5px,#1bc0b4 16.5px,#0cb3d3 17.5px,#23a0e5 18.5px,#337afd 20.5px,#307ffb 36.5px,#3677fe 42.5px,#426afe 44.5px,#475af9 45.5px,#463bde 46.5px,#4435d1 47.5px,#4757f7 48.5px,#4269fe 49.5px,#3579fd 51.5px,#307ffb 58.5px,#3578fd 65.5px,#406dfe 67.5px,#3578fd 69.5px,#307ffb 75.5px,#2a93ed 76.5px,#1da8e0 77.5px,#04b6cd 78.5px,#15bfb7 79.5px,#48cb86 81.5px,#96ca48 83.5px,#b8c431 84.5px,#d1bf27 85.5px,#e7bb2e 86.5px,#f8ba3d 87.5px,#fec239 88.5px,#f5eb23 92.5px,#f9fa16 94.5px,#f9fb15 96.0px)"></div>
<div style="position:absolute;left:223px;top:139px;width:96px;height:1px;background:linear-gradient(90deg,#f9fb15 0.0px,#f9fb15 4.5px,#f5e427 7.5px,#fec636 10.5px,#fbbc3d 11.5px,#dcbd29 12.5px,#b1c635 13.5px,#7fcc5a 14.5px,#4ecc81 15.5px,#2ac3a9 16.5px,#01b8c9 17.5px,#1ea7e1 18.5px,#2a92ee 19.5px,#317efb 20.5px,#317efb 39.5px,#3974fe 43.5px,#416cfe 44.5px,#475cfa 45.5px,#473fe2 46.5px,#4435d0 47.5px,#4757f7 48.5px,#426afe 49.5px,#347afd 51.5px,#2f81fa 58.5px,#3579fd 65.5px,#3f6dfe 67.5px,#3579fd 69.5px,#2f80fa 75.5px,#2e86f7 76.5px,#239fe5 77.5px,#11b1d6 78.5px,#04bbc2 79.5px,#28c2ab 80.5px,#3bc992 81.5px,#5ccc76 82.5px,#acc738 84.5px,#c7c12a 85.5px,#debd29 86.5px,#f1ba37 87.5px,#febe3c 88.5px,#f6ef20 93.5px,#f9fb15 96.0px)"></div>
<div style="position:absolute;left:223px;top:140px;width:96px;height:1px;background:linear-gradient(90deg,#f9fb15 0.0px,#f9fb15 4.5px,#f5e725 7.5px,#fec03b 11.5px,#e9bb2f 12.5px,#c2c22c 13.5px,#91ca4c 14.5px,#5ecd74 15.5px,#34c79c 16.5px,#09bcbe 17.5px,#17aeda 18.5px,#2699e9 19.5px,#2e85f8 20.5px,#317efb 21.5px,#2f81fa 35.5px,#337afd 42.5px,#3f6dfe 44.5px,#465efb 45.5px,#4741e5 46.5px,#4434cf 47.5px,#4758f8 48.5px,#416bfe 49.5px,#327bfc 51.5px,#2f82f9 58.5px,#3479fd 65.5px,#416cfe 67.5px,#3876fe 68.5px,#3080fa 73.5px,#2f82f9 76.5px,#2995ec 77.5px,#1caadf 78.5px,#02b7cb 79.5px,#4bcb84 82.5px,#9bc945 84.5px,#bbc42f 85.5px,#d4bf28 86.5px,#fabb3d 88.5px,#fdcd31 90.5px,#f5ec22 93.5px,#f9fb15 96.0px)"></div>
<div style="position:absolute;left:223px;top:141px;width:96px;height:1px;background:linear-gradient(90deg,#f9fb15 0.0px,#f9fa16 5.5px,#f5e228 8.5px,#fec438 11.5px,#f4ba3a 12.5px,#d1bf27 13.5px,#a3c83e 14.5px,#70cd65 15.5px,#40ca8d 16.5px,#1dc0b3 17.5px,#0ab4d1 18.5px,#23a1e5 19.5px,#2d8cf3 20.5px,#307ffb 21.5px,#2e85f8 33.5px,#327cfc 42.5px,#3e6fff 44.5px,#4661fc 45.5px,#4744e8 46.5px,#4433cd 47.5px,#4758f8 48.5px,#406cfe 49.5px,#327cfc 51.5px,#2e85f8 57.5px,#3579fd 65.5px,#4368fd 67.5px,#3974fe 68.5px,#3080fa 72.5px,#2d88f6 77.5px,#23a1e4 78.5px,#0fb2d4 79.5px,#07bcc0 80.5px,#2ac3a9 81.5px,#3dc990 82.5px,#5fcd73 83.5px,#afc636 85.5px,#c9c129 86.5px,#e0bc2b 87.5px,#f3ba39 88.5px,#febf3b 89.5px,#f5e924 93.5px,#f8f818 96.0px)"></div>
<div style="position:absolute;left:223px;top:142px;width:96px;height:1px;background:linear-gradient(90deg,#f9fb15 0.0px,#f9fb15 5.5px,#f7dc2a 9.5px,#fdbd3d 12.5px,#dfbc2a 13.5px,#b5c533 14.5px,#83cc57 15.5px,#51cc7f 16.5px,#2cc4a7 17.5px,#01b9c7 18.5px,#1da8e0 19.5px,#2a93ee 20.5px,#2f80fa 21.5px,#2d88f6 32.5px,#317dfc 42.5px,#3c71ff 44.5px,#4563fc 45.5px,#4747eb 46.5px,#4433cc 47.5px,#4759f8 48.5px,#406dfe 49.5px,#317efb 51.5px,#2d88f6 56.5px,#307ffb 63.5px,#3579fd 65.5px,#3c71ff 66.5px,#4563fd 67.5px,#3b73fe 68.5px,#307ffb 71.5px,#2d88f6 77.5px,#2796eb 78.5px,#1babde 79.5px,#01b8ca 80.5px,#4fcc81 83.5px,#9fc941 85.5px,#bec32e 86.5px,#d7be28 87.5px,#fcbc3d 89.5px,#fccf30 91.5px,#f5ed21 94.5px,#f7f51b 96.0px)"></div>
<div style="position:absolute;left:223px;top:143px;width:96px;height:1px;background:linear-gradient(90deg,#f9fa16 0.0px,#f8f818 6.5px,#f6df29 9.5px,#fec13a 12.5px,#ecba32 13.5px,#c6c22a 14.5px,#95ca49 15.5px,#62cd71 16.5px,#0bbdbc 18.5px,#16afd9 19.5px,#269ae9 20.5px,#2e86f8 21.5px,#2d89f5 35.5px,#307ffb 42.5px,#3a73fe 44.5px,#4465fd 45.5px,#484aee 46.5px,#4332ca 47.5px,#4759f8 48.5px,#3f6eff 49.5px,#347afd 50.5px,#2d88f6 53.5px,#2d88f6 60.5px,#3579fd 65.5px,#3e70ff 66.5px,#465ffb 67.5px,#3c71ff 68.5px,#317dfb 70.5px,#2d8bf4 77.5px,#2d8bf4 78.5px,#22a2e4 79.5px,#0cb3d3 80.5px,#09bcbe 81.5px,#2cc4a7 82.5px,#40ca8d 83.5px,#63cd70 84.5px,#b2c534 86.5px,#ccc028 87.5px,#e3bc2c 88.5px,#f6ba3b 89.5px,#fec13a 90.5px,#f5ea23 94.5px,#f6f21e 96.0px)"></div>
<div style="position:absolute;left:223px;top:144px;width:96px;height:1px;background:linear-gradient(90deg,#f8f61a 0.0px,#f9fb15 2.5px,#f9fb15 6.5px,#f5e327 9.5px,#fec537 12.5px,#f8ba3d 13.5px,#d5be28 14.5px,#a8c73b 15.5px,#74cd62 16.5px,#43ca8a 17.5px,#20c1b1 18.5px,#08b5d0 19.5px,#22a1e4 20.5px,#2d8cf3 21.5px,#2e86f7 22.5px,#2d8df2 32.5px,#2e85f8 41.5px,#317dfc 43.5px,#3875fe 44.5px,#4367fd 45.5px,#484df0 46.5px,#4331c8 47.5px,#475af9 48.5px,#3e6fff 49.5px,#317dfc 50.5px,#2d8af4 53.5px,#2d8bf4 60.5px,#317efb 64.5px,#3f6eff 66.5px,#475cfa 67.5px,#3d70ff 68.5px,#317efb 70.5px,#2d8df2 76.5px,#2c8ef2 78.5px,#2798ea 79.5px,#1aacdd 80.5px,#01b8c8 81.5px,#1fc0b2 82.5px,#52cc7e 84.5px,#a4c83e 86.5px,#c1c32c 87.5px,#dabd28 88.5px,#eeba34 89.5px,#fdbd3d 90.5px,#fcd130 92.5px,#f5ef20 96.0px)"></div>
<div style="position:absolute;left:223px;top:145px;width:96px;height:1px;background:linear-gradient(90deg,#f7f31d 0.0px,#f9fb15 1.5px,#f9fb15 6.5px,#f7dd2a 10.5px,#febe3c 13.5px,#e3bc2c 14.5px,#b9c430 15.5px,#87cb54 16.5px,#54cc7c 17.5px,#2ec4a5 18.5px,#01b9c6 19.5px,#1da9e0 20.5px,#2a93ed 21.5px,#2d89f5 22.5px,#2c90f0 32.5px,#2d88f6 41.5px,#2f80fa 43.5px,#3678fd 44.5px,#426afe 45.5px,#4850f3 46.5px,#4331c6 47.5px,#475af9 48.5px,#3b72ff 49.5px,#3080fb 50.5px,#2d8df2 53.5px,#2c8ef2 60.5px,#307ffb 64.5px,#3579fd 65.5px,#406dfe 66.5px,#4759f8 67.5px,#3e6fff 68.5px,#347afd 69.5px,#2d8df2 74.5px,#2c90f0 79.5px,#21a3e3 80.5px,#0ab4d2 81.5px,#0cbdbc 82.5px,#2ec4a5 83.5px,#43ca8b 84.5px,#92ca4c 86.5px,#b6c533 87.5px,#cfc028 88.5px,#e6bb2d 89.5px,#f8ba3d 90.5px,#fec239 91.5px,#f5eb23 96.0px)"></div>
<div style="position:absolute;left:223px;top:146px;width:96px;height:1px;background:linear-gradient(90deg,#f6ef20 0.0px,#f9fb15 2.5px,#f9fa15 7.5px,#f5e228 10.5px,#fec338 13.5px,#f3ba38 14.5px,#cec028 15.5px,#9fc941 16.5px,#6bcd69 17.5px,#3bc992 18.5px,#16bfb7 19.5px,#11b1d6 20.5px,#259de7 21.5px,#2d8cf3 22.5px,#2a92ee 33.5px,#2d88f6 42.5px,#327cfc 44.5px,#406dfe 45.5px,#4853f5 46.5px,#4230c4 47.5px,#475bfa 48.5px,#3875fe 49.5px,#2e83f9 50.5px,#2c90f0 53.5px,#2c90f0 60.5px,#2f81fa 64.5px,#3579fd 65.5px,#416bfe 66.5px,#4756f7 67.5px,#3f6eff 68.5px,#347afd 69.5px,#2d8df2 73.5px,#2797eb 80.5px,#1aabdd 81.5px,#01b8c9 82.5px,#52cc7e 85.5px,#a4c83e 87.5px,#c1c32c 88.5px,#dabd28 89.5px,#eeba34 90.5px,#fdbd3d 91.5px,#fcd12f 93.5px,#f5e725 96.0px)"></div>
<div style="position:absolute;left:223px;top:147px;width:96px;height:1px;background:linear-gradient(90deg,#f5ea24 0.0px,#f9fa16 2.5px,#f9fb15 7.5px,#f5e825 10.5px,#febf3b 14.5px,#e5bb2d 15.5px,#bcc42f 16.5px,#8acb52 17.5px,#57cc7a 18.5px,#2fc5a3 19.5px,#02bac5 20.5px,#1ca9df 21.5px,#2994ed 22.5px,#2a93ee 25.5px,#2b92ee 38.5px,#2e87f7 43.5px,#2f80fa 44.5px,#3c72ff 45.5px,#4757f7 46.5px,#422fc2 47.5px,#465efb 48.5px,#3578fd 49.5px,#2e86f8 50.5px,#2a92ee 53.5px,#2a93ee 60.5px,#2e83f9 64.5px,#3579fd 65.5px,#426afe 66.5px,#4853f5 67.5px,#406dfe 68.5px,#347afd 69.5px,#2d8df2 72.5px,#2895ec 78.5px,#2994ed 80.5px,#249ee6 81.5px,#13b0d7 82.5px,#03bbc2 83.5px,#28c2ab 84.5px,#3cc992 85.5px,#5dcc74 86.5px,#afc637 88.5px,#cac129 89.5px,#e1bc2b 90.5px,#f4ba3a 91.5px,#fec03b 92.5px,#f6e028 96.0px)"></div>
<div style="position:absolute;left:223px;top:148px;width:96px;height:1px;background:linear-gradient(90deg,#f5e426 0.0px,#f9fb15 3.5px,#f9fb15 8.5px,#f5e427 11.5px,#fec537 14.5px,#f8ba3d 15.5px,#d6be28 16.5px,#a8c73b 17.5px,#73cd63 18.5px,#42ca8b 19.5px,#1ec0b2 20.5px,#0ab4d2 21.5px,#23a0e5 22.5px,#2a93ee 23.5px,#2797eb 35.5px,#2c8ef1 42.5px,#2e84f8 44.5px,#3777fe 45.5px,#475cfa 46.5px,#422ebf 47.5px,#4660fc 48.5px,#327cfc 49.5px,#2d88f6 50.5px,#2895ec 53.5px,#2895ec 60.5px,#2e86f7 64.5px,#337bfd 65.5px,#426afe 66.5px,#4852f4 67.5px,#3f6efe 68.5px,#327cfc 69.5px,#2d8cf3 71.5px,#2798ea 77.5px,#2896eb 81.5px,#21a4e3 82.5px,#09b4d1 83.5px,#0dbdbb 84.5px,#2fc5a3 85.5px,#45cb89 86.5px,#95ca49 88.5px,#b8c431 89.5px,#d2bf27 90.5px,#e8bb2f 91.5px,#fabb3d 92.5px,#fec338 93.5px,#f8d92c 96.0px)"></div>
<div style="position:absolute;left:223px;top:149px;width:96px;height:1px;background:linear-gradient(90deg,#f7dd2a 0.0px,#f8f818 3.5px,#f9fb15 7.5px,#f8f917 9.5px,#f6e028 12.5px,#fec13a 15.5px,#ecba32 16.5px,#c4c22b 17.5px,#92ca4b 18.5px,#5ecd74 19.5px,#33c69d 20.5px,#06bcc0 21.5px,#1aacdd 22.5px,#2896eb 23.5px,#2699ea 36.5px,#2c8ef1 43.5px,#2d88f6 44.5px,#327bfc 45.5px,#4561fc 46.5px,#422fc2 47.5px,#4563fc 48.5px,#307ffb 49.5px,#2d8bf3 50.5px,#2797ea 53.5px,#2798ea 60.5px,#2d89f5 64.5px,#307efb 65.5px,#416cfe 66.5px,#4854f5 67.5px,#3e6fff 68.5px,#3080fb 69.5px,#2c8ff1 71.5px,#269ae9 77.5px,#2797eb 82.5px,#1ca9df 83.5px,#02b7cb 84.5px,#50cc80 87.5px,#a2c83f 89.5px,#c1c32c 90.5px,#dabd28 91.5px,#eeba34 92.5px,#fdbd3d 93.5px,#fbd12f 96.0px)"></div>
<div style="position:absolute;left:223px;top:150px;width:96px;height:1px;background:linear-gradient(90deg,#fad52d 0.0px,#f5eb23 2.5px,#f9fa15 4.5px,#f9fb15 9.5px,#f7dc2a 13.5px,#fec735 15.5px,#fcbd3d 16.5px,#ddbd29 17.5px,#b0c636 18.5px,#7ccc5c 19.5px,#4acb84 20.5px,#26c2ad 21.5px,#05b6ce 22.5px,#21a3e3 23.5px,#2699e9 24.5px,#259ce7 35.5px,#2b91ef 43.5px,#3080fa 45.5px,#4466fd 46.5px,#4434cf 47.5px,#4465fd 48.5px,#2f81fa 49.5px,#2c8ef1 50.5px,#269ae9 53.5px,#259ce7 59.5px,#2b92ee 63.5px,#2f82fa 65.5px,#406dfe 66.5px,#4756f7 67.5px,#3c72ff 68.5px,#2e83f9 69.5px,#2895ec 72.5px,#249de7 79.5px,#259be7 83.5px,#16afd9 84.5px,#02bac4 85.5px,#26c2ad 86.5px,#3ac994 87.5px,#5bcc76 88.5px,#aec637 90.5px,#c9c129 91.5px,#e1bc2b 92.5px,#f4ba3a 93.5px,#fec03a 94.5px,#feca33 96.0px)"></div>
<div style="position:absolute;left:223px;top:151px;width:96px;height:1px;background:linear-gradient(90deg,#fdce31 0.0px,#f5ed21 3.5px,#f9fb15 5.5px,#f9fb15 10.5px,#f5e227 13.5px,#fec338 16.5px,#f2ba37 17.5px,#ccc028 18.5px,#9bc944 19.5px,#66cd6d 20.5px,#0dbdbb 22.5px,#16afd9 23.5px,#259ce7 24.5px,#23a1e5 34.5px,#2994ed 43.5px,#2e84f8 45.5px,#416cfe 46.5px,#463adb 47.5px,#4367fd 48.5px,#2e84f8 49.5px,#2b91ef 50.5px,#239fe5 54.5px,#249ee6 60.5px,#2c8ff1 64.5px,#2e85f8 65.5px,#3d70ff 66.5px,#4759f8 67.5px,#3777fe 68.5px,#2e87f7 69.5px,#2798ea 72.5px,#22a1e4 78.5px,#269ae8 83.5px,#22a2e4 84.5px,#0cb3d3 85.5px,#0abdbd 86.5px,#2dc4a5 87.5px,#43ca8b 88.5px,#68cd6c 89.5px,#93ca4a 90.5px,#b7c531 91.5px,#d2bf27 92.5px,#e8bb2f 93.5px,#fabb3d 94.5px,#fec338 96.0px)"></div>
<div style="position:absolute;left:223px;top:152px;width:96px;height:1px;background:linear-gradient(90deg,#fec735 0.0px,#f5e825 3.5px,#f8f818 5.5px,#f9fb15 10.5px,#f6f01f 12.5px,#fad42e 15.5px,#febf3c 17.5px,#e4bb2c 18.5px,#b9c431 19.5px,#85cb55 20.5px,#52cc7e 21.5px,#2bc3a8 22.5px,#01b8c9 23.5px,#1fa6e2 24.5px,#21a3e3 26.5px,#21a2e4 37.5px,#2797eb 43.5px,#2d88f6 45.5px,#3c71ff 46.5px,#4740e4 47.5px,#426afe 48.5px,#2e87f7 49.5px,#259be8 51.5px,#1fa5e2 56.5px,#239fe5 61.5px,#2b92ee 64.5px,#2d88f6 65.5px,#3a74fe 66.5px,#475cfa 67.5px,#327cfc 68.5px,#2d8bf4 69.5px,#259be8 72.5px,#1fa5e2 77.5px,#249ee6 83.5px,#259be8 84.5px,#1ea8e1 85.5px,#04b6cd 86.5px,#18bfb6 87.5px,#4dcc82 89.5px,#a1c840 91.5px,#c0c32d 92.5px,#d9bd28 93.5px,#eeba34 94.5px,#fdbd3d 96.0px)"></div>
<div style="position:absolute;left:223px;top:153px;width:96px;height:1px;background:linear-gradient(90deg,#fec03a 0.0px,#f5eb23 4.5px,#f9fb15 6.5px,#f9fb15 11.5px,#f5e426 14.5px,#fec537 17.5px,#f8ba3d 18.5px,#d3bf27 19.5px,#a4c83e 20.5px,#6ecd66 21.5px,#3dc990 22.5px,#17bfb6 23.5px,#11b1d6 24.5px,#1fa6e1 25.5px,#1ea7e1 36.5px,#259be8 43.5px,#2d8cf3 45.5px,#3777fe 46.5px,#4747eb 47.5px,#406cfe 48.5px,#2d8af5 49.5px,#2798ea 50.5px,#1fa6e2 53.5px,#1da8e0 59.5px,#269ae8 63.5px,#2d8bf4 65.5px,#3677fe 66.5px,#465ffb 67.5px,#2f80fa 68.5px,#2c8ef1 69.5px,#21a3e3 73.5px,#1ca9df 79.5px,#249fe5 84.5px,#259be8 85.5px,#18addb 86.5px,#01b9c6 87.5px,#23c1af 88.5px,#39c895 89.5px,#59cc78 90.5px,#adc638 92.5px,#c9c129 93.5px,#e1bc2b 94.5px,#f5ba3a 96.0px)"></div>
<div style="position:absolute;left:223px;top:154px;width:96px;height:1px;background:linear-gradient(90deg,#fabb3d 0.0px,#fec438 1.5px,#f5ee21 5.5px,#f9fb15 7.5px,#f9fa16 12.5px,#f6e028 15.5px,#fec13a 18.5px,#eaba31 19.5px,#c1c32c 20.5px,#8ecb4e 21.5px,#59cc78 22.5px,#30c5a2 23.5px,#02bac5 24.5px,#1baade 25.5px,#1babde 37.5px,#23a0e5 43.5px,#2b90f0 45.5px,#327cfc 46.5px,#484df0 47.5px,#3f6eff 48.5px,#2c8ef1 49.5px,#259ce7 50.5px,#1caadf 53.5px,#1baade 60.5px,#249fe5 63.5px,#2c8ef1 65.5px,#337bfc 66.5px,#4465fd 67.5px,#2e84f8 68.5px,#2b92ee 69.5px,#1ea7e1 73.5px,#19addc 79.5px,#21a3e3 84.5px,#239fe5 86.5px,#0fb2d5 87.5px,#07bcbf 88.5px,#2cc4a7 89.5px,#41ca8d 90.5px,#66cd6d 91.5px,#92ca4c 92.5px,#b7c532 93.5px,#d1bf27 94.5px,#e8bb2f 96.0px)"></div>
<div style="position:absolute;left:223px;top:155px;width:96px;height:1px;background:linear-gradient(90deg,#eeba34 0.0px,#fdbd3d 1.5px,#f6f11f 6.5px,#f9fb15 8.5px,#f9fb15 12.5px,#f5e725 15.5px,#fec735 18.5px,#fcbc3d 19.5px,#dbbd29 20.5px,#adc638 21.5px,#77cc60 22.5px,#44cb89 23.5px,#1fc1b1 24.5px,#0bb4d2 25.5px,#16afd9 26.5px,#16afd9 36.5px,#20a5e3 43.5px,#2796eb 45.5px,#2f82fa 46.5px,#4853f5 47.5px,#3c72ff 48.5px,#2a93ee 49.5px,#23a1e4 50.5px,#18aedb 53.5px,#13b0d7 58.5px,#1da9e0 62.5px,#259ce7 64.5px,#2b91ef 65.5px,#317efb 66.5px,#416bfe 67.5px,#2d89f6 68.5px,#249ee6 70.5px,#18addb 74.5px,#13b0d7 79.5px,#20a4e3 85.5px,#249fe6 86.5px,#1fa6e2 87.5px,#06b5cf 88.5px,#14beb8 89.5px,#4bcb83 91.5px,#a0c941 93.5px,#c0c32d 94.5px,#d9be28 96.0px)"></div>
<div style="position:absolute;left:223px;top:156px;width:96px;height:1px;background:linear-gradient(90deg,#e1bc2b 0.0px,#f5ba3a 1.5px,#fec03a 2.5px,#f5ec23 6.5px,#f9fb15 8.5px,#f9fb15 13.5px,#f5e327 16.5px,#fec338 19.5px,#f0ba36 20.5px,#c9c129 21.5px,#97ca47 22.5px,#61cd71 23.5px,#34c79c 24.5px,#06bcc0 25.5px,#0fb2d5 26.5px,#0cb3d3 34.5px,#1ca9df 43.5px,#259ce7 45.5px,#2d89f5 46.5px,#475af9 47.5px,#3776fe 48.5px,#2797eb 49.5px,#20a5e2 50.5px,#12b1d6 53.5px,#0bb3d2 58.5px,#1da8e0 63.5px,#2995ec 65.5px,#2f81fa 66.5px,#3d71ff 67.5px,#2d8df2 68.5px,#21a3e3 70.5px,#12b1d7 74.5px,#0bb4d2 78.5px,#1aacdd 84.5px,#249de6 87.5px,#1aabdd 88.5px,#01b8c8 89.5px,#21c1b1 90.5px,#37c897 91.5px,#57cc7a 92.5px,#adc638 94.5px,#c8c129 96.0px)"></div>
<div style="position:absolute;left:223px;top:157px;width:96px;height:1px;background:linear-gradient(90deg,#d1bf27 0.0px,#e8bb2e 1.5px,#fabb3d 2.5px,#fccf31 4.5px,#f5ee21 7.5px,#f9fb15 9.5px,#f8f917 14.5px,#f6df29 17.5px,#febf3c 20.5px,#e2bc2b 21.5px,#b6c533 22.5px,#80cc59 23.5px,#4dcb82 24.5px,#27c2ac 25.5px,#05b6ce 26.5px,#09b4d1 38.5px,#1ca9df 44.5px,#23a1e4 45.5px,#2c8ff0 46.5px,#4563fc 47.5px,#337bfc 48.5px,#259be8 49.5px,#1da9e0 50.5px,#09b4d1 53.5px,#04b6cd 58.5px,#0db3d3 61.5px,#1fa5e2 64.5px,#269ae9 65.5px,#2e84f8 66.5px,#3776fe 67.5px,#2b91ef 68.5px,#23a0e5 69.5px,#13b0d7 72.5px,#05b6ce 76.5px,#07b5d0 81.5px,#1da8e0 86.5px,#249de6 88.5px,#13b1d7 89.5px,#05bbc1 90.5px,#2ac3a9 91.5px,#3fca8e 92.5px,#64cd6f 93.5px,#90ca4d 94.5px,#b6c532 96.0px)"></div>
<div style="position:absolute;left:223px;top:158px;width:96px;height:1px;background:linear-gradient(90deg,#bfc32d 0.0px,#d9be28 1.5px,#eeba34 2.5px,#febd3c 3.5px,#f6f11e 8.5px,#f9f916 9.5px,#f9fb15 14.5px,#f5e526 17.5px,#fec537 20.5px,#f6ba3c 21.5px,#d1bf27 22.5px,#a0c841 23.5px,#69cd6a 24.5px,#39c895 25.5px,#0ebdbb 26.5px,#01b8c8 27.5px,#01b8ca 37.5px,#0cb3d3 42.5px,#18addb 44.5px,#1fa6e2 45.5px,#2896ec 46.5px,#406cfe 47.5px,#307ffb 48.5px,#239fe5 49.5px,#19addc 50.5px,#06b5cf 52.5px,#01b9c7 56.5px,#05b6ce 61.5px,#1caadf 64.5px,#249fe6 65.5px,#2d88f6 66.5px,#327cfc 67.5px,#2798ea 68.5px,#20a5e2 69.5px,#0bb4d2 72.5px,#01b8c9 75.5px,#01b8c8 80.5px,#07b5cf 83.5px,#1ea7e1 87.5px,#249fe5 88.5px,#21a3e3 89.5px,#08b4d1 90.5px,#10beba 91.5px,#30c5a1 92.5px,#49cb85 93.5px,#9ec942 96.0px)"></div>
<div style="position:absolute;left:223px;top:159px;width:96px;height:1px;background:linear-gradient(90deg,#acc739 0.0px,#c8c129 1.5px,#e0bc2b 2.5px,#f5ba3a 3.5px,#fec13a 4.5px,#f5ec22 8.5px,#f9fb15 10.5px,#f9fa15 15.5px,#f6e128 18.5px,#fec13a 21.5px,#e9bb2f 22.5px,#bec32e 23.5px,#8acb52 24.5px,#54cc7c 25.5px,#2cc4a7 26.5px,#06bcc0 27.5px,#06bcc0 35.5px,#01b8ca 41.5px,#08b5d0 43.5px,#1babde 45.5px,#259ce7 46.5px,#3875fe 47.5px,#2e83f9 48.5px,#21a3e3 49.5px,#13b0d7 50.5px,#06b5ce 51.5px,#02bac4 53.5px,#08bcbf 58.5px,#01b9c7 61.5px,#0bb3d2 63.5px,#21a4e3 65.5px,#2c8ef2 66.5px,#2f82f9 67.5px,#249ee6 68.5px,#1caadf 69.5px,#03b7cc 72.5px,#04bbc2 75.5px,#08bcbf 79.5px,#01b8c9 83.5px,#09b4d1 85.5px,#20a5e2 88.5px,#2995ec 89.5px,#1ca9df 90.5px,#01b8ca 91.5px,#36c899 93.5px,#55cc7b 94.5px,#80cc59 96.0px)"></div>
<div style="position:absolute;left:223px;top:160px;width:96px;height:1px;background:linear-gradient(90deg,#8ecb4e 0.0px,#b5c533 1.5px,#d0bf27 2.5px,#e8bb2e 3.5px,#fabb3d 4.5px,#fccf30 6.5px,#f6ef20 9.5px,#f9fb15 11.5px,#f9fb15 15.5px,#f6ef20 17.5px,#fbd22f 20.5px,#fbbc3d 22.5px,#d9be28 23.5px,#a9c73a 24.5px,#72cd63 25.5px,#3fca8e 26.5px,#18bfb6 27.5px,#0fbebb 37.5px,#01b8c9 43.5px,#07b5cf 44.5px,#15afd9 45.5px,#22a2e4 46.5px,#307efb 47.5px,#2e87f7 48.5px,#1ea7e1 49.5px,#0ab4d2 50.5px,#01b9c7 51.5px,#11beba 54.5px,#16bfb7 58.5px,#02bac5 62.5px,#03b7cc 63.5px,#1da8e0 65.5px,#2a93ed 66.5px,#2d8af4 67.5px,#21a3e3 68.5px,#09b4d1 70.5px,#01b8ca 71.5px,#07bcc0 73.5px,#16bfb7 77.5px,#0fbeba 81.5px,#01b9c6 84.5px,#08b4d0 86.5px,#1baadf 88.5px,#2699ea 89.5px,#259be8 90.5px,#15afd9 91.5px,#02bbc3 92.5px,#28c3ab 93.5px,#3dc990 94.5px,#62cd71 96.0px)"></div>
<div style="position:absolute;left:223px;top:161px;width:96px;height:1px;background:linear-gradient(90deg,#6fcd66 0.0px,#9dc943 1.5px,#bec32e 2.5px,#d8be28 3.5px,#eeba35 4.5px,#febd3c 5.5px,#f5ea24 9.5px,#f9fa15 11.5px,#f9fb15 16.5px,#f5e327 19.5px,#fec339 22.5px,#efba35 23.5px,#c7c12a 24.5px,#93ca4b 25.5px,#5ccc76 26.5px,#30c5a1 27.5px,#22c1af 28.5px,#20c1b1 36.5px,#11beb9 41.5px,#01b9c7 44.5px,#0ab4d1 45.5px,#1ea7e1 46.5px,#2e87f7 47.5px,#2d8bf4 48.5px,#1aacdd 49.5px,#01b7ca 50.5px,#13beb8 52.5px,#22c1b0 55.5px,#21c1b0 59.5px,#16bfb7 61.5px,#02bac4 63.5px,#06b5cf 64.5px,#19addc 65.5px,#2698ea 66.5px,#2b92ee 67.5px,#1ca9df 68.5px,#01b8c9 70.5px,#0dbdbc 72.5px,#1fc1b1 75.5px,#23c1af 79.5px,#19bfb5 82.5px,#02bbc3 85.5px,#01b8ca 86.5px,#16afd9 88.5px,#249de6 89.5px,#22a1e4 91.5px,#0cb3d3 92.5px,#0cbdbc 93.5px,#2fc5a3 94.5px,#47cb87 96.0px)"></div>
<div style="position:absolute;left:223px;top:162px;width:96px;height:1px;background:linear-gradient(90deg,#53cc7d 0.0px,#abc739 2.5px,#c7c129 3.5px,#e0bc2a 4.5px,#f5ba3a 5.5px,#fec13a 6.5px,#f5ed22 10.5px,#f9fb15 12.5px,#f9f916 17.5px,#f6df29 20.5px,#febe3c 23.5px,#e0bc2a 24.5px,#b2c535 25.5px,#7bcc5d 26.5px,#47cb87 27.5px,#2cc4a7 28.5px,#28c2ab 38.5px,#1cc0b4 42.5px,#09bcbe 44.5px,#01b8c9 45.5px,#18aedb 46.5px,#2c8ff1 47.5px,#2c8ff0 48.5px,#13b0d7 49.5px,#03bbc3 50.5px,#16bfb7 51.5px,#27c2ac 53.5px,#2cc4a7 58.5px,#24c1af 61.5px,#0dbdbb 63.5px,#01b9c6 64.5px,#12b1d7 65.5px,#249ee6 66.5px,#2699e9 67.5px,#17aeda 68.5px,#02b7cb 69.5px,#06bcc0 70.5px,#1dc0b3 72.5px,#2ac3a9 75.5px,#2bc3a8 80.5px,#21c1b0 83.5px,#05bbc1 86.5px,#01b8ca 87.5px,#0cb3d2 88.5px,#20a4e3 89.5px,#1ea7e1 92.5px,#03b7cc 93.5px,#35c79a 96.0px)"></div>
<div style="position:absolute;left:223px;top:163px;width:96px;height:1px;background:linear-gradient(90deg,#3cc992 0.0px,#60cd72 1.5px,#8dcb50 2.5px,#b4c533 3.5px,#d0bf27 4.5px,#e8bb2e 5.5px,#fabb3d 6.5px,#fccf30 8.5px,#f5e725 10.5px,#f8f818 12.5px,#f9fb15 17.5px,#f5e526 20.5px,#fec537 23.5px,#f5ba3a 24.5px,#cfc028 25.5px,#9cc944 26.5px,#64cd6f 27.5px,#35c79a 28.5px,#2bc3a8 41.5px,#24c1af 43.5px,#1ac0b5 44.5px,#07bcbf 45.5px,#0bb3d2 46.5px,#2798ea 47.5px,#2995ec 48.5px,#09b4d1 49.5px,#0fbeba 50.5px,#24c1ae 51.5px,#2fc5a3 53.5px,#33c69e 58.5px,#28c2ab 62.5px,#1ec0b2 63.5px,#0abdbe 64.5px,#06b5cf 65.5px,#21a3e4 66.5px,#23a0e5 67.5px,#0bb3d2 68.5px,#04bbc2 69.5px,#23c1af 71.5px,#2fc5a2 74.5px,#33c69e 79.5px,#27c2ab 84.5px,#15bfb7 86.5px,#06bcc0 87.5px,#02b7cb 88.5px,#1baade 89.5px,#18addb 93.5px,#01bac5 94.5px,#26c2ad 96.0px)"></div>
<div style="position:absolute;left:223px;top:164px;width:96px;height:1px;background:linear-gradient(90deg,#2ec4a5 0.0px,#45cb89 1.5px,#9bc944 3.5px,#bec32e 4.5px,#d8be28 5.5px,#eeba35 6.5px,#febe3c 7.5px,#f5ea23 11.5px,#f9fb15 13.5px,#f9fb15 18.5px,#f5e128 21.5px,#fec03a 24.5px,#e7bb2e 25.5px,#bbc42f 26.5px,#85cb55 27.5px,#4fcc80 28.5px,#3ac994 29.5px,#35c79a 39.5px,#2dc4a5 43.5px,#28c2ab 44.5px,#19bfb5 45.5px,#01b8c9 46.5px,#23a0e5 47.5px,#269ae9 48.5px,#01b8ca 49.5px,#1ec0b2 50.5px,#2dc4a5 51.5px,#38c897 54.5px,#39c895 59.5px,#30c5a2 62.5px,#2ac3a9 63.5px,#1bc0b4 64.5px,#01b9c6 65.5px,#1da8e0 66.5px,#1ea7e1 67.5px,#01b8c8 68.5px,#14bfb8 69.5px,#25c2ad 70.5px,#34c79c 73.5px,#3ac993 78.5px,#33c69e 83.5px,#25c2ae 86.5px,#18bfb6 87.5px,#05bbc1 88.5px,#13b0d8 89.5px,#13b0d8 93.5px,#0fb2d4 94.5px,#09bcbe 96.0px)"></div>
<div style="position:absolute;left:223px;top:165px;width:96px;height:1px;background:linear-gradient(90deg,#17bfb6 0.0px,#51cc7f 2.5px,#a9c73a 4.5px,#c7c12a 5.5px,#e0bc2a 6.5px,#f5ba3a 7.5px,#fec13a 8.5px,#f5ed21 12.5px,#f9fb15 14.5px,#f8f818 19.5px,#f7dd2a 22.5px,#fec735 24.5px,#fabb3d 25.5px,#d6be28 26.5px,#a5c83d 27.5px,#6dcd67 28.5px,#44cb89 29.5px,#3cc991 40.5px,#30c5a1 44.5px,#27c2ab 45.5px,#08bcbf 46.5px,#1da8e0 47.5px,#249ee6 48.5px,#04bbc2 49.5px,#29c3a9 50.5px,#3ac994 52.5px,#44cb8a 56.5px,#3fca8e 60.5px,#31c69f 63.5px,#28c3ab 64.5px,#0bbdbc 65.5px,#17aedb 66.5px,#16afd9 67.5px,#09bcbe 68.5px,#25c2ad 69.5px,#34c79b 71.5px,#42ca8c 75.5px,#43ca8b 80.5px,#33c69d 85.5px,#27c2ac 87.5px,#17bfb6 88.5px,#07b5cf 89.5px,#05b6ce 96.0px)"></div>
<div style="position:absolute;left:223px;top:166px;width:96px;height:1px;background:linear-gradient(90deg,#01bac5 0.0px,#24c1af 1.5px,#3ac994 2.5px,#5ecc74 3.5px,#8bcb51 4.5px,#b4c534 5.5px,#d0c028 6.5px,#e8bb2e 7.5px,#fabb3d 8.5px,#fcd030 10.5px,#f5e825 12.5px,#f8f817 14.5px,#f9fb15 19.5px,#f5e327 22.5px,#fec239 25.5px,#eeba34 26.5px,#c4c22b 27.5px,#8ecb4e 28.5px,#57cc7a 29.5px,#50cc7f 30.5px,#47cb87 40.5px,#38c896 44.5px,#30c5a1 45.5px,#1bc0b4 46.5px,#14b0d8 47.5px,#21a3e3 48.5px,#10beba 49.5px,#31c6a0 50.5px,#3bc992 51.5px,#4ccb82 54.5px,#4ecc81 59.5px,#41ca8d 62.5px,#31c6a1 64.5px,#1dc0b3 65.5px,#0cb3d3 66.5px,#07b5cf 67.5px,#1dc0b3 68.5px,#2fc5a2 69.5px,#43ca8b 72.5px,#50cc7f 77.5px,#49cb85 82.5px,#36c898 86.5px,#27c2ab 88.5px,#01bac5 89.5px,#01bac5 96.0px)"></div>
<div style="position:absolute;left:223px;top:167px;width:96px;height:1px;background:linear-gradient(90deg,#13beb8 0.0px,#13beb8 1.5px,#2ec4a4 2.5px,#46cb88 3.5px,#9dc943 5.5px,#bfc32d 6.5px,#dabd28 7.5px,#f0ba36 8.5px,#febe3c 9.5px,#f5eb23 13.5px,#f9fb15 15.5px,#f9fa16 20.5px,#f6df29 23.5px,#fdbd3d 26.5px,#dcbd29 27.5px,#acc738 28.5px,#73cd63 29.5px,#5dcc75 30.5px,#55cc7c 40.5px,#4acb85 43.5px,#38c896 45.5px,#29c3aa 46.5px,#05b6ce 47.5px,#1ea8e1 48.5px,#1dc0b3 49.5px,#37c898 50.5px,#45cb88 51.5px,#56cc7b 53.5px,#5dcc75 58.5px,#54cc7d 61.5px,#44cb8a 63.5px,#38c895 64.5px,#2ac3a9 65.5px,#01b8ca 66.5px,#02bac4 67.5px,#2bc4a7 68.5px,#38c897 69.5px,#49cb85 71.5px,#5acc77 75.5px,#5bcc76 80.5px,#48cb86 85.5px,#31c69f 88.5px,#13beb8 89.5px,#13beb8 96.0px)"></div>
<div style="position:absolute;left:223px;top:168px;width:96px;height:1px;background:linear-gradient(90deg,#28c2ab 0.0px,#28c2ab 2.5px,#37c897 3.5px,#59cc79 4.5px,#b0c636 6.5px,#cdc028 7.5px,#e5bb2d 8.5px,#f9bb3d 9.5px,#fec338 10.5px,#f6ef20 14.5px,#f9fb15 16.5px,#f9fb15 20.5px,#f5e427 23.5px,#fec339 26.5px,#eeba35 27.5px,#c5c22a 28.5px,#8fcb4e 29.5px,#6bcd69 30.5px,#62cd70 40.5px,#58cc79 43.5px,#43ca8b 45.5px,#31c6a0 46.5px,#02bac4 47.5px,#1aabdd 48.5px,#27c2ac 49.5px,#3eca8f 50.5px,#52cc7e 51.5px,#63cd70 53.5px,#6bcd69 57.5px,#61cd71 61.5px,#51cc7e 63.5px,#43ca8b 64.5px,#32c69e 65.5px,#06bcc0 66.5px,#15bfb7 67.5px,#34c79b 68.5px,#43ca8b 69.5px,#58cc79 71.5px,#68cd6c 75.5px,#69cd6b 80.5px,#56cc7b 85.5px,#3cc992 88.5px,#28c2ab 89.5px,#28c2ab 96.0px)"></div>
<div style="position:absolute;left:223px;top:169px;width:96px;height:1px;background:linear-gradient(90deg,#33c79d 0.0px,#33c79d 3.5px,#44cb89 4.5px,#9bc944 6.5px,#bec32e 7.5px,#d9be28 8.5px,#efba35 9.5px,#febe3c 10.5px,#f5eb23 14.5px,#f9fb15 16.5px,#f9f916 21.5px,#f6de29 24.5px,#fec835 26.5px,#fdbd3d 27.5px,#dbbd28 28.5px,#aac73a 29.5px,#79cc5e 30.5px,#71cd64 40.5px,#67cd6d 43.5px,#5fcd73 44.5px,#51cc7f 45.5px,#39c994 46.5px,#11beba 47.5px,#16afd9 48.5px,#2ec4a4 49.5px,#4acb85 50.5px,#5fcd73 51.5px,#71cd64 53.5px,#79cc5e 57.5px,#70cd65 61.5px,#60cd72 63.5px,#51cc7f 64.5px,#3ac994 65.5px,#18bfb6 66.5px,#27c2ab 67.5px,#3eca8f 68.5px,#52cc7e 69.5px,#67cd6d 71.5px,#77cc60 75.5px,#77cc60 80.5px,#65cd6e 85.5px,#4acb84 88.5px,#33c79d 89.5px,#33c79d 96.0px)"></div>
<div style="position:absolute;left:223px;top:170px;width:96px;height:1px;background:linear-gradient(90deg,#41ca8c 0.0px,#41ca8c 4.5px,#57cc7a 5.5px,#afc637 7.5px,#ccc028 8.5px,#e4bb2c 9.5px,#f9ba3d 10.5px,#fec338 11.5px,#f6ef20 15.5px,#f9fb15 17.5px,#f9fb15 21.5px,#f5e427 24.5px,#fec239 27.5px,#edba34 28.5px,#c3c22b 29.5px,#8dcb4f 30.5px,#88cb53 32.5px,#7ecc5a 41.5px,#6fcd66 44.5px,#61cd72 45.5px,#46cb88 46.5px,#23c1af 47.5px,#10b2d5 48.5px,#33c79c 49.5px,#57cc7a 50.5px,#6ecd67 51.5px,#81cc59 53.5px,#87cb54 58.5px,#7fcc5a 61.5px,#6fcd66 63.5px,#60cd72 64.5px,#46cb88 65.5px,#26c2ad 66.5px,#31c6a0 67.5px,#4dcc82 68.5px,#62cd71 69.5px,#77cc60 71.5px,#86cb55 75.5px,#84cb56 81.5px,#75cc61 85.5px,#5bcc76 88.5px,#41ca8c 89.5px,#41ca8c 96.0px)"></div>
<div style="position:absolute;left:223px;top:171px;width:96px;height:1px;background:linear-gradient(90deg,#54cc7c 0.0px,#54cc7c 5.5px,#6bcd69 6.5px,#99c946 7.5px,#bdc32e 8.5px,#d8be28 9.5px,#efba35 10.5px,#febe3c 11.5px,#f5eb23 15.5px,#f9fb15 17.5px,#f9f916 22.5px,#f6de29 25.5px,#fec835 27.5px,#fcbc3d 28.5px,#d9bd28 29.5px,#a8c73b 30.5px,#96ca48 31.5px,#8ecb4e 41.5px,#80cc59 44.5px,#71cd64 45.5px,#56cc7b 46.5px,#2ec5a4 47.5px,#08b4d1 48.5px,#3ac994 49.5px,#64cd6f 50.5px,#7dcc5b 51.5px,#89cb52 52.5px,#95ca49 55.5px,#92ca4b 60.5px,#89cb52 62.5px,#80cc59 63.5px,#70cd65 64.5px,#55cc7c 65.5px,#2fc5a3 66.5px,#3bc992 67.5px,#5ecd74 68.5px,#73cd63 69.5px,#87cb54 71.5px,#96ca49 76.5px,#91ca4c 82.5px,#80cc59 86.5px,#6ecd67 88.5px,#54cc7c 89.5px,#54cc7c 96.0px)"></div>
<div style="position:absolute;left:223px;top:172px;width:96px;height:1px;background:linear-gradient(90deg,#5fcd73 0.0px,#5dcc75 1.5px,#6acd6a 4.5px,#6fcd66 6.5px,#88cb53 7.5px,#b0c636 8.5px,#c9c129 9.5px,#e0bc2a 10.5px,#f6ba3c 11.5px,#fec338 12.5px,#f5e825 15.5px,#f8f719 17.5px,#f9fb15 22.5px,#f5e427 25.5px,#fec338 28.5px,#eeba34 29.5px,#c4c22a 30.5px,#a3c83f 31.5px,#9ac946 33.5px,#a8c73b 35.5px,#a7c73c 37.5px,#a0c841 40.5px,#a2c83f 42.5px,#9dc943 43.5px,#82cc58 45.5px,#66cd6d 46.5px,#36c898 47.5px,#03b6cc 48.5px,#40ca8d 49.5px,#71cd64 50.5px,#8dcb50 51.5px,#99c946 52.5px,#a2c83f 54.5px,#a1c840 59.5px,#99c946 61.5px,#9ac945 62.5px,#96ca49 63.5px,#85cb56 64.5px,#66cd6d 65.5px,#36c898 66.5px,#48cb86 67.5px,#68cd6b 68.5px,#90ca4d 70.5px,#9fc941 72.5px,#a8c73b 76.5px,#98c947 80.5px,#99c946 84.5px,#7ccc5c 88.5px,#66cd6e 89.5px,#69cd6b 96.0px)"></div>
<div style="position:absolute;left:223px;top:173px;width:96px;height:1px;background:linear-gradient(90deg,#5ecc74 0.0px,#59cc78 1.5px,#74cc62 3.5px,#81cc59 5.5px,#90ca4d 6.5px,#94ca4a 7.5px,#9fc941 8.5px,#ccc028 10.5px,#e6bb2d 11.5px,#fcbc3d 12.5px,#fec934 13.5px,#f5e825 15.5px,#f6f11f 16.5px,#f9fb15 20.5px,#f9fa16 23.5px,#f5e227 26.5px,#fdcc32 28.5px,#febe3c 29.5px,#debc2a 30.5px,#acc738 31.5px,#9dc943 32.5px,#98c947 33.5px,#a7c73c 34.5px,#bcc42f 35.5px,#c8c129 36.5px,#c6c22a 37.5px,#afc637 39.5px,#abc739 40.5px,#b4c534 42.5px,#adc638 43.5px,#8acb52 45.5px,#71cd64 46.5px,#40ca8d 47.5px,#01b8c9 48.5px,#45cb89 49.5px,#76cc61 50.5px,#93ca4b 51.5px,#b6c532 53.5px,#bac430 54.5px,#adc638 56.5px,#b0c636 58.5px,#93ca4b 60.5px,#91ca4c 61.5px,#a8c73b 63.5px,#9cc944 64.5px,#7dcc5b 65.5px,#41ca8c 66.5px,#52cc7e 67.5px,#9cc944 70.5px,#a9c73a 71.5px,#b6c532 74.5px,#bec32e 75.5px,#bdc32e 76.5px,#b6c532 77.5px,#a9c73b 78.5px,#94ca4a 79.5px,#88cb53 80.5px,#89cb52 81.5px,#92ca4b 82.5px,#a3c83f 83.5px,#acc738 84.5px,#94ca4a 86.5px,#88cb53 88.5px,#70cd65 89.5px,#74cd62 91.5px,#6fcd66 93.5px,#7dcc5c 96.0px)"></div>
<div style="position:absolute;left:223px;top:174px;width:96px;height:1px;background:linear-gradient(90deg,#5ccc75 0.0px,#51cc7f 1.5px,#6fcd66 3.5px,#78cc5f 4.5px,#8acb51 5.5px,#a4c83e 6.5px,#b0c636 7.5px,#a4c83e 9.5px,#b1c635 10.5px,#cfc028 11.5px,#f0ba36 12.5px,#fec438 13.5px,#f5ea23 15.5px,#f6f11f 16.5px,#f5ec22 17.5px,#f9fb15 19.5px,#f9fa16 23.5px,#f5ec22 25.5px,#f6e128 27.5px,#fec835 29.5px,#f2ba38 30.5px,#c4c22b 31.5px,#a6c73c 32.5px,#a4c83e 33.5px,#cac129 35.5px,#debc2a 36.5px,#e3bc2c 37.5px,#d4bf27 38.5px,#c2c22c 39.5px,#bdc32e 40.5px,#c1c32c 42.5px,#bcc42f 43.5px,#9cc943 45.5px,#82cc57 46.5px,#4ccb83 47.5px,#01b9c7 48.5px,#4bcb84 49.5px,#7dcc5c 50.5px,#b1c636 52.5px,#c8c129 53.5px,#d0c027 54.5px,#c1c32c 56.5px,#c5c22a 57.5px,#bcc42f 58.5px,#8ccb50 60.5px,#84cb56 61.5px,#abc739 63.5px,#abc739 64.5px,#90ca4d 65.5px,#50cc80 66.5px,#59cc78 67.5px,#6acd6a 68.5px,#a1c840 70.5px,#c5c22a 74.5px,#ccc028 75.5px,#bec32e 77.5px,#afc636 78.5px,#93ca4b 79.5px,#7ecc5b 80.5px,#82cc58 81.5px,#9fc941 82.5px,#c3c22b 83.5px,#cbc129 84.5px,#9cc944 86.5px,#9ac945 88.5px,#81cc59 89.5px,#7ccc5c 90.5px,#7ecc5b 91.5px,#75cc61 92.5px,#77cc60 93.5px,#87cb54 94.5px,#90ca4d 96.0px)"></div>
<div style="position:absolute;left:223px;top:175px;width:96px;height:1px;background:linear-gradient(90deg,#64cd6f 0.0px,#49cb86 1.5px,#4ecc82 2.5px,#73cd63 4.5px,#acc738 6.5px,#bdc32e 7.5px,#bfc32e 8.5px,#aec637 9.5px,#a7c73c 10.5px,#b4c534 11.5px,#d2bf27 12.5px,#f8ba3d 13.5px,#fbd22f 14.5px,#f5ea24 15.5px,#f5ec22 16.5px,#f5e327 17.5px,#f5ea24 18.5px,#f9fb15 19.5px,#f9fb15 22.5px,#f5ea24 25.5px,#f6e028 27.5px,#fdcc32 29.5px,#febe3c 30.5px,#d9be28 31.5px,#b3c534 32.5px,#c3c22b 34.5px,#cdc028 35.5px,#e5bb2c 36.5px,#f2ba37 37.5px,#e2bc2b 38.5px,#cbc029 39.5px,#c5c22a 40.5px,#cbc029 42.5px,#c9c129 43.5px,#b1c635 45.5px,#99c946 46.5px,#58cc79 47.5px,#02bac5 48.5px,#53cc7d 49.5px,#86cb55 50.5px,#aec637 52.5px,#d1bf27 53.5px,#e3bc2c 54.5px,#d4bf27 57.5px,#b8c431 58.5px,#9dc943 59.5px,#8dcb4f 61.5px,#95ca49 62.5px,#b3c534 63.5px,#c3c22b 64.5px,#aec637 65.5px,#5fcd73 66.5px,#5ccc75 67.5px,#6bcd69 68.5px,#8ccb50 69.5px,#a4c83e 70.5px,#abc739 72.5px,#b6c532 73.5px,#c7c12a 74.5px,#d0bf27 75.5px,#bdc32e 77.5px,#bbc42f 78.5px,#a9c73a 79.5px,#8ecb4f 80.5px,#8dcb50 81.5px,#b6c533 82.5px,#dfbc2a 83.5px,#dabd28 84.5px,#aec637 85.5px,#93ca4b 86.5px,#9dc943 87.5px,#9fc942 88.5px,#83cc57 89.5px,#78cc5f 90.5px,#78cc5f 91.5px,#6ecd66 92.5px,#7ccc5c 93.5px,#9cc944 94.5px,#a5c83d 96.0px)"></div>
<div style="position:absolute;left:223px;top:176px;width:96px;height:1px;background:linear-gradient(90deg,#5acc77 0.0px,#44cb8a 1.5px,#4ccb83 2.5px,#94ca4a 5.5px,#bdc32e 7.5px,#cec028 8.5px,#cdc028 9.5px,#b2c635 10.5px,#9fc941 11.5px,#b6c532 12.5px,#ecba33 13.5px,#fbd22f 14.5px,#f5e625 15.5px,#f5e228 16.5px,#fad52d 17.5px,#f7dc2a 18.5px,#f7f31d 19.5px,#f9fb15 20.5px,#f9fb15 22.5px,#f7f61a 23.5px,#f5ea24 24.5px,#f5e725 26.5px,#fad42e 29.5px,#fec735 30.5px,#f0ba36 31.5px,#cbc029 32.5px,#d6be28 33.5px,#d1bf27 35.5px,#e7bb2e 36.5px,#f6ba3b 37.5px,#e6bb2d 38.5px,#d4bf28 39.5px,#ddbd29 42.5px,#d9bd28 45.5px,#c6c22a 46.5px,#79cc5e 47.5px,#12beb9 48.5px,#69cd6b 49.5px,#93ca4b 50.5px,#91ca4c 51.5px,#a4c83e 52.5px,#d4bf27 53.5px,#f4ba39 54.5px,#febd3c 55.5px,#febe3c 56.5px,#e9bb30 57.5px,#b1c635 58.5px,#97ca48 59.5px,#acc738 60.5px,#acc738 61.5px,#9fc941 62.5px,#c7c12a 64.5px,#b9c431 65.5px,#74cc62 66.5px,#64cd6f 67.5px,#79cc5f 68.5px,#a2c83f 69.5px,#b9c431 70.5px,#b4c534 71.5px,#a7c73c 72.5px,#b1c635 73.5px,#d2bf27 74.5px,#e2bc2b 75.5px,#d4bf28 76.5px,#c1c32c 77.5px,#bbc430 79.5px,#a0c840 80.5px,#9dc943 81.5px,#cec028 82.5px,#f4ba39 83.5px,#e1bc2b 84.5px,#a0c941 85.5px,#86cb54 86.5px,#a7c73c 87.5px,#bac430 88.5px,#7fcc5a 90.5px,#69cd6b 92.5px,#79cc5e 93.5px,#a0c840 94.5px,#b5c533 96.0px)"></div>
<div style="position:absolute;left:223px;top:177px;width:96px;height:1px;background:linear-gradient(90deg,#5ccc75 0.0px,#42ca8b 1.5px,#3fca8f 2.5px,#53cc7d 3.5px,#7ecc5b 4.5px,#9fc942 5.5px,#c2c22c 7.5px,#d6be28 8.5px,#d7be28 9.5px,#bbc42f 10.5px,#91ca4c 11.5px,#a7c73c 12.5px,#eabb30 13.5px,#fcd030 14.5px,#f7dd2a 15.5px,#fec636 17.5px,#fccf30 18.5px,#f5eb23 19.5px,#f9fb15 20.5px,#f9fb15 22.5px,#f6de29 24.5px,#f5e526 25.5px,#f7dc2a 29.5px,#febe3c 31.5px,#dfbc2a 32.5px,#d8be28 34.5px,#d1bf27 35.5px,#edba34 36.5px,#fdbd3d 37.5px,#e1bc2b 39.5px,#f5ba3a 41.5px,#e9bb30 43.5px,#fcbd3d 45.5px,#f1ba37 46.5px,#aac73a 47.5px,#37c897 48.5px,#98ca47 49.5px,#b0c636 50.5px,#94ca4a 51.5px,#98c947 52.5px,#ccc028 53.5px,#f9ba3d 54.5px,#fccf31 55.5px,#f9d62d 56.5px,#fdbd3d 57.5px,#c0c32d 58.5px,#b2c535 59.5px,#debd29 60.5px,#e4bb2c 61.5px,#c4c22b 62.5px,#c1c32c 63.5px,#d8be28 64.5px,#c9c129 65.5px,#86cb55 66.5px,#6acd6a 67.5px,#85cb55 68.5px,#b1c635 69.5px,#cbc129 70.5px,#c9c129 71.5px,#b2c535 72.5px,#b8c431 73.5px,#ddbd29 74.5px,#ecba32 75.5px,#dabd28 76.5px,#c0c32d 77.5px,#c5c22a 78.5px,#d5be28 79.5px,#c3c22b 81.5px,#e2bc2b 82.5px,#f5ba3b 83.5px,#cac129 84.5px,#6ecd67 85.5px,#66cd6d 86.5px,#b7c532 87.5px,#e5bb2d 88.5px,#cac129 89.5px,#98c947 90.5px,#89cb52 91.5px,#82cc58 92.5px,#8fca4d 93.5px,#b7c532 94.5px,#d0bf27 96.0px)"></div>
<div style="position:absolute;left:223px;top:178px;width:96px;height:1px;background:linear-gradient(90deg,#7dcc5b 0.0px,#60cd72 1.5px,#56cc7b 2.5px,#6ecd67 3.5px,#9cc943 4.5px,#b4c533 5.5px,#bec32e 6.5px,#d0c027 7.5px,#e0bc2a 8.5px,#e3bc2c 9.5px,#cdc028 10.5px,#a3c83f 11.5px,#9fc941 12.5px,#dabd28 13.5px,#fec835 14.5px,#fad52e 15.5px,#fec338 17.5px,#fdce31 18.5px,#f5e426 19.5px,#f9f916 20.5px,#f9fb15 22.5px,#f6df29 23.5px,#f9d72c 24.5px,#f5e924 25.5px,#f5ec22 26.5px,#f5e427 27.5px,#f5e526 29.5px,#f7db2a 30.5px,#fec735 31.5px,#e9bb2f 32.5px,#cdc028 33.5px,#cdc028 34.5px,#e1bc2b 35.5px,#fec338 36.5px,#fccf30 37.5px,#febe3c 38.5px,#f2ba38 39.5px,#fcbc3d 40.5px,#febf3b 41.5px,#f8ba3d 42.5px,#efba35 43.5px,#f7ba3c 44.5px,#fec537 45.5px,#fec636 46.5px,#e6bb2d 47.5px,#a1c840 48.5px,#cfc028 49.5px,#c6c22a 50.5px,#95ca49 51.5px,#93ca4b 52.5px,#c4c22b 53.5px,#f1ba37 54.5px,#fad42e 55.5px,#f5eb23 56.5px,#fcd030 57.5px,#d7be28 58.5px,#c5c22a 59.5px,#f6ba3b 60.5px,#fec13a 61.5px,#ebba31 62.5px,#d9bd28 63.5px,#e1bc2b 64.5px,#ccc028 65.5px,#90ca4d 66.5px,#74cc62 67.5px,#8dcb4f 68.5px,#b9c430 69.5px,#e4bb2c 70.5px,#f0ba36 71.5px,#d5be28 72.5px,#c8c129 73.5px,#e6bb2d 74.5px,#f4ba39 75.5px,#e5bb2d 76.5px,#d2bf27 77.5px,#dbbd29 78.5px,#f2ba38 79.5px,#f5ba3a 80.5px,#edba33 81.5px,#f2ba38 82.5px,#ebba32 83.5px,#aac739 84.5px,#58cc79 85.5px,#68cd6b 86.5px,#d3bf27 87.5px,#fec03b 88.5px,#e6bb2d 89.5px,#a7c73c 90.5px,#98c947 91.5px,#97ca47 92.5px,#a7c73c 93.5px,#d7be28 94.5px,#f1ba37 96.0px)"></div>
<div style="position:absolute;left:223px;top:179px;width:96px;height:1px;background:linear-gradient(90deg,#97ca48 0.0px,#88cb53 2.5px,#91ca4c 3.5px,#afc637 4.5px,#c3c22b 5.5px,#cfc028 6.5px,#dfbc2a 7.5px,#e2bc2b 8.5px,#dabd28 9.5px,#c8c129 10.5px,#b5c533 11.5px,#c3c22b 12.5px,#eaba31 13.5px,#fec338 14.5px,#fdcd31 15.5px,#fec03b 17.5px,#feca33 18.5px,#f5e227 19.5px,#f7f41c 20.5px,#f9fb15 21.5px,#f8f61a 22.5px,#f7dd2a 23.5px,#f9d62d 24.5px,#f5e626 25.5px,#f6ef20 26.5px,#f5eb23 27.5px,#f6f01f 29.5px,#f5e327 30.5px,#fec835 31.5px,#e5bb2d 32.5px,#b6c533 33.5px,#cec028 34.5px,#fcbc3d 35.5px,#f6de29 36.5px,#f5e526 37.5px,#fccf30 38.5px,#fec239 39.5px,#fec239 41.5px,#fabb3d 42.5px,#f4ba3a 43.5px,#fcbd3d 44.5px,#fec835 45.5px,#fdca33 46.5px,#fbbc3d 48.5px,#fbbc3d 49.5px,#e3bc2c 50.5px,#aec637 51.5px,#a7c73c 52.5px,#c9c129 53.5px,#e9bb2f 54.5px,#fccf30 55.5px,#f7f31d 56.5px,#f5e725 57.5px,#fcbd3d 58.5px,#e7bb2e 59.5px,#fec239 60.5px,#fccf30 61.5px,#fbbc3d 62.5px,#e0bc2b 63.5px,#d7be28 64.5px,#b3c534 65.5px,#7dcc5c 66.5px,#7acc5d 67.5px,#9fc942 68.5px,#cdc028 69.5px,#fabb3d 70.5px,#fec636 71.5px,#f5ba3b 72.5px,#e4bb2c 73.5px,#f2ba38 74.5px,#f7ba3c 75.5px,#ebba32 77.5px,#f4ba39 78.5px,#fec239 79.5px,#fec934 80.5px,#fcbd3d 82.5px,#ecba32 83.5px,#b5c533 84.5px,#7acc5e 85.5px,#9dc943 86.5px,#fbbc3d 87.5px,#f8da2b 88.5px,#fec03b 89.5px,#c9c129 90.5px,#bac430 91.5px,#b4c534 92.5px,#b8c431 93.5px,#e4bb2c 94.5px,#fdbd3d 96.0px)"></div>
<div style="position:absolute;left:223px;top:180px;width:96px;height:1px;background:linear-gradient(90deg,#c7c12a 0.0px,#b5c533 1.5px,#98c947 2.5px,#8fcb4e 3.5px,#c8c129 5.5px,#debd29 6.5px,#eeba34 7.5px,#eabb30 8.5px,#d3bf27 9.5px,#c0c32d 10.5px,#c3c22b 11.5px,#ddbd29 12.5px,#f8ba3d 13.5px,#fec13a 15.5px,#fec239 17.5px,#f5ee21 19.5px,#f6f21e 20.5px,#f5e526 22.5px,#fad62d 23.5px,#f9d72d 24.5px,#f5e924 25.5px,#f7f51b 26.5px,#f6f21e 29.5px,#f5e725 30.5px,#fdcc32 31.5px,#dfbc2a 32.5px,#9ac945 33.5px,#c4c22b 34.5px,#fec437 35.5px,#f6f01f 36.5px,#f9f916 37.5px,#f5e427 38.5px,#fdcd32 39.5px,#febe3c 41.5px,#fec03a 43.5px,#fdcd32 45.5px,#fabb3d 48.5px,#fabb3d 49.5px,#e9bb30 50.5px,#c1c32d 51.5px,#b3c534 52.5px,#cac129 53.5px,#e3bc2c 54.5px,#fec437 55.5px,#f5ea24 56.5px,#f6f01f 57.5px,#fbd32f 58.5px,#fdbd3d 59.5px,#fdcc32 61.5px,#febe3c 62.5px,#edba33 63.5px,#e6bb2d 64.5px,#c5c22a 65.5px,#9ac945 66.5px,#8ccb50 67.5px,#93ca4b 68.5px,#c0c32d 69.5px,#fdbd3d 70.5px,#fbd12f 71.5px,#fec239 72.5px,#efba35 73.5px,#e5bb2c 76.5px,#f5ba3a 77.5px,#fec537 78.5px,#fad62d 79.5px,#f6e028 80.5px,#f9d62d 81.5px,#fec239 82.5px,#e9bb30 83.5px,#b7c532 84.5px,#91ca4d 85.5px,#bdc32e 86.5px,#fec437 87.5px,#f6de29 88.5px,#fec339 89.5px,#d7be28 90.5px,#cac129 91.5px,#b9c430 92.5px,#b5c533 93.5px,#e5bb2d 94.5px,#fcbd3d 96.0px)"></div>
<div style="position:absolute;left:223px;top:181px;width:96px;height:1px;background:linear-gradient(90deg,#f1ba37 0.0px,#e2bc2b 1.5px,#c7c12a 2.5px,#b9c430 3.5px,#d6be28 5.5px,#ebba31 6.5px,#fdbd3d 7.5px,#febe3c 8.5px,#efba35 9.5px,#d4bf28 10.5px,#c7c12a 11.5px,#d8be28 12.5px,#f3ba38 13.5px,#fec13a 14.5px,#fec239 16.5px,#fdca33 17.5px,#f6e128 18.5px,#f7f31c 19.5px,#f5ee21 20.5px,#f6e128 21.5px,#f6e028 22.5px,#f9d82c 23.5px,#f8d92b 24.5px,#f5ea23 25.5px,#f8f818 26.5px,#f9f916 27.5px,#f7f31d 28.5px,#f6f21e 30.5px,#f7dd2a 31.5px,#f4ba39 32.5px,#bfc32e 33.5px,#d6be28 34.5px,#fcd12f 35.5px,#f9fb15 36.5px,#f9fb15 37.5px,#f7f31d 38.5px,#fad42e 39.5px,#fdbd3d 40.5px,#edba33 41.5px,#f1ba37 42.5px,#fec239 43.5px,#fcd030 44.5px,#fdcc32 45.5px,#febf3b 46.5px,#f5ba3a 49.5px,#eaba31 50.5px,#d3bf27 51.5px,#c4c22a 52.5px,#d2bf27 53.5px,#e6bb2d 54.5px,#febe3c 55.5px,#f6df29 56.5px,#f5ef21 57.5px,#febe3c 59.5px,#fec835 61.5px,#fcbd3d 62.5px,#efba35 63.5px,#e7bb2e 64.5px,#cdc028 65.5px,#90ca4d 67.5px,#85cb56 68.5px,#b7c532 69.5px,#fbbc3d 70.5px,#fcd030 71.5px,#fec339 72.5px,#f1ba37 73.5px,#ebba31 74.5px,#dbbd29 75.5px,#d4be28 76.5px,#efba35 77.5px,#fec835 78.5px,#f6de29 79.5px,#f5e924 80.5px,#f6de29 81.5px,#fec636 82.5px,#efba35 83.5px,#cdc028 84.5px,#c0c32d 85.5px,#e7bb2e 86.5px,#feca33 87.5px,#fbd22f 88.5px,#f8ba3d 89.5px,#d3bf27 90.5px,#c4c22a 91.5px,#a4c83e 92.5px,#9fc941 93.5px,#d9bd28 94.5px,#f0ba36 96.0px)"></div>
<div style="position:absolute;left:223px;top:182px;width:96px;height:1px;background:linear-gradient(90deg,#fec437 0.0px,#f4ba3a 1.5px,#d8be28 2.5px,#d0bf27 3.5px,#ebba32 5.5px,#f6ba3b 6.5px,#fec338 7.5px,#fdcc32 8.5px,#fec338 9.5px,#edba33 10.5px,#dabd28 11.5px,#e3bb2c 12.5px,#f8ba3d 13.5px,#fec438 14.5px,#fec934 15.5px,#fec736 16.5px,#fdcc32 17.5px,#f5e625 18.5px,#f9fb15 19.5px,#f9fb15 20.5px,#f5e825 21.5px,#f8da2b 23.5px,#f6de29 24.5px,#f6f21e 25.5px,#f9fb15 26.5px,#f8f917 30.5px,#f5e924 31.5px,#fec736 32.5px,#e2bc2b 33.5px,#e3bc2c 34.5px,#fccf30 35.5px,#f9fb15 36.5px,#f7f61a 38.5px,#fad42e 39.5px,#f7ba3c 40.5px,#e3bc2c 41.5px,#f0ba36 42.5px,#fec636 43.5px,#f9d72d 44.5px,#fdcd32 45.5px,#f9bb3d 46.5px,#f0ba36 47.5px,#efba35 49.5px,#f9bb3d 50.5px,#f8ba3d 51.5px,#eabb30 52.5px,#efba35 53.5px,#fcbd3d 54.5px,#fec13a 55.5px,#f6de29 57.5px,#fcd030 58.5px,#fcbd3d 59.5px,#fec636 61.5px,#fdbd3d 62.5px,#f9ba3d 64.5px,#e9bb2f 65.5px,#cec028 66.5px,#a3c83f 67.5px,#81cc58 68.5px,#a3c83f 69.5px,#e6bb2d 70.5px,#fec239 71.5px,#febe3c 72.5px,#e5bb2d 74.5px,#d3bf27 75.5px,#d0c027 76.5px,#eeba34 77.5px,#fec835 78.5px,#f7db2a 79.5px,#f5e426 80.5px,#f9d82c 81.5px,#fec03b 82.5px,#ecba32 83.5px,#d9be28 84.5px,#dbbd29 85.5px,#fbbc3d 86.5px,#fdcc32 87.5px,#fec636 88.5px,#efba35 89.5px,#e0bc2b 90.5px,#dbbd29 91.5px,#b4c534 92.5px,#a5c83d 93.5px,#d8be28 94.5px,#eaba31 96.0px)"></div>
<div style="position:absolute;left:223px;top:183px;width:96px;height:1px;background:linear-gradient(90deg,#fccf30 0.0px,#fbbc3d 1.5px,#d5be28 2.5px,#d3bf27 3.5px,#eaba31 4.5px,#f5ba3a 5.5px,#f9bb3d 6.5px,#fec338 7.5px,#fbd22f 8.5px,#f9d62d 9.5px,#fec636 10.5px,#f0ba36 11.5px,#e8bb2e 12.5px,#f3ba39 13.5px,#fec239 14.5px,#fdcd32 15.5px,#f9d72d 17.5px,#f6f21e 18.5px,#f9fb15 19.5px,#f9fb15 20.5px,#f5eb23 21.5px,#f9d72c 22.5px,#fad42e 23.5px,#f5e227 24.5px,#f9fb15 25.5px,#f9fa16 31.5px,#f6dd29 32.5px,#f8ba3d 33.5px,#dfbc2a 34.5px,#fec239 35.5px,#f5ef21 36.5px,#f9fb15 37.5px,#f6f01f 38.5px,#fdcc32 39.5px,#efba35 40.5px,#e9bb2f 41.5px,#fbbc3d 42.5px,#f9d82c 44.5px,#fec934 45.5px,#ecba32 46.5px,#d5be28 47.5px,#cdc028 48.5px,#e0bc2b 49.5px,#fec239 50.5px,#feca33 51.5px,#fdbd3d 52.5px,#fcbc3d 53.5px,#fec139 54.5px,#fcbd3d 56.5px,#fec338 57.5px,#fbbc3d 58.5px,#ebba32 59.5px,#f9bb3d 60.5px,#fec03a 61.5px,#fdbd3d 63.5px,#febf3c 64.5px,#f5ba3a 65.5px,#dcbd29 66.5px,#a9c73a 67.5px,#7bcc5d 68.5px,#8acb51 69.5px,#c1c32c 70.5px,#ecba32 71.5px,#f3ba39 72.5px,#e6bb2d 73.5px,#cdc028 76.5px,#dfbc2a 77.5px,#fabb3d 78.5px,#fec934 79.5px,#fbd32e 80.5px,#feca33 81.5px,#f5ba3a 82.5px,#e0bc2b 83.5px,#dabd28 84.5px,#ecba32 85.5px,#fec834 86.5px,#fbd22f 87.5px,#febe3c 88.5px,#e0bc2b 89.5px,#ebba31 91.5px,#c9c129 92.5px,#b7c532 93.5px,#dcbd29 94.5px,#e2bc2b 96.0px)"></div>
<div style="position:absolute;left:223px;top:184px;width:96px;height:1px;background:linear-gradient(90deg,#fdcd31 0.0px,#fbbc3d 1.5px,#dcbd29 2.5px,#e5bb2d 3.5px,#fdbd3d 4.5px,#fec339 5.5px,#fec239 7.5px,#f5e924 9.5px,#f7db2a 10.5px,#f9ba3d 11.5px,#debc2a 12.5px,#ecba33 13.5px,#fec338 14.5px,#fbd32e 15.5px,#f5e327 17.5px,#f8f719 18.5px,#f9fb15 20.5px,#f8f619 21.5px,#f6e028 22.5px,#fbd32e 23.5px,#f5e227 24.5px,#f9fb15 25.5px,#f9fb15 31.5px,#f5e725 32.5px,#fec239 33.5px,#e0bc2b 34.5px,#fabb3d 35.5px,#f5e327 36.5px,#f8f719 37.5px,#f5ea23 38.5px,#fdcd32 39.5px,#f8ba3d 40.5px,#f9bb3d 41.5px,#fec636 42.5px,#fbd22f 43.5px,#fad62d 44.5px,#fec537 45.5px,#e7bb2e 46.5px,#d0bf27 47.5px,#ccc028 48.5px,#e8bb2f 49.5px,#fdcb33 50.5px,#fad52d 51.5px,#fec735 52.5px,#fec239 53.5px,#fec338 54.5px,#f9bb3d 55.5px,#efba35 56.5px,#f0ba36 57.5px,#e2bc2b 58.5px,#ddbd29 59.5px,#fdbd3d 60.5px,#fdcb33 61.5px,#fec339 62.5px,#fec338 64.5px,#f8ba3d 65.5px,#dfbc2a 66.5px,#c4c22b 67.5px,#b0c636 68.5px,#a3c83e 69.5px,#a0c941 70.5px,#c3c22b 71.5px,#e2bc2b 72.5px,#dabd28 75.5px,#d3bf27 76.5px,#d8be28 77.5px,#e7bb2e 78.5px,#fbbc3d 79.5px,#fec835 80.5px,#fec13a 81.5px,#e9bb2f 82.5px,#ddbd29 83.5px,#e7bb2d 84.5px,#fabb3d 85.5px,#fbd22f 86.5px,#f7db2a 87.5px,#fec339 88.5px,#e8bb2e 89.5px,#fbbc3d 91.5px,#e6bb2d 93.5px,#f2ba38 94.5px,#e7bb2e 96.0px)"></div>
<div style="position:absolute;left:223px;top:185px;width:96px;height:1px;background:linear-gradient(90deg,#fec537 0.0px,#f5ba3b 1.5px,#d4bf28 2.5px,#e6bb2d 3.5px,#fec338 4.5px,#fec835 5.5px,#febe3c 6.5px,#f9bb3d 7.5px,#fdcb32 8.5px,#f5ea24 9.5px,#f5e626 10.5px,#fec537 11.5px,#f3ba39 12.5px,#fabb3d 13.5px,#fec437 14.5px,#fad52d 16.5px,#f5e526 17.5px,#f9fb15 18.5px,#f9fb15 21.5px,#f5e725 22.5px,#fad62d 23.5px,#f5e825 24.5px,#f9fb15 25.5px,#f9fb15 31.5px,#f5e725 32.5px,#fec13a 33.5px,#d8be28 34.5px,#e9bb30 35.5px,#fcd030 36.5px,#f5e725 37.5px,#f6e128 38.5px,#fdcb33 39.5px,#fec13a 40.5px,#fcd12f 41.5px,#f5e924 42.5px,#f5ed21 43.5px,#f6df29 44.5px,#fec835 45.5px,#f4ba39 46.5px,#e3bc2c 47.5px,#e0bc2a 48.5px,#fdbd3d 49.5px,#f6de29 50.5px,#f5e526 51.5px,#fad52d 52.5px,#fec934 54.5px,#fcbc3d 55.5px,#edba34 56.5px,#e5bb2d 58.5px,#e9bb30 59.5px,#fec438 60.5px,#fad42e 61.5px,#fec835 64.5px,#fbbc3d 65.5px,#eaba31 66.5px,#e0bc2a 68.5px,#bbc42f 69.5px,#87cb54 70.5px,#9bc945 71.5px,#c7c12a 72.5px,#ddbd29 74.5px,#f0ba36 75.5px,#f1ba37 77.5px,#eeba34 78.5px,#f6ba3b 79.5px,#fec438 80.5px,#fec139 81.5px,#e7bb2e 82.5px,#d7be28 83.5px,#e4bb2c 84.5px,#fabb3d 85.5px,#fad52d 86.5px,#f5e427 87.5px,#fdcd32 88.5px,#f4ba3a 89.5px,#f9bb3d 90.5px,#fec834 91.5px,#fec934 92.5px,#fbbc3d 94.5px,#e2bc2b 96.0px)"></div>
<div style="position:absolute;left:324px;top:4px;width:9px;height:182px;box-sizing:border-box;border:1px solid rgba(30,30,30,0.45);background-origin:border-box;background-image:linear-gradient(180deg,#f9fb15 0.0%,#f5e924 4.8%,#fad62d 9.5%,#fec338 14.3%,#f0ba36 19.0%,#d1bf27 23.8%,#abc739 28.6%,#81cc59 33.3%,#57cc7a 38.1%,#37c897 42.9%,#24c1ae 47.6%,#02bac3 52.4%,#12b1d6 57.1%,#20a5e3 61.9%,#2797eb 66.7%,#2e87f7 71.4%,#3875fe 76.2%,#4563fd 81.0%,#4852f4 85.7%,#4741e5 90.5%,#4332cb 95.2%,#3e26a8 100.0%,#3e26a8 100%)"></div>
<svg width="709" height="251" viewBox="0 0 709 251">
<text text-anchor="end" transform="translate(55.7 11.35) scale(1 1)">1000</text>
<text text-anchor="end" transform="translate(55.7 47.51) scale(1 1)">800</text>
<text text-anchor="end" transform="translate(55.7 83.67) scale(1 1)">600</text>
<text text-anchor="end" transform="translate(55.7 119.83) scale(1 1)">400</text>
<text text-anchor="end" transform="translate(55.7 155.99) scale(1 1)">200</text>
<text text-anchor="end" transform="translate(55.7 192.15) scale(1 1)">0</text>
<text text-anchor="middle" transform="translate(62.6 207.45) scale(1 1)">1850</text>
<text text-anchor="middle" transform="translate(122 207.45) scale(1 1)">1900</text>
<text text-anchor="middle" transform="translate(181.7 207.45) scale(1 1)">1950</text>
<text text-anchor="middle" transform="translate(122.9 225.9) scale(1 1)">Wavelength, nm</text>
<text text-anchor="middle" transform="translate(122.6 248) scale(1 1)">a)</text>
<text text-anchor="middle" transform="translate(12.9 95) rotate(-90) scale(1.02 1)">Cavity roundtrips</text>
<text text-anchor="middle" transform="translate(223.5 207.45) scale(1 1)">-10</text>
<text text-anchor="middle" transform="translate(271.5 207.45) scale(1 1)">0</text>
<text text-anchor="middle" transform="translate(319 207.45) scale(1 1)">10</text>
<text text-anchor="middle" transform="translate(271.7 225.9) scale(1 1)">Delay, ps</text>
<text text-anchor="middle" transform="translate(271.5 248) scale(1 1)">b)</text>
<text text-anchor="start" transform="translate(341.3 12.82) scale(1 1)">20</text>
<text text-anchor="start" transform="translate(341.3 31.06) scale(1 1)">10</text>
<text text-anchor="start" transform="translate(341.3 49.3) scale(1 1)">0</text>
<text text-anchor="start" transform="translate(341.3 67.54) scale(1 1)">-10</text>
<text text-anchor="start" transform="translate(341.3 85.78) scale(1 1)">-20</text>
<text text-anchor="start" transform="translate(341.3 104.02) scale(1 1)">-30</text>
<text text-anchor="start" transform="translate(341.3 122.26) scale(1 1)">-40</text>
<text text-anchor="start" transform="translate(341.3 140.5) scale(1 1)">-50</text>
<text text-anchor="start" transform="translate(341.3 158.74) scale(1 1)">-60</text>
<text text-anchor="start" transform="translate(341.3 176.98) scale(1 1)">-70</text>
<text text-anchor="middle" transform="translate(386.5 93.1) rotate(-90) scale(1.015 1)">Normalized intensity, dB</text>
<path d="M465.5 5.3H691.4V186.8H465.5Z" fill="none" stroke="#404040" stroke-width="1"/>
<path d="M465.5 186.8H462M465.5 172.85H463.3M465.5 158.9H462M465.5 144.95H463.3M465.5 131H462M465.5 117.05H463.3M465.5 103.1H462M465.5 89.15H463.3M465.5 75.2H462M465.5 61.25H463.3M465.5 47.3H462M465.5 33.35H463.3M465.5 19.4H462M465.5 5.45H463.3M465.5 186.8V190.3M488.09 186.8V189M510.68 186.8V190.3M533.27 186.8V189M555.86 186.8V190.3M578.45 186.8V189M601.04 186.8V190.3M623.63 186.8V189M646.22 186.8V190.3M668.81 186.8V189M691.4 186.8V190.3" stroke="#404040" stroke-width="1" fill="none"/>
<text text-anchor="end" transform="translate(458.6 192.7) scale(1 1)">0</text>
<text text-anchor="end" transform="translate(458.6 164.8) scale(1 1)">1</text>
<text text-anchor="end" transform="translate(458.6 136.9) scale(1 1)">2</text>
<text text-anchor="end" transform="translate(458.6 109) scale(1 1)">3</text>
<text text-anchor="end" transform="translate(458.6 81.1) scale(1 1)">4</text>
<text text-anchor="end" transform="translate(458.6 53.2) scale(1 1)">5</text>
<text text-anchor="end" transform="translate(458.6 25.3) scale(1 1)">6</text>
<text text-anchor="middle" transform="translate(465.5 207.45) scale(1 1)">0</text>
<text text-anchor="middle" transform="translate(510.68 207.45) scale(1 1)">200</text>
<text text-anchor="middle" transform="translate(555.86 207.45) scale(1 1)">400</text>
<text text-anchor="middle" transform="translate(601.04 207.45) scale(1 1)">600</text>
<text text-anchor="middle" transform="translate(646.22 207.45) scale(1 1)">800</text>
<text text-anchor="middle" transform="translate(691.4 207.45) scale(1 1)">1000</text>
<text text-anchor="middle" transform="translate(578 225.9) scale(1 1)">Roundtrip number</text>
<text text-anchor="middle" transform="translate(578 248) scale(1 1)">c)</text>
<text text-anchor="middle" transform="translate(435 95.3) rotate(-90) scale(1 1)">Power, mW</text>
<path d="M466 186.8C466.02 175.67 466.08 142.80 466.15 120.00C466.22 97.20 466.31 64.83 466.40 50.00C466.49 35.17 466.58 35.17 466.70 31.00C466.82 26.83 466.97 26.47 467.10 25.00C467.23 23.53 467.33 22.80 467.50 22.20C467.67 21.60 467.90 21.90 468.10 21.40C468.30 20.90 468.48 19.73 468.70 19.20C468.92 18.67 469.17 18.17 469.40 18.20C469.63 18.23 469.83 18.72 470.10 19.40C470.37 20.08 470.62 20.98 471.00 22.30C471.38 23.62 471.93 25.68 472.40 27.30C472.87 28.92 473.27 30.52 473.80 32.00C474.33 33.48 474.97 34.97 475.60 36.20C476.23 37.43 476.87 38.53 477.60 39.40C478.33 40.27 479.10 40.88 480.00 41.40C480.90 41.92 481.67 42.23 483.00 42.50C484.33 42.77 485.17 42.90 488.00 43.00C490.83 43.10 494.67 43.07 500.00 43.10C505.33 43.13 516.00 43.12 520.00 43.20C524.00 43.28 522.80 43.45 524.00 43.60C525.20 43.75 526.20 44.28 527.20 44.10C528.20 43.92 529.05 43.20 530.00 42.50C530.95 41.80 531.98 40.02 532.90 39.90C533.82 39.78 534.65 40.82 535.50 41.80C536.35 42.78 537.33 45.02 538.00 45.80C538.67 46.58 538.83 46.57 539.50 46.50C540.17 46.43 541.08 45.85 542.00 45.40C542.92 44.95 544.00 44.19 545.00 43.80C546.00 43.41 546.83 43.20 548.00 43.05C549.17 42.90 550.00 42.91 552.00 42.90C554.00 42.89 555.33 42.98 560.00 43.00C564.67 43.02 570.00 43.02 580.00 43.03C590.00 43.04 606.67 43.05 620.00 43.06C633.33 43.07 648.10 43.07 660.00 43.08C671.90 43.09 686.17 43.10 691.40 43.10" fill="none" stroke="#4636ae" stroke-width="1.8" stroke-linejoin="round"/>
</svg>
</div></body></html>
